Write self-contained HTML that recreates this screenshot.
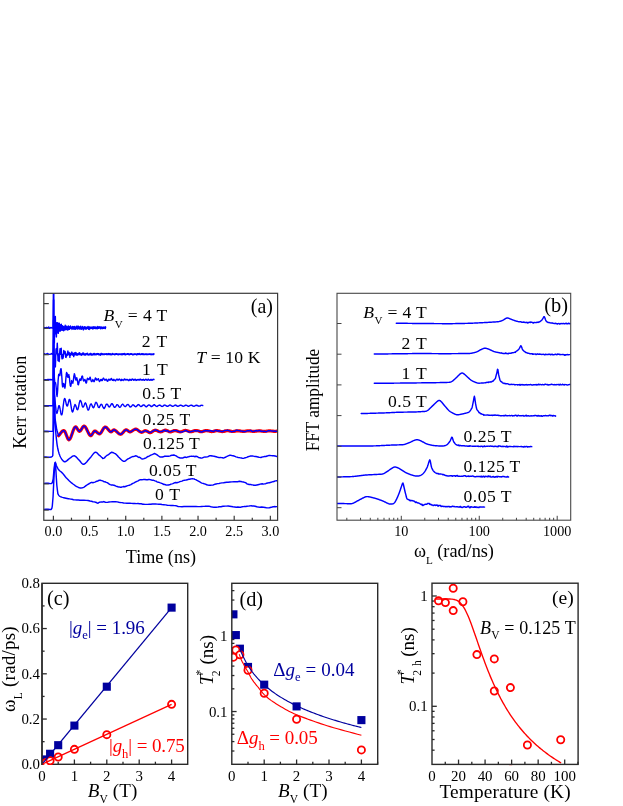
<!DOCTYPE html>
<html><head><meta charset="utf-8"><title>figure</title>
<style>
html,body{margin:0;padding:0;background:#fff;}
svg{display:block;font-family:"Liberation Serif", serif;will-change:transform;}
text{font-family:"Liberation Serif", serif;}
.i{font-style:italic;}
</style></head><body>
<svg width="623" height="806" viewBox="0 0 623 806">
<rect width="623" height="806" fill="#fff"/>
<defs>
<clipPath id="ca"><rect x="43.8" y="293.3" width="233.8" height="227"/></clipPath>
<clipPath id="cb"><rect x="337" y="293.3" width="233.7" height="227"/></clipPath>
<clipPath id="cc"><rect x="42" y="583.3" width="145.7" height="181.7"/></clipPath>
<clipPath id="cd"><rect x="231.8" y="583.3" width="145.9" height="181"/></clipPath>
<clipPath id="ce"><rect x="432" y="583.2" width="146.1" height="182.5"/></clipPath>
</defs>
<g clip-path="url(#ca)">
<path d="M43.80,328.61 L44.50,327.58 L45.20,327.82 L45.90,328.00 L46.60,327.42 L47.30,327.80 L48.00,327.80 L48.70,326.96 L49.40,328.29 L50.10,328.09 L50.80,327.50 L51.50,327.72 L52.20,328.04 L53.10,327.80 L53.50,280.00 L53.75,280.00 L53.91,328.91 L53.99,326.61 L54.07,328.75 L54.14,330.65 L54.22,336.53 L54.30,340.36 L54.38,342.66 L54.46,335.64 L54.54,331.24 L54.62,326.11 L54.70,320.49 L54.78,323.12 L54.86,327.40 L54.94,329.17 L55.02,331.95 L55.10,326.30 L55.18,323.70 L55.26,320.04 L55.34,316.45 L55.42,320.95 L55.50,322.97 L55.58,330.65 L55.66,332.62 L55.74,333.78 L55.82,329.08 L55.90,325.92 L55.97,326.33 L56.05,325.73 L56.13,329.59 L56.21,332.38 L56.29,336.10 L56.37,336.90 L56.45,334.24 L56.53,327.96 L56.61,322.62 L56.69,323.24 L56.77,325.05 L56.85,325.00 L56.93,328.86 L57.01,329.49 L57.09,327.76 L57.17,325.30 L57.25,322.93 L57.33,323.24 L57.41,322.73 L57.49,326.36 L57.57,328.27 L57.65,331.70 L57.72,333.07 L57.80,329.50 L57.88,325.57 L57.96,326.45 L58.04,327.50 L58.12,329.82 L58.20,332.05 L58.28,332.71 L58.36,333.17 L58.44,328.51 L58.52,327.52 L58.60,325.07 L58.68,323.26 L58.76,324.28 L58.84,327.81 L58.92,328.78 L59.00,328.60 L59.08,328.26 L59.16,327.80 L59.24,323.86 L59.32,323.30 L59.40,324.93 L59.47,328.34 L59.55,329.69 L59.63,331.05 L59.71,330.34 L59.79,327.40 L59.87,325.65 L59.95,325.75 L60.03,326.40 L60.11,327.75 L60.19,329.98 L60.27,330.83 L60.35,330.92 L60.43,328.82 L60.51,324.85 L60.59,324.90 L60.67,325.92 L60.75,326.99 L60.83,328.72 L60.91,328.56 L60.99,328.55 L61.07,329.27 L61.15,326.14 L61.23,326.09 L61.30,324.21 L61.38,326.32 L61.46,326.41 L61.54,329.68 L61.62,330.01 L61.70,329.00 L61.78,327.22 L61.86,326.62 L61.94,327.85 L62.02,327.07 L62.10,328.28 L62.18,329.72 L62.26,330.33 L62.34,327.74 L62.42,328.51 L62.50,327.68 L62.58,325.65 L62.66,326.18 L62.74,327.13 L62.82,327.34 L62.90,328.20 L62.98,328.21 L63.05,326.96 L63.13,326.61 L63.21,326.79 L63.29,326.66 L63.37,327.55 L63.45,327.97 L63.53,329.91 L63.61,330.78 L63.69,328.68 L63.77,329.10 L63.85,328.94 L63.93,326.77 L64.01,328.11 L64.09,327.84 L64.17,329.38 L64.25,330.06 L64.33,329.74 L64.41,328.29 L64.49,327.26 L64.57,327.30 L64.65,327.00 L64.73,328.64 L64.80,328.00 L64.88,329.87 L64.96,328.39 L65.04,327.10 L65.12,326.15 L65.20,325.29 L65.28,328.17 L65.36,326.84 L65.44,327.21 L65.52,327.92 L65.60,329.57 L65.68,328.10 L65.76,326.34 L65.84,328.66 L65.92,326.98 L66.00,326.79 L66.08,328.79 L66.16,328.15 L66.24,329.54 L66.32,328.96 L66.40,328.35 L66.48,326.98 L66.56,326.98 L66.63,326.30 L66.71,328.26 L66.79,328.06 L66.87,327.38 L66.95,327.56 L67.03,328.68 L67.11,326.69 L67.19,327.43 L67.27,326.93 L67.35,327.45 L67.43,327.24 L67.51,328.45 L67.59,330.01 L67.67,329.33 L67.75,327.28 L67.83,327.78 L67.91,326.68 L67.99,327.61 L68.07,328.76 L68.15,327.56 L68.23,328.99 L68.31,329.65 L68.38,326.00 L68.46,328.72 L68.54,326.62 L68.62,326.54 L68.70,327.47 L68.78,329.17 L68.86,327.21 L68.94,328.97 L69.02,328.63 L69.10,327.63 L69.18,326.69 L69.26,327.25 L69.34,327.22 L69.42,328.53 L69.50,328.53 L69.58,329.23 L69.66,328.38 L69.74,327.42 L69.82,327.92 L69.90,327.35 L69.98,328.32 L70.06,328.55 L70.13,328.19 L70.21,328.29 L70.29,327.44 L70.37,327.42 L70.45,326.02 L70.53,327.41 L70.61,327.55 L70.69,328.38 L70.77,327.80 L70.85,327.37 L70.93,328.33 L71.01,327.64 L71.09,326.94 L71.17,327.57 L71.25,328.03 L71.33,327.21 L71.41,328.10 L71.49,328.01 L71.57,327.40 L71.65,327.25 L71.73,328.14 L71.81,328.15 L71.88,327.58 L71.96,328.00 L72.04,329.40 L72.12,327.16 L72.20,327.97 L72.28,327.24 L72.36,328.37 L72.44,326.45 L72.52,327.77 L72.60,327.53 L72.68,328.62 L72.76,327.88 L72.84,327.97 L72.92,327.88 L73.00,327.33 L73.08,327.54 L73.16,326.93 L73.24,328.10 L73.32,328.68 L73.40,328.17 L73.48,327.79 L73.56,327.31 L73.64,327.47 L73.71,329.13 L73.79,327.56 L73.87,326.82 L73.95,327.86 L74.03,328.32 L74.11,327.75 L74.19,328.21 L74.27,327.25 L74.35,327.53 L74.43,326.46 L74.51,327.07 L74.59,328.00 L74.67,327.22 L74.75,327.10 L74.83,328.16 L74.91,328.03 L74.99,329.25 L75.07,327.06 L75.15,328.13 L75.23,329.30 L75.31,329.21 L75.39,328.28 L75.46,327.66 L75.54,328.18 L75.62,327.70 L75.70,328.65 L75.78,328.74 L75.86,327.25 L75.94,327.55 L76.02,327.92 L76.10,327.01 L76.18,328.40 L76.26,327.91 L76.34,326.84 L76.42,326.24 L76.50,327.46 L76.58,326.44 L76.66,328.04 L76.74,327.51 L76.82,327.87 L76.90,328.79 L76.98,327.57 L77.06,327.14 L77.14,327.91 L77.21,327.97 L77.29,327.13 L77.37,328.93 L77.45,329.10 L77.53,328.50 L77.61,328.76 L77.69,327.04 L77.77,327.65 L77.85,328.39 L77.93,328.24 L78.01,326.00 L78.09,328.18 L78.17,328.19 L78.25,327.41 L78.33,327.11 L78.41,327.34 L78.49,328.09 L78.57,328.32 L78.65,327.29 L78.73,327.76 L78.81,328.80 L78.89,327.04 L78.97,327.30 L79.04,327.97 L79.12,328.05 L79.20,327.82 L79.28,328.48 L79.36,328.94 L79.44,327.89 L79.52,328.94 L79.60,327.72 L79.68,328.79 L79.76,327.90 L79.84,327.90 L79.92,326.70 L80.00,328.43 L80.08,328.60 L80.16,328.05 L80.24,328.27 L80.32,327.89 L80.40,327.25 L80.48,327.07 L80.56,326.59 L80.64,328.13 L80.72,326.13 L80.79,326.57 L80.87,327.93 L80.95,329.23 L81.03,327.92 L81.11,327.89 L81.19,329.39 L81.27,328.01 L81.35,328.20 L81.43,328.53 L81.51,327.63 L81.59,327.33 L81.67,328.16 L81.75,327.68 L81.83,328.18 L81.91,328.23 L81.99,327.68 L82.07,327.36 L82.15,327.95 L82.23,328.88 L82.31,327.19 L82.39,328.49 L82.47,327.51 L82.54,326.59 L82.62,327.72 L82.70,328.47 L82.78,328.67 L82.86,327.16 L82.94,327.89 L83.02,327.60 L83.10,327.43 L83.18,328.05 L83.26,328.23 L83.34,328.61 L83.42,329.83 L83.50,328.86 L83.58,327.95 L83.66,327.95 L83.74,327.56 L83.82,327.83 L83.90,327.63 L83.98,327.23 L84.06,328.15 L84.14,327.76 L84.22,328.49 L84.30,326.99 L84.37,327.55 L84.45,327.33 L84.53,326.79 L84.61,327.12 L84.69,327.83 L84.77,327.39 L84.85,328.70 L84.93,327.67 L85.01,327.88 L85.09,328.91 L85.17,327.27 L85.25,328.44 L85.33,327.64 L85.41,328.23 L85.49,327.38 L85.57,327.14 L85.65,328.28 L85.73,328.62 L85.81,327.79 L85.89,327.21 L85.97,327.86 L86.05,327.96 L86.12,327.31 L86.20,329.11 L86.28,327.94 L86.36,328.37 L86.44,327.49 L86.52,328.12 L86.60,328.39 L86.68,328.03 L86.76,328.69 L86.84,327.92 L86.92,328.32 L87.00,328.19 L87.08,328.40 L87.16,327.52 L87.24,328.08 L87.32,327.71 L87.40,327.70 L87.48,328.34 L87.56,327.53 L87.64,327.59 L87.72,327.56 L87.80,327.91 L87.87,327.89 L87.95,327.20 L88.03,326.42 L88.11,328.03 L88.19,327.29 L88.27,327.80 L88.35,327.21 L88.43,327.45 L88.51,327.18 L88.59,329.31 L88.67,328.18 L88.75,328.44 L88.83,328.00 L88.91,328.36 L88.99,328.34 L89.07,327.65 L89.15,327.00 L89.23,329.50 L89.31,328.13 L89.39,327.76 L89.47,327.86 L89.55,327.99 L89.63,328.46 L89.70,328.20 L89.78,327.28 L89.86,327.06 L89.94,327.56 L90.02,328.03 L90.10,327.54 L90.18,327.73 L90.26,327.34 L90.34,327.61 L90.42,328.05 L90.50,327.69 L90.58,328.46 L90.66,327.47 L90.74,327.32 L90.82,328.58 L90.90,327.77 L90.98,328.52 L91.06,327.45 L91.14,327.53 L91.22,328.09 L91.30,327.42 L91.38,328.11 L91.45,328.16 L91.53,328.06 L91.61,327.79 L91.69,327.84 L91.77,327.56 L91.85,327.93 L91.93,327.21 L92.01,327.07 L92.09,327.86 L92.17,328.35 L92.25,327.29 L92.33,327.13 L92.41,327.85 L92.49,328.47 L92.57,327.74 L92.65,327.15 L92.73,328.91 L92.81,327.74 L92.89,328.16 L92.97,328.43 L93.05,327.75 L93.13,328.63 L93.20,327.79 L93.28,327.24 L93.36,327.76 L93.44,328.23 L93.52,328.62 L93.60,328.33 L93.68,328.57 L93.76,326.82 L93.84,327.73 L93.92,328.12 L94.00,328.25 L94.08,328.15 L94.16,327.82 L94.24,328.33 L94.32,326.92 L94.40,328.17 L94.48,328.24 L94.56,327.75 L94.64,327.23 L94.72,327.32 L94.80,328.23 L94.88,327.88 L94.96,327.92 L95.03,327.72 L95.11,327.83 L95.19,328.37 L95.27,328.48 L95.35,327.72 L95.43,328.33 L95.51,327.04 L95.59,327.64 L95.67,328.13 L95.75,327.76 L95.83,327.85 L95.91,327.67 L95.99,327.16 L96.07,328.34 L96.15,328.59 L96.23,327.57 L96.31,327.87 L96.39,327.76 L96.47,327.68 L96.55,328.02 L96.63,327.58 L96.71,328.42 L96.78,327.97 L96.86,328.39 L96.94,328.52 L97.02,327.66 L97.10,327.65 L97.18,328.80 L97.26,328.36 L97.34,327.63 L97.42,327.21 L97.50,327.99 L97.58,327.73 L97.66,328.28 L97.74,326.42 L97.82,327.38 L97.90,327.19 L97.98,327.33 L98.06,327.24 L98.14,327.43 L98.22,327.93 L98.30,327.47 L98.38,327.83 L98.46,327.31 L98.53,328.30 L98.61,328.23 L98.69,327.69 L98.77,327.40 L98.85,327.92 L98.93,328.29 L99.01,327.98 L99.09,328.12 L99.17,326.96 L99.25,327.37 L99.33,327.15 L99.41,327.55 L99.49,327.91 L99.57,327.08 L99.65,326.85 L99.73,327.34 L99.81,327.63 L99.89,327.14 L99.97,327.84 L100.05,327.36 L100.13,328.08 L100.21,328.25 L100.29,327.59 L100.36,327.75 L100.44,327.07 L100.52,328.10 L100.60,327.98 L100.68,328.51 L100.76,328.84 L100.84,328.78 L100.92,327.73 L101.00,328.43 L101.08,327.34 L101.16,327.16 L101.24,327.88 L101.32,326.96 L101.40,327.56 L101.48,327.13 L101.56,327.72 L101.64,327.18 L101.72,328.04 L101.80,327.35 L101.88,327.87 L101.96,327.75 L102.04,327.46 L102.11,327.71 L102.19,327.87 L102.27,327.56 L102.35,327.57 L102.43,328.58 L102.51,327.73 L102.59,327.69 L102.67,328.32 L102.75,327.80 L102.83,328.53 L102.91,327.27 L102.99,327.97 L103.07,327.85 L103.15,327.24 L103.23,327.79 L103.31,327.42 L103.39,328.11 L103.47,327.87 L103.55,328.23 L103.63,327.71 L103.71,327.17 L103.79,327.55 L103.86,327.30 L103.94,328.18 L104.02,328.16 L104.10,328.03 L104.18,327.62 L104.26,327.76 L104.34,327.95 L104.42,327.70 L104.50,328.05 L104.58,328.00 L104.66,327.41 L104.74,328.21 L104.82,327.84 L104.90,327.18 L104.98,327.79 L105.06,327.48 L105.14,328.00 L105.22,326.85 L105.30,328.63 L105.38,328.12 L105.46,328.07 L105.54,326.92 L105.62,327.47" fill="none" stroke="#0000ff" stroke-width="1.45" stroke-linejoin="round" stroke-linecap="round" />
<path d="M43.80,354.08 L44.50,353.62 L45.20,354.36 L45.90,354.25 L46.60,353.89 L47.30,353.53 L48.00,353.70 L48.70,354.30 L49.40,354.34 L50.10,354.23 L50.80,354.13 L51.50,353.40 L52.20,354.22 L53.10,354.20 L53.50,300.00 L53.75,300.00 L53.91,357.11 L54.00,358.37 L54.09,358.93 L54.19,359.67 L54.28,358.86 L54.38,355.59 L54.47,354.76 L54.56,354.82 L54.66,356.97 L54.75,355.58 L54.85,357.04 L54.94,359.22 L55.03,363.45 L55.13,365.70 L55.22,366.94 L55.32,366.10 L55.41,366.75 L55.50,363.68 L55.60,361.34 L55.69,356.96 L55.79,355.22 L55.88,350.95 L55.97,349.91 L56.07,348.96 L56.16,348.60 L56.26,349.08 L56.35,352.74 L56.44,351.79 L56.54,352.96 L56.63,353.75 L56.73,351.67 L56.82,351.23 L56.91,348.47 L57.01,348.02 L57.10,346.59 L57.20,343.95 L57.29,343.14 L57.38,345.30 L57.48,346.92 L57.57,350.47 L57.67,353.88 L57.76,355.63 L57.85,356.41 L57.95,360.42 L58.04,359.88 L58.14,360.70 L58.23,358.26 L58.32,356.49 L58.42,356.98 L58.51,355.55 L58.61,353.99 L58.70,355.48 L58.80,357.33 L58.89,358.73 L58.98,360.68 L59.08,359.76 L59.17,361.58 L59.27,360.19 L59.36,359.52 L59.45,359.16 L59.55,357.07 L59.64,353.90 L59.74,352.28 L59.83,350.52 L59.92,350.87 L60.02,348.63 L60.11,350.23 L60.21,352.03 L60.30,351.86 L60.39,352.12 L60.49,351.65 L60.58,353.76 L60.68,354.25 L60.77,351.10 L60.86,351.55 L60.96,350.82 L61.05,350.53 L61.15,350.01 L61.24,348.32 L61.33,350.24 L61.43,351.65 L61.52,353.22 L61.62,353.50 L61.71,356.66 L61.80,357.10 L61.90,358.16 L61.99,358.42 L62.09,358.90 L62.18,357.13 L62.27,355.56 L62.37,355.80 L62.46,355.71 L62.56,355.61 L62.65,354.66 L62.74,355.42 L62.84,355.99 L62.93,356.67 L63.03,358.32 L63.12,357.12 L63.21,357.41 L63.31,357.06 L63.40,355.88 L63.50,354.16 L63.59,353.37 L63.68,352.69 L63.78,350.35 L63.87,350.82 L63.97,350.87 L64.06,351.72 L64.15,351.31 L64.25,352.80 L64.34,353.24 L64.44,353.24 L64.53,353.86 L64.62,353.24 L64.72,353.41 L64.81,353.38 L64.91,352.77 L65.00,352.41 L65.09,351.42 L65.19,351.90 L65.28,352.62 L65.38,352.59 L65.47,354.05 L65.56,355.48 L65.66,357.12 L65.75,356.66 L65.85,357.22 L65.94,357.40 L66.03,357.42 L66.13,357.12 L66.22,356.05 L66.32,355.07 L66.41,354.74 L66.50,354.42 L66.60,354.55 L66.69,354.24 L66.79,354.66 L66.88,355.68 L66.97,355.12 L67.07,355.28 L67.16,355.21 L67.26,355.43 L67.35,354.88 L67.44,354.69 L67.54,352.71 L67.63,353.69 L67.73,352.06 L67.82,351.72 L67.91,351.00 L68.01,351.78 L68.10,352.83 L68.20,353.69 L68.29,353.87 L68.38,353.87 L68.48,354.20 L68.57,354.44 L68.67,354.61 L68.76,354.07 L68.85,353.05 L68.95,353.99 L69.04,353.19 L69.14,352.33 L69.23,353.20 L69.32,354.24 L69.42,354.19 L69.51,355.63 L69.61,355.78 L69.70,355.33 L69.79,355.36 L69.89,357.37 L69.98,355.77 L70.08,354.65 L70.17,355.54 L70.27,354.59 L70.36,353.47 L70.45,354.31 L70.55,353.69 L70.64,354.04 L70.74,355.26 L70.83,354.25 L70.92,354.76 L71.02,354.27 L71.11,353.61 L71.21,354.18 L71.30,354.40 L71.39,353.51 L71.49,353.16 L71.58,352.28 L71.68,353.29 L71.77,353.00 L71.86,353.51 L71.96,352.31 L72.05,353.01 L72.15,353.77 L72.24,354.24 L72.33,354.52 L72.43,354.95 L72.52,354.72 L72.62,354.77 L72.71,353.64 L72.80,354.01 L72.90,354.43 L72.99,354.21 L73.09,353.30 L73.18,353.83 L73.27,354.17 L73.37,354.29 L73.46,354.21 L73.56,355.98 L73.65,355.97 L73.74,356.57 L73.84,355.37 L73.93,355.62 L74.03,355.46 L74.12,355.14 L74.21,354.04 L74.31,354.16 L74.40,354.15 L74.50,353.16 L74.59,354.34 L74.68,354.56 L74.78,352.78 L74.87,354.40 L74.97,354.57 L75.06,354.66 L75.15,354.27 L75.25,353.62 L75.34,353.38 L75.44,353.21 L75.53,353.37 L75.62,353.80 L75.72,352.88 L75.81,352.34 L75.91,352.74 L76.00,353.60 L76.09,353.44 L76.19,354.31 L76.28,354.41 L76.38,355.15 L76.47,354.79 L76.56,354.56 L76.66,354.62 L76.75,354.05 L76.85,353.41 L76.94,353.60 L77.03,354.36 L77.13,354.63 L77.22,354.73 L77.32,355.07 L77.41,354.80 L77.50,354.80 L77.60,355.02 L77.69,355.05 L77.79,355.00 L77.88,354.98 L77.97,355.03 L78.07,353.64 L78.16,353.70 L78.26,354.38 L78.35,354.23 L78.44,354.02 L78.54,353.75 L78.63,353.26 L78.73,353.47 L78.82,353.54 L78.91,353.60 L79.01,353.61 L79.10,353.73 L79.20,353.76 L79.29,353.88 L79.38,354.46 L79.48,353.62 L79.57,352.68 L79.67,353.71 L79.76,353.81 L79.85,353.22 L79.95,353.83 L80.04,354.29 L80.14,353.61 L80.23,354.19 L80.32,354.26 L80.42,354.89 L80.51,354.43 L80.61,354.42 L80.70,354.17 L80.79,353.93 L80.89,353.88 L80.98,354.26 L81.08,354.06 L81.17,354.91 L81.26,354.24 L81.36,354.33 L81.45,354.87 L81.55,355.09 L81.64,354.78 L81.73,355.20 L81.83,354.43 L81.92,354.29 L82.02,354.63 L82.11,354.04 L82.21,353.47 L82.30,353.37 L82.39,353.34 L82.49,353.83 L82.58,353.95 L82.68,354.04 L82.77,353.71 L82.86,353.05 L82.96,353.47 L83.05,353.39 L83.15,353.44 L83.24,354.59 L83.33,353.94 L83.43,353.98 L83.52,353.27 L83.62,353.11 L83.71,354.12 L83.80,353.94 L83.90,353.86 L83.99,354.43 L84.09,354.63 L84.18,354.77 L84.27,354.23 L84.37,354.98 L84.46,354.17 L84.56,354.54 L84.65,354.22 L84.74,353.84 L84.84,354.66 L84.93,354.68 L85.03,354.19 L85.12,354.78 L85.21,354.70 L85.31,354.51 L85.40,354.44 L85.50,354.99 L85.59,354.64 L85.68,354.21 L85.78,353.83 L85.87,354.98 L85.97,353.61 L86.06,353.65 L86.15,354.31 L86.25,354.39 L86.34,353.64 L86.44,353.96 L86.53,353.79 L86.62,353.57 L86.72,354.10 L86.81,353.95 L86.91,353.87 L87.00,353.73 L87.09,353.40 L87.19,353.40 L87.28,353.92 L87.38,354.07 L87.47,353.11 L87.56,353.77 L87.66,353.90 L87.75,354.54 L87.85,353.95 L87.94,354.62 L88.03,354.60 L88.13,354.99 L88.22,354.75 L88.32,354.56 L88.41,355.11 L88.50,354.86 L88.60,354.51 L88.69,354.88 L88.79,354.83 L88.88,354.64 L88.97,354.82 L89.07,354.10 L89.16,354.68 L89.26,354.06 L89.35,354.01 L89.44,354.76 L89.54,354.29 L89.63,354.43 L89.73,354.59 L89.82,354.23 L89.91,354.12 L90.01,353.71 L90.10,353.54 L90.20,354.24 L90.29,353.99 L90.38,353.67 L90.48,353.48 L90.57,354.78 L90.67,353.55 L90.76,354.10 L90.85,353.55 L90.95,354.25 L91.04,354.41 L91.14,354.11 L91.23,353.72 L91.32,354.12 L91.42,354.94 L91.51,353.93 L91.61,354.75 L91.70,354.59 L91.79,354.72 L91.89,355.01 L91.98,354.87 L92.08,354.83 L92.17,354.73 L92.26,354.55 L92.36,354.62 L92.45,354.97 L92.55,354.49 L92.64,354.06 L92.73,354.02 L92.83,354.25 L92.92,354.06 L93.02,353.95 L93.11,353.78 L93.20,353.67 L93.30,354.32 L93.39,354.29 L93.49,353.69 L93.58,353.63 L93.68,353.59 L93.77,354.81 L93.86,354.06 L93.96,355.00 L94.05,353.68 L94.15,353.88 L94.24,353.88 L94.33,353.96 L94.43,353.54 L94.52,354.09 L94.62,353.72 L94.71,353.92 L94.80,354.02 L94.90,354.02 L94.99,354.16 L95.09,354.56 L95.18,353.99 L95.27,354.01 L95.37,354.29 L95.46,354.04 L95.56,354.02 L95.65,354.74 L95.74,354.42 L95.84,354.55 L95.93,354.73 L96.03,354.37 L96.12,354.74 L96.21,354.60 L96.31,354.37 L96.40,354.30 L96.50,354.27 L96.59,353.63 L96.68,354.43 L96.78,354.15 L96.87,354.57 L96.97,354.02 L97.06,353.80 L97.15,353.77 L97.25,354.32 L97.34,354.19 L97.44,353.71 L97.53,354.10 L97.62,353.75 L97.72,354.30 L97.81,353.57 L97.91,353.65 L98.00,353.81 L98.09,354.19 L98.19,354.01 L98.28,353.95 L98.38,353.95 L98.47,354.10 L98.56,354.18 L98.66,354.10 L98.75,353.79 L98.85,354.83 L98.94,354.67 L99.03,354.74 L99.13,354.50 L99.22,354.82 L99.32,354.16 L99.41,354.31 L99.50,354.43 L99.60,354.57 L99.69,354.35 L99.79,354.36 L99.88,354.33 L99.97,354.64 L100.07,354.23 L100.16,354.82 L100.26,354.01 L100.35,355.22 L100.44,354.46 L100.54,354.59 L100.63,353.98 L100.73,354.59 L100.82,353.61 L100.91,354.55 L101.01,353.51 L101.10,353.95 L101.20,354.05 L101.29,353.93 L101.38,353.42 L101.48,353.78 L101.57,354.65 L101.67,353.67 L101.76,353.94 L101.85,354.45 L101.95,353.79 L102.04,354.36 L102.14,353.99 L102.23,354.00 L102.32,354.29 L102.42,353.97 L102.51,354.47 L102.61,354.18 L102.70,354.42 L102.79,354.35 L102.89,353.79 L102.98,354.31 L103.08,354.65 L103.17,354.39 L103.26,354.58 L103.36,354.36 L103.45,354.33 L103.55,354.36 L103.64,354.36 L103.73,354.53 L103.83,354.26 L103.92,354.08 L104.02,354.52 L104.11,354.34 L104.20,354.27 L104.30,353.92 L104.39,353.92 L104.49,354.37 L104.58,354.12 L104.67,354.50 L104.77,354.34 L104.86,354.05 L104.96,353.87 L105.05,353.78 L105.14,354.11 L105.24,354.38 L105.33,353.92 L105.43,354.07 L105.52,353.92 L105.62,353.99 L105.71,353.85 L105.80,353.88 L105.90,353.85 L105.99,354.21 L106.09,353.86 L106.18,354.28 L106.27,354.16 L106.37,353.74 L106.46,354.17 L106.56,354.59 L106.65,353.93 L106.74,354.09 L106.84,354.07 L106.93,354.32 L107.03,354.29 L107.12,354.44 L107.21,354.56 L107.31,353.98 L107.40,354.46 L107.50,354.48 L107.59,354.46 L107.68,353.86 L107.78,354.09 L107.87,354.39 L107.97,354.28 L108.06,354.11 L108.15,353.99 L108.25,354.59 L108.34,353.92 L108.44,354.17 L108.53,354.26 L108.62,354.16 L108.72,353.84 L108.81,353.59 L108.91,353.98 L109.00,353.88 L109.09,354.22 L109.19,353.91 L109.28,353.83 L109.38,354.42 L109.47,354.19 L109.56,353.88 L109.66,354.53 L109.75,354.21 L109.85,353.99 L109.94,354.58 L110.03,354.29 L110.13,354.21 L110.22,354.04 L110.32,354.60 L110.41,354.04 L110.50,354.26 L110.60,354.07 L110.69,354.09 L110.79,354.30 L110.88,354.26 L110.97,354.80 L111.07,354.70 L111.16,354.60 L111.26,354.43 L111.35,354.11 L111.44,354.74 L111.54,354.37 L111.63,354.59 L111.73,354.62 L111.82,353.87 L111.91,354.18 L112.01,353.78 L112.10,353.86 L112.20,354.33 L112.29,354.53 L112.38,353.57 L112.48,354.14 L112.57,354.30 L112.67,353.86 L112.76,353.99 L112.85,354.18 L112.95,354.11 L113.04,354.00 L113.14,354.04 L113.23,353.90 L113.32,354.18 L113.42,354.19 L113.51,354.00 L113.61,354.09 L113.70,353.93 L113.79,354.27 L113.89,354.26 L113.98,354.53 L114.08,353.94 L114.17,354.63 L114.26,354.29 L114.36,354.56 L114.45,354.29 L114.55,354.20 L114.64,354.76 L114.73,354.42 L114.83,354.77 L114.92,354.04 L115.02,354.44 L115.11,354.68 L115.20,354.46 L115.30,353.98 L115.39,353.92 L115.49,353.94 L115.58,354.39 L115.67,354.22 L115.77,353.79 L115.86,354.30 L115.96,354.19 L116.05,354.30 L116.14,354.33 L116.24,353.78 L116.33,353.90 L116.43,353.93 L116.52,353.90 L116.61,353.80 L116.71,353.70 L116.80,354.05 L116.90,354.14 L116.99,354.31 L117.08,353.86 L117.18,354.24 L117.27,354.48 L117.37,354.23 L117.46,354.19 L117.56,354.04 L117.65,354.03 L117.74,354.43 L117.84,354.47 L117.93,354.39 L118.03,354.60 L118.12,354.37 L118.21,354.26 L118.31,354.36 L118.40,354.72 L118.50,354.63 L118.59,354.08 L118.68,354.57 L118.78,354.17 L118.87,354.18 L118.97,354.36 L119.06,354.49 L119.15,354.20 L119.25,354.41 L119.34,354.23 L119.44,354.15 L119.53,354.30 L119.62,354.17 L119.72,354.17 L119.81,354.35 L119.91,354.11 L120.00,354.19 L120.09,354.44 L120.19,354.11 L120.28,354.10 L120.38,354.17 L120.47,354.48 L120.56,353.89 L120.66,353.92 L120.75,353.95 L120.85,354.04 L120.94,354.40 L121.03,354.13 L121.13,354.38 L121.22,353.75 L121.32,354.34 L121.41,354.12 L121.50,354.61 L121.60,354.55 L121.69,354.43 L121.79,354.18 L121.88,354.23 L121.97,354.29 L122.07,354.75 L122.16,354.12 L122.26,354.55 L122.35,354.01 L122.44,353.95 L122.54,354.15 L122.63,354.10 L122.73,354.55 L122.82,353.73 L122.91,354.19 L123.01,354.00 L123.10,354.36 L123.20,354.17 L123.29,354.38 L123.38,354.17 L123.48,354.09 L123.57,354.03 L123.67,353.78 L123.76,353.96 L123.85,354.00 L123.95,354.04 L124.04,353.63 L124.14,354.17 L124.23,353.81 L124.32,354.47 L124.42,354.26 L124.51,354.01 L124.61,354.15 L124.70,353.53 L124.79,353.64 L124.89,354.50 L124.98,354.44 L125.08,354.27 L125.17,353.91 L125.26,354.06 L125.36,354.24 L125.45,354.61 L125.55,354.50 L125.64,354.89 L125.73,354.66 L125.83,354.27 L125.92,354.19 L126.02,354.61 L126.11,354.32 L126.20,354.00 L126.30,354.28 L126.39,354.36 L126.49,354.15 L126.58,354.15 L126.67,354.21 L126.77,354.31 L126.86,354.26 L126.96,354.14 L127.05,354.24 L127.14,353.85 L127.24,353.91 L127.33,353.86 L127.43,353.66 L127.52,353.74 L127.61,353.77 L127.71,353.98 L127.80,354.09 L127.90,353.60 L127.99,354.20 L128.08,354.20 L128.18,354.26 L128.27,354.07 L128.37,354.05 L128.46,353.95 L128.55,354.22 L128.65,354.54 L128.74,354.16 L128.84,354.06 L128.93,354.26 L129.03,354.32 L129.12,354.20 L129.21,354.04 L129.31,354.35 L129.40,354.62 L129.50,354.46 L129.59,354.38 L129.68,354.69 L129.78,354.19 L129.87,354.48 L129.97,354.22 L130.06,354.26 L130.15,354.34 L130.25,353.95 L130.34,354.35 L130.44,354.35 L130.53,354.14 L130.62,354.01 L130.72,354.15 L130.81,354.32 L130.91,353.98 L131.00,353.97 L131.09,353.68 L131.19,354.11 L131.28,354.02 L131.38,354.16 L131.47,354.34 L131.56,354.04 L131.66,353.90 L131.75,354.27 L131.85,354.22 L131.94,354.33 L132.03,353.87 L132.13,354.26 L132.22,354.05 L132.32,354.35 L132.41,354.19 L132.50,354.35 L132.60,354.70 L132.69,354.26 L132.79,354.19 L132.88,354.70 L132.97,354.36 L133.07,354.42 L133.16,354.54 L133.26,354.39 L133.35,354.71 L133.44,354.29 L133.54,354.11 L133.63,354.56 L133.73,354.32 L133.82,354.03 L133.91,354.25 L134.01,354.35 L134.10,354.40 L134.20,354.18 L134.29,354.21 L134.38,354.05 L134.48,354.43 L134.57,353.92 L134.67,354.18 L134.76,353.97 L134.85,354.21 L134.95,354.31 L135.04,354.17 L135.14,354.23 L135.23,354.13 L135.32,353.94 L135.42,353.87 L135.51,354.05 L135.61,354.20 L135.70,354.20 L135.79,354.02 L135.89,353.94 L135.98,354.23 L136.08,354.22 L136.17,354.35 L136.26,354.20 L136.36,354.08 L136.45,354.81 L136.55,354.25 L136.64,354.41 L136.73,354.75 L136.83,354.27 L136.92,354.35 L137.02,354.27 L137.11,354.59 L137.20,353.94 L137.30,354.30 L137.39,354.37 L137.49,354.02 L137.58,354.16 L137.67,354.11 L137.77,354.03 L137.86,354.60 L137.96,353.90 L138.05,354.24 L138.14,354.11 L138.24,353.97 L138.33,354.25 L138.43,354.05 L138.52,353.95 L138.61,354.08 L138.71,353.98 L138.80,354.35 L138.90,354.28 L138.99,354.27 L139.08,354.00 L139.18,353.41 L139.27,354.04 L139.37,354.13 L139.46,354.13 L139.55,353.97 L139.65,354.03 L139.74,354.39 L139.84,354.02 L139.93,354.23 L140.02,354.10 L140.12,354.62 L140.21,354.56 L140.31,354.19 L140.40,354.63 L140.49,354.25 L140.59,354.27 L140.68,354.31 L140.78,354.27 L140.87,354.28 L140.97,354.25 L141.06,354.39 L141.15,354.31 L141.25,353.77 L141.34,354.07 L141.44,354.15 L141.53,354.16 L141.62,354.34 L141.72,354.15 L141.81,354.21 L141.91,353.99 L142.00,354.29 L142.09,354.53 L142.19,354.20 L142.28,353.97 L142.38,353.65 L142.47,353.89 L142.56,354.24 L142.66,354.11 L142.75,354.24 L142.85,354.11 L142.94,354.24 L143.03,354.39 L143.13,354.04 L143.22,354.10 L143.32,354.18 L143.41,354.11 L143.50,353.84 L143.60,354.19 L143.69,354.30 L143.79,354.10 L143.88,354.55 L143.97,354.16 L144.07,354.43 L144.16,354.45 L144.26,354.30 L144.35,354.04 L144.44,354.46 L144.54,354.16 L144.63,354.26 L144.73,354.56 L144.82,354.15 L144.91,354.44 L145.01,354.53 L145.10,354.40 L145.20,354.37 L145.29,354.12 L145.38,354.33 L145.48,353.93 L145.57,354.13 L145.67,354.27 L145.76,354.27 L145.85,354.07 L145.95,354.44 L146.04,354.46 L146.14,354.23 L146.23,353.97 L146.32,354.04 L146.42,354.07 L146.51,354.11 L146.61,354.46 L146.70,354.15 L146.79,354.41 L146.89,353.98 L146.98,354.14 L147.08,354.17 L147.17,354.11 L147.26,354.14 L147.36,354.18 L147.45,354.18 L147.55,354.36 L147.64,354.50 L147.73,354.23 L147.83,354.06 L147.92,354.14 L148.02,354.36 L148.11,354.22 L148.20,354.40 L148.30,354.26 L148.39,354.42 L148.49,354.29 L148.58,353.96 L148.67,354.16 L148.77,354.02 L148.86,354.38 L148.96,354.35 L149.05,354.22 L149.14,354.10 L149.24,354.21 L149.33,353.99 L149.43,354.23 L149.52,353.90 L149.61,353.95 L149.71,354.28 L149.80,353.99 L149.90,354.12 L149.99,353.91 L150.08,354.17 L150.18,354.03 L150.27,353.99 L150.37,354.55 L150.46,354.42 L150.55,354.10 L150.65,354.15 L150.74,353.98 L150.84,354.13 L150.93,354.40 L151.02,354.15 L151.12,354.35 L151.21,354.28 L151.31,354.35 L151.40,354.22 L151.49,354.53 L151.59,354.49 L151.68,354.68 L151.78,353.96 L151.87,354.49 L151.96,354.46 L152.06,354.51 L152.15,354.42 L152.25,354.38 L152.34,354.19 L152.44,354.25 L152.53,354.21 L152.62,354.34 L152.72,354.24 L152.81,354.01 L152.91,354.19 L153.00,354.12 L153.09,354.49 L153.19,354.05 L153.28,354.08 L153.38,353.90 L153.47,354.55 L153.56,354.09 L153.66,354.10 L153.75,354.07 L153.85,354.19 L153.94,354.05 L154.03,353.98" fill="none" stroke="#0000ff" stroke-width="1.4" stroke-linejoin="round" stroke-linecap="round" />
<path d="M43.80,379.81 L44.50,379.73 L45.20,379.75 L45.90,379.70 L46.60,379.81 L47.30,379.62 L48.00,379.32 L48.70,380.12 L49.40,379.37 L50.10,379.77 L50.80,379.48 L51.50,379.73 L52.20,379.56 L53.10,379.80 L53.50,320.00 L53.75,320.00 L53.91,368.61 L54.05,372.15 L54.20,375.39 L54.34,377.21 L54.48,378.88 L54.63,381.09 L54.77,382.34 L54.92,383.58 L55.06,383.28 L55.21,382.98 L55.35,383.47 L55.50,382.66 L55.64,383.40 L55.79,383.80 L55.93,385.24 L56.08,386.60 L56.22,387.91 L56.37,389.67 L56.51,391.54 L56.65,393.89 L56.80,395.04 L56.94,395.45 L57.09,396.51 L57.23,394.50 L57.38,393.63 L57.52,391.93 L57.67,389.97 L57.81,386.57 L57.96,384.36 L58.10,380.61 L58.25,378.93 L58.39,377.83 L58.53,375.23 L58.68,374.84 L58.82,374.33 L58.97,374.12 L59.11,374.30 L59.26,374.49 L59.40,374.64 L59.55,375.03 L59.69,375.59 L59.84,375.58 L59.98,374.69 L60.13,373.23 L60.27,371.88 L60.42,370.26 L60.56,370.60 L60.70,369.05 L60.85,368.67 L60.99,368.69 L61.14,368.92 L61.28,370.12 L61.43,371.65 L61.57,373.76 L61.72,375.51 L61.86,377.55 L62.01,379.58 L62.15,382.63 L62.30,384.61 L62.44,385.58 L62.58,386.67 L62.73,386.22 L62.87,386.99 L63.02,386.23 L63.16,386.27 L63.31,385.20 L63.45,384.38 L63.60,383.40 L63.74,384.19 L63.89,383.85 L64.03,385.27 L64.18,385.50 L64.32,386.06 L64.46,386.66 L64.61,386.89 L64.75,387.19 L64.90,388.18 L65.04,386.94 L65.19,386.85 L65.33,384.44 L65.48,383.53 L65.62,381.82 L65.77,380.05 L65.91,378.10 L66.06,376.35 L66.20,375.17 L66.35,373.48 L66.49,372.99 L66.63,372.54 L66.78,372.99 L66.92,373.15 L67.07,374.40 L67.21,373.46 L67.36,375.93 L67.50,376.49 L67.65,376.40 L67.79,376.52 L67.94,377.29 L68.08,377.38 L68.23,376.87 L68.37,376.23 L68.51,375.69 L68.66,375.14 L68.80,374.58 L68.95,374.77 L69.09,375.95 L69.24,376.37 L69.38,377.39 L69.53,378.57 L69.67,380.66 L69.82,382.40 L69.96,383.24 L70.11,384.15 L70.25,385.81 L70.40,385.44 L70.54,385.71 L70.68,386.26 L70.83,386.27 L70.97,385.20 L71.12,384.28 L71.26,383.10 L71.41,383.11 L71.55,380.99 L71.70,380.59 L71.84,381.50 L71.99,381.93 L72.13,381.52 L72.28,381.62 L72.42,381.64 L72.56,382.16 L72.71,382.63 L72.85,383.20 L73.00,382.01 L73.14,381.32 L73.29,380.91 L73.43,379.68 L73.58,378.57 L73.72,377.55 L73.87,376.75 L74.01,375.27 L74.16,375.15 L74.30,373.74 L74.45,374.41 L74.59,374.12 L74.73,375.01 L74.88,375.31 L75.02,376.33 L75.17,376.94 L75.31,378.21 L75.46,379.20 L75.60,379.28 L75.75,379.63 L75.89,380.13 L76.04,379.79 L76.18,379.91 L76.33,379.04 L76.47,378.92 L76.61,378.58 L76.76,377.67 L76.90,378.59 L77.05,378.85 L77.19,379.31 L77.34,380.27 L77.48,381.26 L77.63,381.67 L77.77,382.49 L77.92,384.52 L78.06,384.22 L78.21,384.63 L78.35,384.79 L78.50,384.04 L78.64,384.19 L78.78,383.13 L78.93,382.82 L79.07,381.95 L79.22,380.80 L79.36,380.54 L79.51,379.79 L79.65,379.69 L79.80,379.43 L79.94,378.92 L80.09,379.11 L80.23,379.88 L80.38,380.17 L80.52,379.27 L80.66,380.41 L80.81,380.51 L80.95,379.95 L81.10,380.03 L81.24,379.44 L81.39,378.47 L81.53,377.78 L81.68,377.48 L81.82,376.42 L81.97,376.39 L82.11,376.13 L82.26,375.98 L82.40,376.21 L82.54,376.32 L82.69,376.92 L82.83,377.90 L82.98,378.36 L83.12,379.31 L83.27,380.00 L83.41,380.44 L83.56,380.51 L83.70,380.95 L83.85,380.72 L83.99,380.54 L84.14,380.79 L84.28,380.68 L84.43,380.45 L84.57,379.91 L84.71,379.61 L84.86,379.40 L85.00,380.35 L85.15,380.00 L85.29,380.35 L85.44,380.43 L85.58,381.57 L85.73,382.10 L85.87,382.90 L86.02,382.94 L86.16,383.11 L86.31,382.98 L86.45,382.67 L86.59,382.40 L86.74,381.43 L86.88,380.66 L87.03,379.90 L87.17,379.51 L87.32,378.67 L87.46,378.27 L87.61,378.74 L87.75,378.32 L87.90,378.65 L88.04,378.76 L88.19,378.71 L88.33,379.09 L88.48,378.94 L88.62,379.00 L88.76,379.55 L88.91,379.71 L89.05,379.56 L89.20,379.29 L89.34,378.81 L89.49,378.78 L89.63,378.07 L89.78,377.97 L89.92,377.40 L90.07,377.23 L90.21,377.19 L90.36,377.89 L90.50,378.56 L90.64,379.11 L90.79,379.29 L90.93,380.15 L91.08,380.75 L91.22,380.89 L91.37,381.43 L91.51,381.23 L91.66,381.01 L91.80,381.52 L91.95,381.21 L92.09,381.44 L92.24,380.70 L92.38,380.62 L92.53,380.46 L92.67,380.47 L92.81,379.51 L92.96,380.34 L93.10,380.37 L93.25,380.27 L93.39,380.47 L93.54,380.76 L93.68,381.07 L93.83,381.52 L93.97,381.22 L94.12,381.35 L94.26,381.61 L94.41,380.60 L94.55,380.71 L94.69,379.95 L94.84,380.06 L94.98,379.52 L95.13,378.95 L95.27,378.64 L95.42,378.00 L95.56,378.54 L95.71,378.13 L95.85,378.56 L96.00,378.42 L96.14,378.78 L96.29,379.27 L96.43,378.88 L96.58,379.66 L96.72,379.53 L96.86,380.17 L97.01,379.84 L97.15,379.66 L97.30,379.45 L97.44,379.34 L97.59,379.23 L97.73,379.57 L97.88,378.86 L98.02,378.91 L98.17,378.83 L98.31,378.75 L98.46,378.71 L98.60,379.46 L98.74,379.74 L98.89,380.23 L99.03,380.57 L99.18,380.91 L99.32,381.31 L99.47,381.43 L99.61,381.27 L99.76,380.81 L99.90,380.84 L100.05,380.38 L100.19,380.75 L100.34,380.11 L100.48,379.82 L100.62,379.61 L100.77,379.94 L100.91,380.02 L101.06,380.15 L101.20,379.90 L101.35,379.45 L101.49,380.13 L101.64,380.63 L101.78,380.41 L101.93,380.62 L102.07,380.49 L102.22,380.51 L102.36,380.50 L102.51,380.06 L102.65,379.46 L102.79,379.23 L102.94,378.71 L103.08,378.95 L103.23,378.29 L103.37,378.40 L103.52,378.37 L103.66,378.23 L103.81,378.71 L103.95,378.87 L104.10,379.06 L104.24,379.34 L104.39,379.56 L104.53,379.66 L104.67,379.97 L104.82,380.24 L104.96,379.59 L105.11,380.04 L105.25,379.81 L105.40,379.88 L105.54,380.03 L105.69,379.58 L105.83,379.31 L105.98,379.19 L106.12,379.36 L106.27,379.32 L106.41,379.48 L106.56,379.73 L106.70,380.21 L106.84,380.46 L106.99,380.75 L107.13,381.07 L107.28,380.68 L107.42,381.27 L107.57,380.95 L107.71,380.74 L107.86,381.02 L108.00,380.16 L108.15,380.13 L108.29,379.75 L108.44,379.66 L108.58,379.75 L108.72,379.30 L108.87,379.31 L109.01,379.18 L109.16,379.40 L109.30,379.99 L109.45,379.57 L109.59,379.78 L109.74,379.89 L109.88,380.01 L110.03,380.24 L110.17,379.91 L110.32,379.96 L110.46,379.10 L110.61,379.53 L110.75,379.48 L110.89,379.12 L111.04,378.60 L111.18,378.91 L111.33,379.26 L111.47,378.51 L111.62,378.86 L111.76,379.21 L111.91,379.19 L112.05,379.77 L112.20,380.06 L112.34,379.84 L112.49,380.30 L112.63,380.19 L112.77,380.34 L112.92,380.14 L113.06,380.20 L113.21,380.51 L113.35,379.82 L113.50,379.90 L113.64,379.51 L113.79,379.58 L113.93,379.29 L114.08,379.66 L114.22,380.10 L114.37,379.89 L114.51,379.89 L114.66,380.25 L114.80,380.45 L114.94,380.21 L115.09,380.63 L115.23,380.44 L115.38,380.59 L115.52,380.81 L115.67,380.56 L115.81,380.24 L115.96,379.90 L116.10,379.90 L116.25,379.81 L116.39,379.57 L116.54,379.36 L116.68,379.37 L116.82,379.32 L116.97,378.91 L117.11,379.33 L117.26,379.67 L117.40,379.66 L117.55,379.49 L117.69,379.77 L117.84,379.97 L117.98,380.22 L118.13,380.24 L118.27,379.89 L118.42,379.71 L118.56,379.86 L118.70,379.65 L118.85,379.26 L118.99,379.58 L119.14,379.44 L119.28,379.12 L119.43,379.07 L119.57,379.24 L119.72,379.28 L119.86,379.36 L120.01,379.69 L120.15,380.10 L120.30,379.81 L120.44,380.01 L120.59,380.22 L120.73,380.56 L120.87,380.28 L121.02,380.66 L121.16,380.21 L121.31,380.47 L121.45,379.95 L121.60,379.56 L121.74,379.67 L121.89,379.33 L122.03,379.64 L122.18,379.68 L122.32,379.85 L122.47,379.82 L122.61,380.05 L122.75,379.94 L122.90,379.97 L123.04,380.26 L123.19,380.54 L123.33,380.19 L123.48,379.95 L123.62,379.95 L123.77,379.85 L123.91,379.55 L124.06,379.30 L124.20,379.87 L124.35,378.99 L124.49,379.05 L124.64,379.09 L124.78,379.31 L124.92,379.24 L125.07,379.28 L125.21,379.80 L125.36,379.53 L125.50,379.78 L125.65,379.62 L125.79,379.82 L125.94,380.00 L126.08,379.93 L126.23,379.75 L126.37,379.75 L126.52,379.56 L126.66,379.68 L126.80,379.68 L126.95,379.49 L127.09,379.62 L127.24,379.52 L127.38,379.39 L127.53,379.85 L127.67,379.92 L127.82,379.72 L127.96,380.11 L128.11,380.16 L128.25,380.50 L128.40,380.54 L128.54,380.44 L128.69,380.07 L128.83,380.22 L128.97,380.50 L129.12,380.00 L129.26,379.78 L129.41,379.69 L129.55,379.93 L129.70,379.64 L129.84,379.21 L129.99,379.76 L130.13,379.58 L130.28,379.84 L130.42,380.03 L130.57,379.98 L130.71,379.81 L130.85,379.86 L131.00,380.27 L131.14,380.19 L131.29,380.22 L131.43,380.35 L131.58,379.77 L131.72,379.46 L131.87,379.33 L132.01,379.54 L132.16,379.12 L132.30,379.08 L132.45,379.29 L132.59,379.24 L132.74,379.35 L132.88,379.33 L133.02,379.17 L133.17,379.78 L133.31,379.96 L133.46,379.71 L133.60,379.94 L133.75,380.34 L133.89,380.20 L134.04,380.15 L134.18,380.06 L134.33,379.81 L134.47,379.61 L134.62,379.72 L134.76,379.59 L134.90,379.69 L135.05,379.36 L135.19,379.33 L135.34,379.66 L135.48,379.83 L135.63,379.46 L135.77,379.78 L135.92,380.22 L136.06,380.46 L136.21,380.30 L136.35,380.09 L136.50,380.39 L136.64,380.30 L136.78,380.27 L136.93,379.97 L137.07,379.72 L137.22,380.05 L137.36,379.77 L137.51,379.65 L137.65,379.66 L137.80,379.72 L137.94,379.38 L138.09,379.53 L138.23,379.50 L138.38,379.45 L138.52,379.86 L138.67,379.78 L138.81,380.00 L138.95,379.98 L139.10,379.91 L139.24,379.96 L139.39,380.13 L139.53,379.52 L139.68,379.65 L139.82,379.76 L139.97,379.84 L140.11,379.39 L140.26,379.22 L140.40,379.15 L140.55,379.16 L140.69,379.47 L140.83,379.39 L140.98,379.87 L141.12,379.71 L141.27,379.70 L141.41,380.06 L141.56,380.06 L141.70,380.06 L141.85,380.06 L141.99,379.81 L142.14,380.19 L142.28,379.71 L142.43,380.06 L142.57,379.88 L142.72,379.83 L142.86,379.67 L143.00,379.72 L143.15,379.57 L143.29,379.69 L143.44,379.40 L143.58,379.79 L143.73,379.99 L143.87,379.98 L144.02,380.02 L144.16,380.21 L144.31,380.38 L144.45,380.31 L144.60,380.10 L144.74,379.91 L144.88,379.87 L145.03,379.85 L145.17,379.63 L145.32,379.70 L145.46,379.49 L145.61,379.24 L145.75,379.27 L145.90,379.24 L146.04,379.57 L146.19,379.54 L146.33,379.82 L146.48,379.59 L146.62,379.88 L146.77,380.09 L146.91,379.99 L147.05,379.87 L147.20,380.25 L147.34,380.07 L147.49,379.60 L147.63,379.66 L147.78,379.60 L147.92,379.79 L148.07,379.20 L148.21,379.27 L148.36,379.32 L148.50,379.66 L148.65,379.45 L148.79,379.45 L148.93,379.79 L149.08,379.89 L149.22,380.03 L149.37,379.94 L149.51,380.14 L149.66,380.18 L149.80,380.37 L149.95,380.37 L150.09,379.88 L150.24,379.71 L150.38,379.74 L150.53,379.57 L150.67,379.82 L150.82,379.69 L150.96,379.60 L151.10,379.70 L151.25,379.43 L151.39,379.98 L151.54,379.93 L151.68,379.97 L151.83,380.10 L151.97,379.90 L152.12,380.40 L152.26,379.90 L152.41,379.91 L152.55,379.95 L152.70,379.70 L152.84,379.45 L152.98,379.70 L153.13,379.51 L153.27,379.48 L153.42,379.39 L153.56,379.52 L153.71,379.55 L153.85,379.36 L154.00,379.59" fill="none" stroke="#0000ff" stroke-width="1.4" stroke-linejoin="round" stroke-linecap="round" />
<path d="M43.80,405.76 L44.50,405.75 L45.20,405.68 L45.90,405.73 L46.60,405.71 L47.30,405.70 L48.00,405.77 L48.70,405.71 L49.40,405.72 L50.10,405.59 L50.80,405.74 L51.50,405.62 L52.20,405.68 L53.10,405.70 L53.50,340.00 L53.75,340.00 L53.91,391.90 L54.12,392.60 L54.34,394.19 L54.56,395.96 L54.77,397.62 L54.99,399.95 L55.21,402.13 L55.42,404.74 L55.64,406.52 L55.86,408.43 L56.08,410.63 L56.29,411.83 L56.51,412.70 L56.73,412.92 L56.94,413.40 L57.16,412.68 L57.38,412.07 L57.59,411.24 L57.81,409.92 L58.03,409.23 L58.25,408.05 L58.46,407.02 L58.68,406.06 L58.90,405.79 L59.11,405.75 L59.33,405.76 L59.55,406.45 L59.76,407.30 L59.98,408.30 L60.20,409.41 L60.42,410.32 L60.63,412.17 L60.85,413.09 L61.07,414.09 L61.28,414.76 L61.50,414.80 L61.72,414.86 L61.93,414.42 L62.15,413.77 L62.37,412.67 L62.58,411.04 L62.80,409.45 L63.02,407.70 L63.24,405.67 L63.45,404.18 L63.67,402.47 L63.89,400.84 L64.10,399.85 L64.32,398.96 L64.54,398.76 L64.75,398.46 L64.97,398.94 L65.19,399.20 L65.41,400.08 L65.62,401.10 L65.84,401.99 L66.06,403.22 L66.27,404.33 L66.49,404.85 L66.71,405.64 L66.92,405.88 L67.14,406.13 L67.36,405.81 L67.57,405.66 L67.79,405.06 L68.01,404.25 L68.23,403.03 L68.44,402.45 L68.66,401.52 L68.88,400.68 L69.09,399.85 L69.31,399.45 L69.53,399.54 L69.74,399.53 L69.96,400.11 L70.18,400.78 L70.40,401.86 L70.61,403.32 L70.83,404.56 L71.05,406.04 L71.26,407.36 L71.48,408.71 L71.70,409.89 L71.91,410.74 L72.13,411.50 L72.35,411.80 L72.56,411.99 L72.78,411.82 L73.00,411.23 L73.22,410.56 L73.43,409.68 L73.65,408.83 L73.87,407.97 L74.08,406.98 L74.30,406.15 L74.52,405.71 L74.73,405.14 L74.95,404.53 L75.17,404.69 L75.39,405.22 L75.60,405.27 L75.82,405.78 L76.04,406.63 L76.25,406.93 L76.47,407.82 L76.69,408.54 L76.90,409.23 L77.12,409.54 L77.34,409.70 L77.55,409.71 L77.77,409.58 L77.99,408.98 L78.21,408.27 L78.42,407.37 L78.64,406.52 L78.86,405.28 L79.07,404.21 L79.29,403.13 L79.51,402.20 L79.72,401.61 L79.94,400.75 L80.16,400.40 L80.38,400.53 L80.59,400.50 L80.81,400.94 L81.03,401.43 L81.24,401.95 L81.46,402.81 L81.68,403.49 L81.89,404.57 L82.11,405.50 L82.33,406.04 L82.54,406.87 L82.76,406.74 L82.98,407.09 L83.20,407.04 L83.41,406.86 L83.63,406.61 L83.85,406.03 L84.06,405.53 L84.28,404.89 L84.50,404.20 L84.71,403.85 L84.93,403.11 L85.15,403.14 L85.37,402.83 L85.58,403.08 L85.80,403.43 L86.02,403.70 L86.23,404.34 L86.45,405.12 L86.67,405.91 L86.88,406.82 L87.10,407.54 L87.32,408.40 L87.54,409.01 L87.75,409.40 L87.97,410.00 L88.19,410.06 L88.40,410.01 L88.62,409.78 L88.84,409.42 L89.05,408.75 L89.27,408.04 L89.49,407.34 L89.70,406.75 L89.92,405.80 L90.14,405.15 L90.36,404.69 L90.57,404.41 L90.79,404.16 L91.01,403.80 L91.22,403.91 L91.44,404.29 L91.66,404.80 L91.87,405.02 L92.09,405.64 L92.31,406.00 L92.53,406.73 L92.74,407.04 L92.96,407.43 L93.18,407.51 L93.39,407.70 L93.61,407.42 L93.83,407.29 L94.04,406.94 L94.26,406.27 L94.48,405.70 L94.69,405.29 L94.91,404.42 L95.13,403.78 L95.35,403.22 L95.56,402.58 L95.78,402.55 L96.00,402.32 L96.21,402.49 L96.43,402.62 L96.65,402.84 L96.86,403.23 L97.08,403.77 L97.30,404.29 L97.52,404.92 L97.73,405.51 L97.95,406.21 L98.17,406.64 L98.38,407.15 L98.60,407.31 L98.82,407.42 L99.03,407.50 L99.25,407.63 L99.47,407.11 L99.68,406.43 L99.90,406.27 L100.12,405.88 L100.34,405.36 L100.55,404.85 L100.77,404.59 L100.99,404.41 L101.20,404.39 L101.42,404.30 L101.64,404.51 L101.85,404.61 L102.07,404.85 L102.29,405.34 L102.51,406.00 L102.72,406.55 L102.94,407.10 L103.16,407.39 L103.37,407.77 L103.59,408.05 L103.81,408.27 L104.02,408.47 L104.24,408.45 L104.46,407.95 L104.67,407.81 L104.89,407.12 L105.11,407.02 L105.33,406.40 L105.54,405.85 L105.76,405.23 L105.98,404.74 L106.19,404.48 L106.41,404.10 L106.63,404.13 L106.84,404.01 L107.06,404.16 L107.28,404.29 L107.50,404.58 L107.71,404.83 L107.93,404.92 L108.15,405.78 L108.36,406.05 L108.58,406.30 L108.80,406.62 L109.01,406.67 L109.23,406.98 L109.45,406.78 L109.66,406.78 L109.88,406.40 L110.10,406.14 L110.32,405.76 L110.53,405.43 L110.75,405.13 L110.97,404.66 L111.18,404.14 L111.40,403.95 L111.62,403.67 L111.83,403.78 L112.05,403.62 L112.27,403.71 L112.49,404.24 L112.70,404.33 L112.92,404.57 L113.14,405.25 L113.35,405.53 L113.57,406.06 L113.79,406.39 L114.00,406.85 L114.22,407.15 L114.44,407.28 L114.66,407.35 L114.87,407.34 L115.09,407.23 L115.31,406.84 L115.52,406.71 L115.74,406.44 L115.96,406.06 L116.17,405.58 L116.39,405.51 L116.61,404.99 L116.82,404.76 L117.04,404.59 L117.26,404.71 L117.48,404.80 L117.69,404.86 L117.91,405.08 L118.13,405.26 L118.34,405.70 L118.56,406.09 L118.78,406.51 L118.99,406.72 L119.21,406.96 L119.43,407.05 L119.65,407.27 L119.86,407.18 L120.08,407.12 L120.30,407.15 L120.51,406.95 L120.73,406.60 L120.95,406.22 L121.16,405.90 L121.38,405.39 L121.60,405.04 L121.81,404.68 L122.03,404.51 L122.25,404.39 L122.47,404.23 L122.68,404.34 L122.90,404.32 L123.12,404.56 L123.33,404.62 L123.55,405.23 L123.77,405.23 L123.98,405.54 L124.20,405.92 L124.42,406.15 L124.64,406.38 L124.85,406.44 L125.07,406.48 L125.29,406.63 L125.50,406.41 L125.72,406.46 L125.94,406.15 L126.15,405.89 L126.37,405.76 L126.59,405.33 L126.80,405.13 L127.02,404.76 L127.24,404.71 L127.46,404.65 L127.67,404.55 L127.89,404.45 L128.11,404.51 L128.32,404.68 L128.54,405.00 L128.76,405.14 L128.97,405.56 L129.19,405.85 L129.41,406.05 L129.63,406.43 L129.84,406.82 L130.06,406.77 L130.28,406.94 L130.49,407.01 L130.71,406.83 L130.93,406.88 L131.14,406.59 L131.36,406.41 L131.58,405.94 L131.79,406.04 L132.01,405.59 L132.23,405.33 L132.45,405.04 L132.66,405.01 L132.88,404.92 L133.10,404.71 L133.31,404.89 L133.53,404.93 L133.75,405.11 L133.96,405.28 L134.18,405.66 L134.40,405.84 L134.62,406.05 L134.83,406.27 L135.05,406.38 L135.27,406.58 L135.48,406.66 L135.70,406.74 L135.92,406.58 L136.13,406.63 L136.35,406.42 L136.57,406.33 L136.78,406.04 L137.00,405.61 L137.22,405.42 L137.44,405.32 L137.65,404.95 L137.87,404.79 L138.09,404.75 L138.30,404.56 L138.52,404.62 L138.74,404.67 L138.95,404.73 L139.17,405.04 L139.39,405.12 L139.61,405.47 L139.82,405.72 L140.04,405.82 L140.26,406.11 L140.47,406.35 L140.69,406.45 L140.91,406.49 L141.12,406.64 L141.34,406.40 L141.56,406.35 L141.78,406.30 L141.99,406.08 L142.21,405.71 L142.43,405.67 L142.64,405.17 L142.86,405.25 L143.08,404.99 L143.29,405.11 L143.51,404.85 L143.73,404.89 L143.94,404.87 L144.16,405.01 L144.38,405.22 L144.60,405.21 L144.81,405.55 L145.03,405.91 L145.25,406.04 L145.46,406.52 L145.68,406.50 L145.90,406.47 L146.11,406.69 L146.33,406.65 L146.55,406.72 L146.77,406.46 L146.98,406.38 L147.20,406.21 L147.42,405.92 L147.63,405.64 L147.85,405.50 L148.07,405.51 L148.28,405.16 L148.50,405.04 L148.72,405.07 L148.93,405.08 L149.15,405.00 L149.37,405.06 L149.59,405.16 L149.80,405.37 L150.02,405.48 L150.24,405.67 L150.45,405.91 L150.67,406.04 L150.89,406.28 L151.10,406.48 L151.32,406.43 L151.54,406.38 L151.76,406.20 L151.97,406.52 L152.19,406.27 L152.41,406.14 L152.62,405.86 L152.84,405.76 L153.06,405.47 L153.27,405.21 L153.49,405.19 L153.71,405.00 L153.92,404.78 L154.14,404.80 L154.36,405.02 L154.58,404.77 L154.79,405.11 L155.01,405.18 L155.23,405.41 L155.44,405.60 L155.66,405.82 L155.88,405.90 L156.09,406.18 L156.31,406.36 L156.53,406.40 L156.75,406.40 L156.96,406.57 L157.18,406.30 L157.40,406.34 L157.61,406.09 L157.83,405.88 L158.05,405.80 L158.26,405.60 L158.48,405.51 L158.70,405.37 L158.91,405.35 L159.13,405.12 L159.35,405.10 L159.57,405.24 L159.78,405.07 L160.00,405.05 L160.22,405.27 L160.43,405.36 L160.65,405.65 L160.87,405.89 L161.08,405.97 L161.30,406.16 L161.52,406.36 L161.74,406.28 L161.95,406.41 L162.17,406.48 L162.39,406.38 L162.60,406.33 L162.82,406.15 L163.04,405.93 L163.25,405.94 L163.47,405.81 L163.69,405.43 L163.90,405.19 L164.12,405.30 L164.34,405.22 L164.56,405.17 L164.77,405.05 L164.99,405.06 L165.21,405.15 L165.42,405.16 L165.64,405.42 L165.86,405.55 L166.07,405.77 L166.29,405.71 L166.51,405.89 L166.73,406.00 L166.94,406.28 L167.16,406.16 L167.38,406.27 L167.59,406.22 L167.81,406.18 L168.03,406.16 L168.24,406.02 L168.46,405.99 L168.68,405.75 L168.90,405.56 L169.11,405.49 L169.33,405.26 L169.55,405.06 L169.76,405.13 L169.98,405.14 L170.20,405.14 L170.41,405.11 L170.63,405.07 L170.85,405.32 L171.06,405.47 L171.28,405.73 L171.50,405.76 L171.72,405.88 L171.93,406.10 L172.15,406.18 L172.37,406.31 L172.58,406.24 L172.80,406.19 L173.02,406.23 L173.23,406.15 L173.45,406.08 L173.67,406.01 L173.89,405.87 L174.10,405.70 L174.32,405.51 L174.54,405.39 L174.75,405.20 L174.97,405.14 L175.19,405.04 L175.40,405.10 L175.62,405.21 L175.84,405.25 L176.05,405.49 L176.27,405.35 L176.49,405.67 L176.71,405.80 L176.92,405.76 L177.14,406.12 L177.36,406.19 L177.57,406.22 L177.79,406.31 L178.01,406.26 L178.22,406.22 L178.44,406.13 L178.66,406.09 L178.88,405.91 L179.09,405.86 L179.31,405.64 L179.53,405.45 L179.74,405.56 L179.96,405.32 L180.18,405.20 L180.39,405.32 L180.61,405.39 L180.83,405.14 L181.04,405.27 L181.26,405.24 L181.48,405.41 L181.70,405.54 L181.91,405.70 L182.13,405.80 L182.35,406.01 L182.56,406.08 L182.78,406.06 L183.00,406.20 L183.21,406.17 L183.43,406.19 L183.65,406.17 L183.87,406.15 L184.08,405.90 L184.30,405.92 L184.52,405.69 L184.73,405.71 L184.95,405.44 L185.17,405.32 L185.38,405.32 L185.60,405.34 L185.82,405.20 L186.03,405.19 L186.25,405.28 L186.47,405.36 L186.69,405.33 L186.90,405.53 L187.12,405.68 L187.34,405.71 L187.55,405.91 L187.77,406.08 L187.99,406.04 L188.20,406.20 L188.42,406.13 L188.64,406.26 L188.86,406.15 L189.07,406.01 L189.29,405.98 L189.51,405.87 L189.72,405.75 L189.94,405.59 L190.16,405.53 L190.37,405.39 L190.59,405.36 L190.81,405.12 L191.02,405.31 L191.24,405.17 L191.46,405.34 L191.68,405.27 L191.89,405.29 L192.11,405.59 L192.33,405.48 L192.54,405.82 L192.76,405.92 L192.98,405.94 L193.19,406.14 L193.41,406.05 L193.63,406.12 L193.85,406.39 L194.06,406.26 L194.28,406.15 L194.50,405.98 L194.71,406.00 L194.93,405.86 L195.15,405.63 L195.36,405.64 L195.58,405.43 L195.80,405.47 L196.02,405.21 L196.23,405.13 L196.45,405.32 L196.67,405.44 L196.88,405.43 L197.10,405.29 L197.32,405.50 L197.53,405.48 L197.75,405.79 L197.97,405.87 L198.18,405.92 L198.40,405.92 L198.62,406.09 L198.84,406.20 L199.05,406.12 L199.27,406.13 L199.49,406.05 L199.70,406.04 L199.92,405.99 L200.14,405.84 L200.35,405.93 L200.57,405.59 L200.79,405.41 L201.01,405.37 L201.22,405.42 L201.44,405.41 L201.66,405.16 L201.87,405.32 L202.09,405.33 L202.31,405.35 L202.52,405.50 L202.74,405.55" fill="none" stroke="#0000ff" stroke-width="1.4" stroke-linejoin="round" stroke-linecap="round" />
<path d="M58.60,435.70 L59.48,434.70 L60.36,433.53 L61.25,432.37 L62.13,431.36 L62.98,430.69 L63.80,430.50 L64.73,431.29 L65.61,433.07 L66.46,435.32 L67.29,437.54 L68.13,439.24 L69.00,439.90 L70.05,438.93 L71.11,436.55 L72.18,433.44 L73.26,430.32 L74.33,427.87 L75.40,426.80 L76.08,427.07 L76.76,427.88 L77.44,428.98 L78.12,430.09 L78.80,430.96 L79.50,431.30 L80.26,430.90 L81.04,429.90 L81.82,428.60 L82.60,427.32 L83.40,426.35 L84.20,426.00 L85.25,426.76 L86.33,428.55 L87.42,430.85 L88.51,433.15 L89.57,434.94 L90.60,435.70 L91.31,435.41 L92.00,434.58 L92.67,433.48 L93.35,432.35 L94.05,431.44 L94.80,431.00 L95.56,431.16 L96.35,431.71 L97.17,432.47 L97.99,433.22 L98.81,433.76 L99.60,433.90 L100.55,433.28 L101.48,432.00 L102.39,430.39 L103.31,428.79 L104.24,427.55 L105.20,427.00 L106.14,427.30 L107.12,428.18 L108.11,429.35 L109.09,430.55 L110.03,431.49 L110.90,431.90 L111.45,431.77 L111.95,431.38 L112.43,430.87 L112.91,430.36 L113.43,429.96 L114.00,429.80 L114.95,430.14 L116.02,430.99 L117.15,432.08 L118.30,433.17 L119.43,434.00 L120.50,434.30 L121.46,433.95 L122.40,433.14 L123.32,432.09 L124.23,431.03 L125.12,430.19 L126.00,429.80 L126.68,429.91 L127.33,430.28 L127.98,430.79 L128.62,431.32 L129.29,431.73 L130.00,431.90 L130.89,431.70 L131.83,431.17 L132.79,430.49 L133.77,429.81 L134.74,429.29 L135.70,429.10 L136.66,429.35 L137.64,429.93 L138.61,430.68 L139.57,431.43 L140.50,432.03 L141.40,432.30 L142.10,432.21 L142.76,431.92 L143.41,431.53 L144.06,431.13 L144.72,430.82 L145.40,430.70 L146.18,430.86 L146.97,431.24 L147.78,431.73 L148.59,432.21 L149.40,432.58 L150.20,432.70 L151.00,432.50 L151.79,432.06 L152.57,431.48 L153.36,430.90 L154.17,430.44 L155.00,430.20 L155.90,430.27 L156.84,430.58 L157.79,431.00 L158.75,431.44 L159.69,431.78 L160.60,431.90 L161.42,431.76 L162.23,431.44 L163.02,431.04 L163.81,430.63 L164.60,430.33 L165.40,430.20 L166.21,430.32 L167.03,430.63 L167.85,431.03 L168.67,431.44 L169.49,431.76 L170.30,431.90 L171.08,431.81 L171.86,431.56 L172.64,431.22 L173.42,430.88 L174.20,430.62 L175.00,430.50 L175.85,430.59 L176.71,430.84 L177.58,431.18 L178.46,431.51 L179.33,431.76 L180.20,431.86 L181.07,431.75 L181.95,431.48 L182.82,431.13 L183.70,430.78 L184.57,430.51 L185.45,430.39 L186.32,430.49 L187.20,430.74 L188.07,431.06 L188.95,431.39 L189.82,431.65 L190.70,431.76 L191.57,431.67 L192.45,431.44 L193.32,431.13 L194.20,430.83 L195.07,430.59 L195.95,430.49 L196.82,430.57 L197.70,430.78 L198.57,431.07 L199.45,431.36 L200.32,431.58 L201.20,431.67 L202.07,431.60 L202.95,431.39 L203.82,431.13 L204.70,430.86 L205.57,430.65 L206.45,430.57 L207.32,430.64 L208.20,430.83 L209.07,431.07 L209.95,431.32 L210.82,431.52 L211.70,431.60 L212.57,431.53 L213.45,431.36 L214.32,431.12 L215.20,430.89 L216.07,430.71 L216.95,430.63 L217.82,430.70 L218.70,430.86 L219.57,431.08 L220.45,431.30 L221.32,431.47 L222.20,431.54 L223.07,431.48 L223.95,431.32 L224.82,431.12 L225.70,430.91 L226.57,430.75 L227.45,430.69 L228.32,430.74 L229.20,430.89 L230.07,431.08 L230.95,431.28 L231.82,431.43 L232.70,431.49 L233.57,431.43 L234.45,431.30 L235.32,431.12 L236.20,430.93 L237.07,430.79 L237.95,430.73 L238.82,430.78 L239.70,430.91 L240.57,431.08 L241.45,431.26 L242.32,431.39 L243.20,431.44 L244.07,431.40 L244.95,431.27 L245.82,431.11 L246.70,430.95 L247.57,430.83 L248.45,430.77 L249.32,430.82 L250.20,430.93 L251.07,431.09 L251.95,431.24 L252.82,431.36 L253.70,431.41 L254.57,431.37 L255.45,431.26 L256.32,431.11 L257.20,430.97 L258.07,430.85 L258.95,430.81 L259.82,430.85 L260.70,430.95 L261.57,431.09 L262.45,431.23 L263.32,431.33 L264.20,431.38 L265.07,431.34 L265.95,431.24 L266.82,431.11 L267.70,430.98 L268.57,430.88 L269.45,430.83 L270.34,430.87 L271.26,430.97 L272.17,431.09 L273.06,431.21 L273.91,431.31 L274.70,431.35 L275.23,431.34 L275.73,431.31 L276.20,431.26 L276.66,431.20 L277.13,431.15 L277.60,431.10" fill="none" stroke="#ff0000" stroke-width="3.2" stroke-linejoin="round" stroke-linecap="round" />
<path d="M43.80,431.30 L47.00,431.20 L50.00,431.40 L53.00,431.20 L53.50,350.00 L53.80,360.00 L55.00,418.00 L56.80,430.00 L58.60,435.70 L59.48,434.70 L60.36,433.53 L61.25,432.37 L62.13,431.36 L62.98,430.69 L63.80,430.50 L64.73,431.29 L65.61,433.07 L66.46,435.32 L67.29,437.54 L68.13,439.24 L69.00,439.90 L70.05,438.93 L71.11,436.55 L72.18,433.44 L73.26,430.32 L74.33,427.87 L75.40,426.80 L76.08,427.07 L76.76,427.88 L77.44,428.98 L78.12,430.09 L78.80,430.96 L79.50,431.30 L80.26,430.90 L81.04,429.90 L81.82,428.60 L82.60,427.32 L83.40,426.35 L84.20,426.00 L85.25,426.76 L86.33,428.55 L87.42,430.85 L88.51,433.15 L89.57,434.94 L90.60,435.70 L91.31,435.41 L92.00,434.58 L92.67,433.48 L93.35,432.35 L94.05,431.44 L94.80,431.00 L95.56,431.16 L96.35,431.71 L97.17,432.47 L97.99,433.22 L98.81,433.76 L99.60,433.90 L100.55,433.28 L101.48,432.00 L102.39,430.39 L103.31,428.79 L104.24,427.55 L105.20,427.00 L106.14,427.30 L107.12,428.18 L108.11,429.35 L109.09,430.55 L110.03,431.49 L110.90,431.90 L111.45,431.77 L111.95,431.38 L112.43,430.87 L112.91,430.36 L113.43,429.96 L114.00,429.80 L114.95,430.14 L116.02,430.99 L117.15,432.08 L118.30,433.17 L119.43,434.00 L120.50,434.30 L121.46,433.95 L122.40,433.14 L123.32,432.09 L124.23,431.03 L125.12,430.19 L126.00,429.80 L126.68,429.91 L127.33,430.28 L127.98,430.79 L128.62,431.32 L129.29,431.73 L130.00,431.90 L130.89,431.70 L131.83,431.17 L132.79,430.49 L133.77,429.81 L134.74,429.29 L135.70,429.10 L136.66,429.35 L137.64,429.93 L138.61,430.68 L139.57,431.43 L140.50,432.03 L141.40,432.30 L142.10,432.21 L142.76,431.92 L143.41,431.53 L144.06,431.13 L144.72,430.82 L145.40,430.70 L146.18,430.86 L146.97,431.24 L147.78,431.73 L148.59,432.21 L149.40,432.58 L150.20,432.56 L151.00,432.37 L151.79,431.75 L152.57,431.18 L153.36,431.01 L154.17,430.54 L155.00,429.90 L155.90,429.97 L156.84,430.42 L157.79,430.84 L158.75,431.45 L159.69,431.78 L160.60,431.64 L161.42,431.50 L162.23,431.42 L163.02,431.02 L163.81,430.40 L164.60,430.09 L165.40,430.94 L166.21,431.07 L167.03,430.46 L167.85,430.87 L168.67,431.60 L169.49,431.92 L170.30,431.60 L171.08,431.51 L171.86,431.18 L172.64,430.84 L173.42,430.80 L174.20,430.53 L175.00,430.35 L175.85,430.44 L176.71,430.69 L177.58,431.03 L178.46,431.45 L179.33,431.70 L180.20,432.07 L181.07,431.96 L181.95,431.99 L182.82,431.64 L183.70,431.32 L184.57,431.05 L185.45,430.36 L186.32,430.45 L187.20,431.23 L188.07,431.55 L188.95,431.85 L189.82,432.10 L190.70,431.52 L191.57,431.43 L192.45,431.24 L193.32,430.93 L194.20,430.74 L195.07,430.50 L195.95,431.01 L196.82,431.09 L197.70,430.68 L198.57,430.97 L199.45,431.22 L200.32,431.45 L201.20,432.02 L202.07,431.95 L202.95,431.28 L203.82,431.01 L204.70,430.75 L205.57,430.54 L206.45,430.68 L207.32,430.75 L208.20,430.81 L209.07,431.06 L209.95,430.54 L210.82,430.74 L211.70,431.16 L212.57,431.10 L213.45,431.50 L214.32,431.27 L215.20,430.40 L216.07,430.22 L216.95,430.93 L217.82,430.99 L218.70,430.77 L219.57,430.99 L220.45,431.30 L221.32,431.48 L222.20,431.55 L223.07,431.50 L223.95,430.72 L224.82,430.52 L225.70,430.63 L226.57,430.48 L227.45,430.31 L228.32,430.36 L229.20,430.89 L230.07,431.08 L230.95,431.66 L231.82,431.81 L232.70,431.35 L233.57,431.30 L234.45,431.25 L235.32,431.07 L236.20,430.29 L237.07,430.15 L237.95,430.56 L238.82,430.61 L239.70,430.77 L240.57,430.95 L241.45,431.13 L242.32,431.27 L243.20,431.56 L244.07,431.51 L244.95,431.62 L245.82,431.46 L246.70,430.88 L247.57,430.75 L248.45,430.82 L249.32,430.87 L250.20,430.41 L251.07,430.56 L251.95,431.35 L252.82,431.47 L253.70,431.35 L254.57,431.31 L255.45,430.67 L256.32,430.53 L257.20,431.00 L258.07,430.89 L258.95,430.55 L259.82,430.59 L260.70,431.19 L261.57,431.32 L262.45,431.30 L263.32,431.41 L264.20,431.34 L265.07,431.30 L265.95,431.69 L266.82,431.55 L267.70,430.87 L268.57,430.76 L269.45,430.68 L270.34,430.72 L271.26,430.91 L272.17,431.04 L273.06,431.19 L273.91,431.28 L274.70,431.04 L275.23,431.03 L275.73,431.42 L276.20,431.37 L276.66,431.27 L277.13,431.21 L277.60,430.88" fill="none" stroke="#0000ff" stroke-width="1.45" stroke-linejoin="round" stroke-linecap="round" />
<path d="M43.80,457.00 L45.92,457.06 L48.00,457.10 L49.90,457.20 L51.50,457.00 L52.24,456.51 L52.80,455.50 L53.93,415.44 L53.50,380.00 L53.65,385.41 L53.85,395.00 L54.33,406.65 L54.90,419.00 L55.11,422.04 L55.30,425.14 L55.50,428.23 L55.70,431.27 L55.93,434.21 L56.20,437.00 L56.43,439.17 L56.67,441.28 L56.92,443.32 L57.20,445.29 L57.52,447.18 L57.90,449.00 L58.24,450.47 L58.60,451.90 L58.99,453.28 L59.42,454.60 L59.92,455.84 L60.50,457.00 L61.07,458.01 L61.70,459.06 L62.38,460.05 L63.10,460.89 L63.84,461.51 L64.60,461.80 L65.36,461.70 L66.17,461.26 L66.99,460.61 L67.83,459.85 L68.67,459.11 L69.50,458.50 L70.29,457.95 L71.08,457.33 L71.87,456.73 L72.65,456.22 L73.43,455.88 L74.20,455.80 L75.02,456.07 L75.83,456.64 L76.63,457.43 L77.43,458.31 L78.22,459.21 L79.00,460.00 L79.75,460.81 L80.49,461.74 L81.21,462.68 L81.95,463.50 L82.71,464.08 L83.50,464.30 L84.52,463.97 L85.60,463.12 L86.71,461.92 L87.83,460.55 L88.94,459.19 L90.00,458.00 L90.97,456.90 L91.93,455.65 L92.88,454.40 L93.81,453.31 L94.72,452.52 L95.60,452.20 L96.28,452.35 L96.95,452.79 L97.60,453.43 L98.24,454.16 L98.87,454.88 L99.50,455.50 L100.05,455.62 L100.58,456.22 L101.11,456.78 L101.64,457.30 L102.20,457.68 L102.80,458.54 L103.59,458.40 L104.44,457.96 L105.34,456.75 L106.24,456.01 L107.14,455.28 L108.00,454.93 L108.76,454.38 L109.51,453.75 L110.24,453.16 L110.98,452.62 L111.73,452.26 L112.50,452.47 L113.47,452.76 L114.47,453.42 L115.49,453.75 L116.51,454.78 L117.52,455.80 L118.50,457.00 L119.38,457.78 L120.25,458.66 L121.10,459.57 L121.95,460.33 L122.82,460.89 L123.70,461.39 L124.57,461.30 L125.46,460.92 L126.36,460.00 L127.26,459.36 L128.14,458.74 L129.00,458.35 L129.75,457.98 L130.50,457.62 L131.24,457.15 L131.96,456.83 L132.65,456.55 L133.30,456.63 L133.73,456.48 L134.13,456.35 L134.51,456.20 L134.89,456.12 L135.28,456.08 L135.70,455.80 L136.29,455.93 L136.92,456.18 L137.56,456.70 L138.22,457.05 L138.87,457.40 L139.50,457.26 L140.08,457.56 L140.64,457.89 L141.20,458.57 L141.77,458.85 L142.37,459.04 L143.00,458.89 L143.92,458.71 L144.90,458.28 L145.93,457.78 L146.97,457.12 L148.00,456.46 L149.00,456.21 L149.88,455.71 L150.74,455.15 L151.59,454.85 L152.45,454.38 L153.31,454.06 L154.20,453.53 L155.25,453.80 L156.34,454.43 L157.44,455.17 L158.54,456.01 L159.60,456.69 L160.60,457.02 L161.29,457.05 L161.94,456.95 L162.58,457.01 L163.21,456.80 L163.85,456.60 L164.50,456.25 L165.19,456.16 L165.88,456.10 L166.57,456.30 L167.27,456.25 L167.98,456.19 L168.70,456.23 L169.47,456.09 L170.24,455.89 L171.02,455.48 L171.81,455.31 L172.64,455.21 L173.50,455.01 L174.75,455.31 L176.11,455.88 L177.52,456.83 L178.92,457.53 L180.27,458.08 L181.50,458.04 L182.31,458.04 L183.07,457.92 L183.80,457.49 L184.52,457.26 L185.25,457.02 L186.00,457.44 L186.85,457.21 L187.71,456.93 L188.59,456.82 L189.47,456.57 L190.34,456.39 L191.20,456.18 L192.01,456.23 L192.81,456.38 L193.61,456.23 L194.40,456.47 L195.20,456.71 L196.00,456.25 L196.81,456.45 L197.63,456.67 L198.44,457.47 L199.26,457.66 L200.08,457.79 L200.90,458.13 L201.74,458.05 L202.58,457.88 L203.41,457.42 L204.26,457.16 L205.12,456.91 L206.00,457.10 L206.98,456.90 L207.99,456.68 L209.02,456.00 L210.06,455.83 L211.08,455.73 L212.10,456.00 L213.09,456.09 L214.09,456.29 L215.08,456.48 L216.06,456.76 L217.03,457.02 L218.00,457.25 L218.89,457.44 L219.77,457.65 L220.64,457.49 L221.52,457.64 L222.40,457.72 L223.30,457.97 L224.36,457.70 L225.43,457.22 L226.52,456.71 L227.62,456.13 L228.71,455.67 L229.80,455.30 L230.83,455.34 L231.86,455.55 L232.89,455.67 L233.92,456.04 L234.95,456.41 L236.00,456.88 L237.08,457.15 L238.16,457.46 L239.25,457.65 L240.35,457.90 L241.47,458.05 L242.60,458.36 L243.91,458.16 L245.27,457.73 L246.65,457.33 L248.02,456.78 L249.34,456.34 L250.60,455.96 L251.55,455.94 L252.46,456.01 L253.34,456.16 L254.22,456.34 L255.10,456.51 L256.00,456.55 L256.96,456.72 L257.92,456.93 L258.88,457.22 L259.86,457.40 L260.87,457.52 L261.90,457.06 L263.17,456.86 L264.49,456.48 L265.83,456.45 L267.20,455.97 L268.56,455.59 L269.90,455.58 L271.19,455.61 L272.47,455.77 L273.75,455.71 L275.04,456.01 L276.32,456.31 L277.60,456.84" fill="none" stroke="#0000ff" stroke-width="1.45" stroke-linejoin="round" stroke-linecap="round" />
<path d="M43.80,483.40 L45.94,483.32 L48.00,483.30 L49.62,483.55 L51.00,483.60 L51.78,483.23 L52.40,482.50 L53.18,478.80 L53.60,474.00 L54.08,468.88 L54.60,464.50 L54.93,462.96 L55.30,462.20 L55.79,463.44 L56.30,465.50 L56.65,466.17 L56.98,466.86 L57.32,467.54 L57.67,468.22 L58.06,468.87 L58.50,469.50 L59.04,470.12 L59.65,470.68 L60.30,471.23 L60.97,471.78 L61.64,472.36 L62.30,473.00 L63.06,473.85 L63.82,474.77 L64.58,475.73 L65.35,476.71 L66.16,477.67 L67.00,478.60 L67.93,479.55 L68.89,480.49 L69.89,481.42 L70.90,482.33 L71.94,483.19 L73.00,484.00 L74.06,484.77 L75.18,485.55 L76.31,486.29 L77.43,486.95 L78.50,487.46 L79.50,487.80 L80.13,487.92 L80.73,487.97 L81.30,487.96 L81.87,487.89 L82.43,487.77 L83.00,487.60 L83.68,487.31 L84.36,486.90 L85.04,486.43 L85.71,485.92 L86.37,485.43 L87.00,485.00 L87.51,484.67 L87.98,484.36 L88.45,484.05 L88.92,483.76 L89.43,483.48 L90.00,483.20 L90.87,482.66 L91.85,482.31 L92.88,482.70 L93.94,482.39 L94.99,482.10 L96.00,481.50 L96.89,481.26 L97.79,481.00 L98.68,480.49 L99.55,480.30 L100.39,480.21 L101.20,480.45 L101.87,480.59 L102.51,480.83 L103.13,481.18 L103.75,481.52 L104.36,481.87 L105.00,481.74 L105.69,482.07 L106.37,482.41 L107.07,482.67 L107.78,483.01 L108.52,483.34 L109.30,484.28 L110.33,484.65 L111.42,485.01 L112.56,484.87 L113.72,485.20 L114.88,485.51 L116.00,486.16 L117.04,486.43 L118.08,486.72 L119.11,486.94 L120.13,487.16 L121.13,487.30 L122.10,486.85 L122.95,486.76 L123.78,486.57 L124.60,486.79 L125.40,486.50 L126.20,486.20 L127.00,485.90 L127.79,485.63 L128.58,485.35 L129.36,485.21 L130.14,484.90 L130.92,484.58 L131.70,483.98 L132.50,483.59 L133.30,483.18 L134.09,482.84 L134.89,482.40 L135.69,481.97 L136.50,481.56 L137.31,481.18 L138.12,480.79 L138.94,480.29 L139.76,479.94 L140.58,479.65 L141.40,479.81 L142.16,479.70 L142.92,479.64 L143.69,479.50 L144.45,479.52 L145.22,479.56 L146.00,479.69 L146.83,479.71 L147.68,479.72 L148.53,479.51 L149.37,479.56 L150.20,479.63 L151.00,479.92 L151.70,480.08 L152.38,480.28 L153.04,480.08 L153.69,480.32 L154.34,480.56 L155.00,480.86 L155.67,481.09 L156.34,481.31 L157.00,481.87 L157.67,482.10 L158.34,482.34 L159.00,482.34 L159.67,482.60 L160.35,482.87 L161.03,483.12 L161.70,483.39 L162.36,483.66 L163.00,484.02 L163.54,484.24 L164.06,484.47 L164.58,484.34 L165.09,484.54 L165.63,484.69 L166.20,485.12 L166.94,485.12 L167.71,485.02 L168.51,484.93 L169.34,484.72 L170.17,484.50 L171.00,484.12 L171.92,483.87 L172.86,483.57 L173.80,483.10 L174.76,482.77 L175.73,482.45 L176.70,482.74 L177.74,482.45 L178.80,482.16 L179.87,481.62 L180.94,481.36 L181.99,481.11 L183.00,480.58 L183.87,480.39 L184.71,480.20 L185.54,480.12 L186.36,479.96 L187.18,479.81 L188.00,479.46 L188.81,479.32 L189.62,479.17 L190.43,479.00 L191.23,478.89 L192.02,478.83 L192.80,478.80 L193.51,478.88 L194.20,479.00 L194.89,479.39 L195.57,479.60 L196.27,479.84 L197.00,480.37 L197.94,480.79 L198.90,481.32 L199.88,481.96 L200.89,482.54 L201.93,483.08 L203.00,483.36 L204.18,483.78 L205.40,484.16 L206.65,484.73 L207.92,485.01 L209.21,485.20 L210.50,485.20 L211.88,485.15 L213.28,484.95 L214.69,484.31 L216.12,483.98 L217.56,483.64 L219.00,483.42 L220.50,483.15 L222.00,482.87 L223.52,482.83 L225.05,482.57 L226.61,482.33 L228.20,482.22 L230.03,482.03 L231.93,481.85 L233.87,481.79 L235.79,481.70 L237.65,481.70 L239.40,481.31 L240.76,481.51 L242.07,481.79 L243.33,482.03 L244.56,482.40 L245.78,482.77 L247.00,483.89 L248.16,484.20 L249.30,484.53 L250.44,484.39 L251.57,484.68 L252.69,484.90 L253.80,485.29 L254.84,485.30 L255.88,485.23 L256.90,484.91 L257.93,484.74 L258.96,484.56 L260.00,484.11 L261.11,483.94 L262.25,483.76 L263.39,484.12 L264.52,483.91 L265.63,483.70 L266.70,483.28 L267.62,483.06 L268.51,482.83 L269.38,482.78 L270.24,482.54 L271.11,482.30 L272.00,481.91 L272.92,481.71 L273.85,481.52 L274.79,481.02 L275.73,480.84 L276.66,480.67 L277.60,480.68" fill="none" stroke="#0000ff" stroke-width="1.45" stroke-linejoin="round" stroke-linecap="round" />
<path d="M43.80,509.40 L45.94,509.33 L48.00,509.30 L49.76,509.59 L51.20,509.50 L51.92,508.18 L52.30,506.00 L53.08,496.55 L53.60,485.00 L54.13,474.47 L54.70,466.00 L55.00,463.70 L55.30,462.60 L55.62,465.22 L55.90,470.00 L56.31,477.42 L56.80,485.00 L57.33,489.55 L57.90,493.80 L58.15,494.21 L58.39,494.64 L58.64,495.07 L58.91,495.46 L59.20,495.80 L59.48,496.05 L59.76,496.26 L60.06,496.44 L60.40,496.62 L60.80,496.80 L61.63,497.11 L62.63,497.40 L63.74,497.68 L64.88,497.95 L66.00,498.20 L67.15,498.45 L68.32,498.68 L69.51,498.90 L70.73,499.13 L72.00,499.33 L73.51,499.69 L75.07,499.88 L76.68,500.06 L78.32,500.01 L80.00,500.17 L81.96,500.31 L84.03,500.27 L86.11,500.36 L88.13,500.51 L90.00,501.00 L91.47,501.31 L92.93,501.71 L94.30,501.89 L95.52,502.28 L96.50,502.57 L96.87,502.90 L97.18,503.02 L97.45,503.12 L97.72,503.17 L98.00,503.16 L98.31,503.05 L98.61,502.73 L98.91,502.48 L99.23,502.23 L99.60,502.26 L100.19,502.11 L100.87,502.02 L101.59,502.03 L102.31,502.02 L103.00,502.03 L103.59,501.59 L104.14,501.71 L104.70,501.84 L105.31,502.33 L106.00,502.40 L107.35,502.37 L108.92,502.07 L110.62,501.88 L112.34,501.71 L114.00,501.63 L115.60,501.72 L117.20,501.89 L118.80,502.19 L120.40,502.42 L122.00,502.61 L123.60,502.99 L125.20,503.13 L126.80,503.27 L128.40,503.14 L130.00,503.26 L131.60,503.38 L133.20,503.44 L134.80,503.53 L136.40,503.63 L138.00,503.54 L139.60,503.67 L141.20,503.82 L142.80,504.18 L144.40,504.30 L146.00,504.36 L147.60,504.38 L149.20,504.31 L150.80,504.21 L152.40,503.93 L154.00,503.90 L155.59,503.93 L157.18,504.13 L158.77,504.22 L160.37,504.32 L162.00,504.59 L163.77,504.73 L165.56,504.88 L167.38,505.23 L169.19,505.40 L171.00,505.57 L172.79,505.43 L174.58,505.63 L176.36,505.83 L178.17,506.47 L180.00,506.60 L181.96,506.67 L183.96,506.50 L185.97,506.49 L187.99,506.49 L190.00,506.47 L192.02,506.51 L194.05,506.57 L196.08,506.57 L198.07,506.60 L200.00,506.62 L201.66,506.48 L203.28,506.40 L204.87,506.33 L206.44,506.14 L208.00,506.17 L209.51,506.33 L211.02,506.70 L212.51,506.98 L213.95,507.20 L215.30,507.31 L216.30,507.26 L217.25,507.14 L218.16,506.99 L219.07,506.81 L220.00,506.63 L220.97,506.72 L221.93,506.50 L222.91,506.28 L223.92,506.20 L225.00,506.10 L226.48,506.14 L228.06,506.02 L229.71,506.26 L231.37,506.51 L233.00,506.81 L234.62,506.99 L236.26,507.19 L237.88,507.04 L239.48,507.16 L241.00,507.17 L242.26,506.80 L243.48,506.60 L244.67,506.35 L245.84,506.49 L247.00,506.29 L248.05,506.12 L249.06,506.03 L250.06,505.88 L251.10,505.79 L252.20,505.99 L253.66,506.08 L255.19,506.30 L256.79,506.78 L258.40,507.06 L260.00,507.29 L261.68,507.08 L263.41,507.31 L265.14,507.52 L266.79,507.86 L268.30,507.87 L269.33,507.76 L270.28,507.54 L271.19,507.31 L272.08,507.09 L273.00,506.75 L273.92,506.66 L274.84,506.59 L275.76,506.67 L276.68,506.63 L277.60,506.57" fill="none" stroke="#0000ff" stroke-width="1.45" stroke-linejoin="round" stroke-linecap="round" />
</g>
<rect x="43.80" y="293.30" width="233.80" height="227.00" fill="none" stroke="#3a3a3a" stroke-width="1.2"/>
<line x1="53.40" y1="520.30" x2="53.40" y2="515.70" stroke="#3a3a3a" stroke-width="1.2"/>
<text x="53.40" y="536.20" font-size="14.2" text-anchor="middle" fill="#000" >0.0</text>
<line x1="89.56" y1="520.30" x2="89.56" y2="515.70" stroke="#3a3a3a" stroke-width="1.2"/>
<text x="89.56" y="536.20" font-size="14.2" text-anchor="middle" fill="#000" >0.5</text>
<line x1="125.72" y1="520.30" x2="125.72" y2="515.70" stroke="#3a3a3a" stroke-width="1.2"/>
<text x="125.72" y="536.20" font-size="14.2" text-anchor="middle" fill="#000" >1.0</text>
<line x1="161.88" y1="520.30" x2="161.88" y2="515.70" stroke="#3a3a3a" stroke-width="1.2"/>
<text x="161.88" y="536.20" font-size="14.2" text-anchor="middle" fill="#000" >1.5</text>
<line x1="198.04" y1="520.30" x2="198.04" y2="515.70" stroke="#3a3a3a" stroke-width="1.2"/>
<text x="198.04" y="536.20" font-size="14.2" text-anchor="middle" fill="#000" >2.0</text>
<line x1="234.20" y1="520.30" x2="234.20" y2="515.70" stroke="#3a3a3a" stroke-width="1.2"/>
<text x="234.20" y="536.20" font-size="14.2" text-anchor="middle" fill="#000" >2.5</text>
<line x1="270.36" y1="520.30" x2="270.36" y2="515.70" stroke="#3a3a3a" stroke-width="1.2"/>
<text x="270.36" y="536.20" font-size="14.2" text-anchor="middle" fill="#000" >3.0</text>
<line x1="71.48" y1="520.30" x2="71.48" y2="517.70" stroke="#3a3a3a" stroke-width="1.2"/>
<line x1="107.64" y1="520.30" x2="107.64" y2="517.70" stroke="#3a3a3a" stroke-width="1.2"/>
<line x1="143.80" y1="520.30" x2="143.80" y2="517.70" stroke="#3a3a3a" stroke-width="1.2"/>
<line x1="179.96" y1="520.30" x2="179.96" y2="517.70" stroke="#3a3a3a" stroke-width="1.2"/>
<line x1="216.12" y1="520.30" x2="216.12" y2="517.70" stroke="#3a3a3a" stroke-width="1.2"/>
<line x1="252.28" y1="520.30" x2="252.28" y2="517.70" stroke="#3a3a3a" stroke-width="1.2"/>
<line x1="43.80" y1="303.60" x2="48.80" y2="303.60" stroke="#3a3a3a" stroke-width="1.2"/>
<line x1="43.80" y1="328.30" x2="48.80" y2="328.30" stroke="#3a3a3a" stroke-width="1.2"/>
<line x1="43.80" y1="354.70" x2="48.80" y2="354.70" stroke="#3a3a3a" stroke-width="1.2"/>
<line x1="43.80" y1="380.30" x2="48.80" y2="380.30" stroke="#3a3a3a" stroke-width="1.2"/>
<line x1="43.80" y1="406.20" x2="48.80" y2="406.20" stroke="#3a3a3a" stroke-width="1.2"/>
<line x1="43.80" y1="431.80" x2="48.80" y2="431.80" stroke="#3a3a3a" stroke-width="1.2"/>
<line x1="43.80" y1="457.50" x2="48.80" y2="457.50" stroke="#3a3a3a" stroke-width="1.2"/>
<line x1="43.80" y1="483.90" x2="48.80" y2="483.90" stroke="#3a3a3a" stroke-width="1.2"/>
<line x1="43.80" y1="510.10" x2="48.80" y2="510.10" stroke="#3a3a3a" stroke-width="1.2"/>
<text x="160.90" y="562.60" font-size="19.4" text-anchor="middle" fill="#000" textLength="70.2" lengthAdjust="spacingAndGlyphs" >Time (ns)</text>
<text transform="translate(25.60,402.30) rotate(-90)" font-size="18.6" text-anchor="middle" fill="#000" textLength="92.8" lengthAdjust="spacingAndGlyphs">Kerr rotation</text>
<text x="272.90" y="312.70" font-size="19.9" text-anchor="end" fill="#000" >(a)</text>
<text x="196.20" y="362.60" font-size="17.6" text-anchor="start" fill="#000" textLength="64.2" lengthAdjust="spacing" ><tspan class="i">T</tspan> = 10 K</text>
<text x="103.50" y="321.20" font-size="17.6" text-anchor="start" fill="#000" textLength="63.8" lengthAdjust="spacing" ><tspan class="i">B</tspan><tspan font-size="11" dy="6.6">V</tspan><tspan dy="-6.6"> = 4 T</tspan></text>
<text x="141.70" y="346.90" font-size="17.6" text-anchor="start" fill="#000" textLength="25.6" lengthAdjust="spacing" >2 T</text>
<text x="142.00" y="374.50" font-size="17.6" text-anchor="start" fill="#000" textLength="25.7" lengthAdjust="spacing" >1 T</text>
<text x="142.20" y="399.30" font-size="17.6" text-anchor="start" fill="#000" textLength="39.0" lengthAdjust="spacing" >0.5 T</text>
<text x="142.40" y="424.50" font-size="17.6" text-anchor="start" fill="#000" textLength="47.8" lengthAdjust="spacing" >0.25 T</text>
<text x="143.10" y="449.30" font-size="17.6" text-anchor="start" fill="#000" textLength="56.7" lengthAdjust="spacing" >0.125 T</text>
<text x="148.90" y="475.50" font-size="17.6" text-anchor="start" fill="#000" textLength="47.7" lengthAdjust="spacing" >0.05 T</text>
<text x="155.00" y="500.30" font-size="17.6" text-anchor="start" fill="#000" textLength="24.9" lengthAdjust="spacing" >0 T</text>
<g clip-path="url(#cb)">
<path d="M396.30,323.21 L396.70,323.21 L397.10,323.21 L397.50,323.22 L397.90,323.22 L398.30,323.23 L398.70,323.23 L399.10,323.24 L399.50,323.24 L399.90,323.25 L400.30,323.25 L400.70,323.26 L401.10,323.26 L401.50,323.27 L401.90,323.27 L402.30,323.28 L402.70,323.28 L403.10,323.29 L403.50,323.29 L403.90,323.30 L404.30,323.30 L404.70,323.31 L405.10,323.31 L405.50,323.32 L405.90,323.32 L406.30,323.33 L406.70,323.33 L407.10,323.34 L407.50,323.34 L407.90,323.35 L408.30,323.35 L408.70,323.36 L409.10,323.36 L409.50,323.37 L409.90,323.37 L410.30,323.38 L410.70,323.38 L411.10,323.39 L411.50,323.39 L411.90,323.40 L412.30,323.40 L412.70,323.41 L413.10,323.41 L413.50,323.42 L413.90,323.42 L414.30,323.43 L414.70,323.43 L415.10,323.44 L415.50,323.44 L415.90,323.45 L416.30,323.45 L416.70,323.46 L417.10,323.46 L417.50,323.47 L417.90,323.47 L418.30,323.48 L418.70,323.48 L419.10,323.49 L419.50,323.49 L419.90,323.50 L420.30,323.50 L420.70,323.50 L421.10,323.51 L421.50,323.51 L421.90,323.51 L422.30,323.52 L422.70,323.52 L423.10,323.52 L423.50,323.52 L423.90,323.53 L424.30,323.53 L424.70,323.53 L425.10,323.53 L425.50,323.54 L425.90,323.54 L426.30,323.54 L426.70,323.54 L427.10,323.55 L427.50,323.55 L427.90,323.55 L428.30,323.56 L428.70,323.56 L429.10,323.56 L429.50,323.56 L429.90,323.57 L430.30,323.57 L430.70,323.57 L431.10,323.57 L431.50,323.58 L431.90,323.58 L432.30,323.58 L432.70,323.58 L433.10,323.59 L433.50,323.59 L433.90,323.59 L434.30,323.60 L434.70,323.60 L435.10,323.60 L435.50,323.60 L435.90,323.61 L436.30,323.61 L436.70,323.61 L437.10,323.61 L437.50,323.62 L437.90,323.62 L438.30,323.62 L438.70,323.62 L439.10,323.63 L439.50,323.63 L439.90,323.63 L440.30,323.64 L440.70,323.64 L441.10,323.64 L441.50,323.64 L441.90,323.65 L442.30,323.65 L442.70,323.65 L443.10,323.65 L443.50,323.66 L443.90,323.66 L444.30,323.66 L444.70,323.66 L445.10,323.67 L445.50,323.67 L445.90,323.67 L446.30,323.68 L446.70,323.68 L447.10,323.68 L447.50,323.68 L447.90,323.69 L448.30,323.69 L448.70,323.69 L449.10,323.69 L449.50,323.69 L449.90,323.69 L450.30,323.68 L450.70,323.68 L451.10,323.67 L451.50,323.67 L451.90,323.66 L452.30,323.65 L452.70,323.65 L453.10,323.64 L453.50,323.63 L453.90,323.62 L454.30,323.61 L454.70,323.61 L455.10,323.60 L455.50,323.59 L455.90,323.58 L456.30,323.57 L456.70,323.57 L457.10,323.56 L457.50,323.55 L457.90,323.54 L458.30,323.53 L458.70,323.53 L459.10,323.52 L459.50,323.51 L459.90,323.50 L460.30,323.49 L460.70,323.49 L461.10,323.48 L461.50,323.47 L461.90,323.46 L462.30,323.45 L462.70,323.45 L463.10,323.44 L463.50,323.43 L463.90,323.42 L464.30,323.41 L464.70,323.41 L465.10,323.40 L465.50,323.39 L465.90,323.38 L466.30,323.37 L466.70,323.37 L467.10,323.36 L467.50,323.35 L467.90,323.34 L468.30,323.33 L468.70,323.32 L469.10,323.31 L469.50,323.30 L469.90,323.29 L470.30,323.27 L470.70,323.26 L471.10,323.24 L471.50,323.22 L471.90,323.20 L472.30,323.18 L472.70,323.16 L473.10,323.14 L473.50,323.12 L473.90,323.10 L474.30,323.09 L474.70,323.07 L475.10,323.05 L475.50,323.03 L475.90,323.01 L476.30,322.99 L476.70,322.97 L477.10,322.95 L477.50,322.93 L477.90,322.91 L478.30,322.89 L478.70,322.87 L479.10,322.85 L479.50,322.83 L479.90,322.81 L480.30,322.79 L480.70,322.77 L481.10,322.75 L481.50,322.73 L481.90,322.71 L482.30,322.68 L482.70,322.66 L483.10,322.64 L483.50,322.62 L483.90,322.60 L484.30,322.58 L484.70,322.56 L485.10,322.54 L485.50,322.52 L485.90,322.50 L486.30,322.48 L486.70,322.45 L487.10,322.43 L487.50,322.41 L487.90,322.38 L488.30,322.36 L488.70,322.33 L489.10,322.31 L489.50,322.28 L489.90,322.26 L490.30,322.23 L490.70,322.21 L491.10,322.18 L491.50,322.16 L491.90,322.13 L492.30,322.11 L492.70,322.08 L493.10,322.06 L493.50,322.03 L493.90,322.01 L494.30,321.99 L494.70,321.96 L495.10,321.94 L495.50,321.91 L495.90,321.89 L496.30,321.86 L496.70,321.83 L497.10,321.80 L497.50,321.76 L497.90,321.72 L498.30,321.66 L498.70,321.60 L499.10,321.52 L499.50,321.42 L499.90,321.32 L500.30,321.21 L500.70,321.08 L501.10,320.95 L501.50,320.82 L501.90,320.67 L502.30,320.51 L502.70,320.34 L503.10,320.15 L503.50,319.93 L503.90,319.70 L504.30,319.44 L504.70,319.17 L505.10,318.89 L505.50,318.63 L505.90,318.39 L506.30,318.20 L506.70,318.06 L507.10,317.98 L507.50,317.96 L507.90,318.01 L508.30,318.10 L508.70,318.23 L509.10,318.38 L509.50,318.56 L509.90,318.73 L510.30,318.92 L510.70,319.09 L511.10,319.27 L511.50,319.44 L511.90,319.60 L512.30,319.75 L512.70,319.90 L513.10,320.04 L513.50,320.17 L513.90,320.31 L514.30,320.44 L514.70,320.57 L515.10,320.70 L515.50,320.83 L515.90,320.95 L516.30,321.08 L516.70,321.20 L517.10,321.31 L517.50,321.42 L517.90,321.52 L518.30,321.60 L518.70,321.68 L519.10,321.75 L519.50,321.81 L519.90,321.86 L520.30,321.66 L520.70,321.70 L521.10,321.99 L521.50,322.03 L521.90,322.24 L522.30,322.28 L522.70,322.22 L523.10,322.26 L523.50,322.02 L523.90,322.06 L524.30,322.27 L524.70,322.31 L525.10,322.51 L525.50,322.54 L525.90,322.53 L526.30,322.55 L526.70,322.28 L527.10,322.29 L527.50,322.95 L527.90,322.96 L528.30,322.54 L528.70,322.55 L529.10,322.21 L529.50,322.21 L529.90,322.44 L530.30,322.44 L530.70,321.96 L531.10,321.96 L531.50,322.37 L531.90,322.37 L532.30,322.50 L532.70,322.50 L533.10,322.98 L533.50,322.98 L533.90,322.54 L534.30,322.54 L534.70,322.57 L535.10,322.57 L535.50,322.64 L535.90,322.62 L536.30,322.49 L536.70,322.45 L537.10,322.23 L537.50,322.16 L537.90,322.45 L538.30,322.33 L538.70,322.03 L539.10,321.88 L539.50,321.91 L539.90,321.71 L540.30,321.40 L540.70,321.20 L541.10,320.63 L541.50,320.38 L541.90,320.03 L542.30,319.42 L542.70,318.81 L543.10,318.18 L543.50,317.46 L543.90,316.71 L544.30,316.67 L544.70,317.48 L545.10,318.55 L545.50,319.81 L545.90,320.66 L546.30,321.10 L546.70,321.75 L547.10,321.99 L547.50,322.23 L547.90,322.47 L548.30,322.41 L548.70,322.59 L549.10,322.53 L549.50,322.64 L549.90,322.82 L550.30,322.89 L550.70,322.92 L551.10,322.96 L551.50,322.97 L551.90,323.01 L552.30,323.03 L552.70,323.07 L553.10,323.34 L553.50,323.38 L553.90,323.42 L554.30,323.46 L554.70,323.52 L555.10,323.55 L555.50,323.31 L555.90,323.34 L556.30,323.60 L556.70,323.62 L557.10,323.97 L557.50,323.98 L557.90,323.64 L558.30,323.65 L558.70,323.53 L559.10,323.53 L559.50,324.14 L559.90,324.14 L560.30,323.67 L560.70,323.67 L561.10,323.49 L561.50,323.49 L561.90,323.78 L562.30,323.78 L562.70,323.47 L563.10,323.47 L563.50,323.54 L563.90,323.54 L564.30,323.81 L564.70,323.81 L565.10,323.49 L565.50,323.49 L565.90,323.32 L566.30,323.32 L566.70,323.75 L567.10,323.75 L567.50,323.77 L567.90,323.77 L568.30,323.34 L568.70,323.34 L569.10,323.54 L569.50,323.54 L569.90,323.82 L570.30,323.82 L570.70,323.66" fill="none" stroke="#0000ff" stroke-width="1.45" stroke-linejoin="round" stroke-linecap="round" />
<path d="M374.30,354.09 L374.70,354.09 L375.10,354.09 L375.50,354.08 L375.90,354.08 L376.30,354.07 L376.70,354.06 L377.10,354.06 L377.50,354.05 L377.90,354.05 L378.30,354.04 L378.70,354.04 L379.10,354.03 L379.50,354.02 L379.90,354.02 L380.30,354.01 L380.70,354.01 L381.10,354.00 L381.50,354.00 L381.90,353.99 L382.30,353.98 L382.70,353.98 L383.10,353.97 L383.50,353.97 L383.90,353.96 L384.30,353.96 L384.70,353.95 L385.10,353.94 L385.50,353.94 L385.90,353.93 L386.30,353.93 L386.70,353.92 L387.10,353.91 L387.50,353.91 L387.90,353.90 L388.30,353.90 L388.70,353.89 L389.10,353.89 L389.50,353.88 L389.90,353.87 L390.30,353.87 L390.70,353.86 L391.10,353.86 L391.50,353.85 L391.90,353.84 L392.30,353.84 L392.70,353.83 L393.10,353.83 L393.50,353.82 L393.90,353.82 L394.30,353.81 L394.70,353.81 L395.10,353.80 L395.50,353.79 L395.90,353.79 L396.30,353.78 L396.70,353.78 L397.10,353.77 L397.50,353.77 L397.90,353.77 L398.30,353.76 L398.70,353.76 L399.10,353.75 L399.50,353.75 L399.90,353.74 L400.30,353.74 L400.70,353.73 L401.10,353.73 L401.50,353.72 L401.90,353.72 L402.30,353.71 L402.70,353.71 L403.10,353.70 L403.50,353.70 L403.90,353.69 L404.30,353.69 L404.70,353.68 L405.10,353.68 L405.50,353.67 L405.90,353.67 L406.30,353.66 L406.70,353.66 L407.10,353.65 L407.50,353.65 L407.90,353.65 L408.30,353.64 L408.70,353.64 L409.10,353.63 L409.50,353.63 L409.90,353.62 L410.30,353.62 L410.70,353.61 L411.10,353.61 L411.50,353.60 L411.90,353.60 L412.30,353.59 L412.70,353.59 L413.10,353.58 L413.50,353.58 L413.90,353.57 L414.30,353.57 L414.70,353.56 L415.10,353.56 L415.50,353.55 L415.90,353.55 L416.30,353.54 L416.70,353.54 L417.10,353.53 L417.50,353.53 L417.90,353.53 L418.30,353.52 L418.70,353.52 L419.10,353.51 L419.50,353.51 L419.90,353.51 L420.30,353.51 L420.70,353.51 L421.10,353.51 L421.50,353.51 L421.90,353.52 L422.30,353.52 L422.70,353.52 L423.10,353.52 L423.50,353.53 L423.90,353.53 L424.30,353.53 L424.70,353.54 L425.10,353.54 L425.50,353.54 L425.90,353.55 L426.30,353.55 L426.70,353.55 L427.10,353.56 L427.50,353.56 L427.90,353.56 L428.30,353.57 L428.70,353.57 L429.10,353.57 L429.50,353.58 L429.90,353.58 L430.30,353.58 L430.70,353.59 L431.10,353.59 L431.50,353.59 L431.90,353.60 L432.30,353.60 L432.70,353.60 L433.10,353.60 L433.50,353.61 L433.90,353.61 L434.30,353.61 L434.70,353.62 L435.10,353.62 L435.50,353.62 L435.90,353.63 L436.30,353.63 L436.70,353.63 L437.10,353.64 L437.50,353.64 L437.90,353.64 L438.30,353.65 L438.70,353.65 L439.10,353.65 L439.50,353.66 L439.90,353.66 L440.30,353.66 L440.70,353.67 L441.10,353.67 L441.50,353.67 L441.90,353.68 L442.30,353.68 L442.70,353.68 L443.10,353.68 L443.50,353.69 L443.90,353.69 L444.30,353.69 L444.70,353.69 L445.10,353.69 L445.50,353.69 L445.90,353.69 L446.30,353.69 L446.70,353.69 L447.10,353.68 L447.50,353.68 L447.90,353.68 L448.30,353.67 L448.70,353.67 L449.10,353.67 L449.50,353.66 L449.90,353.66 L450.30,353.66 L450.70,353.65 L451.10,353.65 L451.50,353.65 L451.90,353.64 L452.30,353.64 L452.70,353.64 L453.10,353.64 L453.50,353.63 L453.90,353.63 L454.30,353.63 L454.70,353.62 L455.10,353.62 L455.50,353.62 L455.90,353.61 L456.30,353.61 L456.70,353.61 L457.10,353.60 L457.50,353.60 L457.90,353.60 L458.30,353.59 L458.70,353.59 L459.10,353.59 L459.50,353.58 L459.90,353.58 L460.30,353.58 L460.70,353.57 L461.10,353.57 L461.50,353.57 L461.90,353.56 L462.30,353.56 L462.70,353.56 L463.10,353.56 L463.50,353.55 L463.90,353.55 L464.30,353.55 L464.70,353.54 L465.10,353.54 L465.50,353.54 L465.90,353.53 L466.30,353.53 L466.70,353.53 L467.10,353.52 L467.50,353.52 L467.90,353.51 L468.30,353.50 L468.70,353.49 L469.10,353.47 L469.50,353.44 L469.90,353.41 L470.30,353.36 L470.70,353.31 L471.10,353.25 L471.50,353.18 L471.90,353.11 L472.30,353.03 L472.70,352.95 L473.10,352.87 L473.50,352.79 L473.90,352.70 L474.30,352.62 L474.70,352.52 L475.10,352.42 L475.50,352.31 L475.90,352.18 L476.30,352.04 L476.70,351.88 L477.10,351.70 L477.50,351.50 L477.90,351.29 L478.30,351.08 L478.70,350.85 L479.10,350.63 L479.50,350.40 L479.90,350.18 L480.30,349.96 L480.70,349.75 L481.10,349.55 L481.50,349.35 L481.90,349.17 L482.30,348.99 L482.70,348.82 L483.10,348.67 L483.50,348.53 L483.90,348.41 L484.30,348.31 L484.70,348.25 L485.10,348.22 L485.50,348.22 L485.90,348.27 L486.30,348.35 L486.70,348.45 L487.10,348.58 L487.50,348.72 L487.90,348.87 L488.30,349.03 L488.70,349.19 L489.10,349.36 L489.50,349.53 L489.90,349.71 L490.30,349.89 L490.70,350.08 L491.10,350.27 L491.50,350.45 L491.90,350.64 L492.30,350.82 L492.70,351.00 L493.10,351.17 L493.50,351.33 L493.90,351.48 L494.30,351.62 L494.70,351.74 L495.10,351.85 L495.50,351.95 L495.90,352.05 L496.30,352.13 L496.70,352.22 L497.10,352.30 L497.50,352.38 L497.90,352.46 L498.30,352.54 L498.70,352.62 L499.10,352.70 L499.50,352.78 L499.90,352.86 L500.30,353.06 L500.70,353.09 L501.10,353.16 L501.50,352.85 L501.90,352.90 L502.30,353.32 L502.70,353.36 L503.10,353.55 L503.50,353.57 L503.90,353.51 L504.30,353.53 L504.70,353.40 L505.10,353.42 L505.50,353.03 L505.90,353.04 L506.30,353.52 L506.70,353.53 L507.10,353.55 L507.50,353.56 L507.90,353.72 L508.30,353.73 L508.70,353.25 L509.10,353.25 L509.50,353.37 L509.90,353.34 L510.30,353.24 L510.70,353.19 L511.10,353.17 L511.50,353.10 L511.90,352.73 L512.30,352.65 L512.70,352.80 L513.10,352.70 L513.50,352.61 L513.90,352.50 L514.30,352.38 L514.70,352.23 L515.10,352.44 L515.50,352.24 L515.90,351.56 L516.30,351.28 L516.70,351.00 L517.10,350.67 L517.50,350.60 L517.90,350.23 L518.30,349.53 L518.70,349.16 L519.10,348.98 L519.50,348.26 L519.90,347.33 L520.30,346.55 L520.70,345.75 L521.10,345.89 L521.50,346.75 L521.90,347.81 L522.30,349.00 L522.70,349.83 L523.10,350.26 L523.50,350.60 L523.90,351.03 L524.30,351.40 L524.70,351.60 L525.10,351.88 L525.50,352.38 L525.90,352.62 L526.30,352.57 L526.70,352.73 L527.10,352.92 L527.50,353.05 L527.90,353.22 L528.30,353.33 L528.70,353.23 L529.10,353.33 L529.50,353.61 L529.90,353.70 L530.30,353.81 L530.70,353.88 L531.10,353.70 L531.50,353.74 L531.90,353.71 L532.30,353.74 L532.70,354.35 L533.10,354.36 L533.50,354.08 L533.90,354.09 L534.30,354.12 L534.70,354.13 L535.10,354.04 L535.50,354.04 L535.90,354.48 L536.30,354.49 L536.70,354.15 L537.10,354.15 L537.50,353.85 L537.90,353.86 L538.30,354.31 L538.70,354.31 L539.10,354.03 L539.50,354.04 L539.90,354.32 L540.30,354.33 L540.70,354.22 L541.10,354.23 L541.50,354.51 L541.90,354.52 L542.30,354.37 L542.70,354.37 L543.10,354.21 L543.50,354.22 L543.90,354.58 L544.30,354.59 L544.70,354.85 L545.10,354.85 L545.50,354.22 L545.90,354.23 L546.30,354.55 L546.70,354.56 L547.10,354.43 L547.50,354.43 L547.90,354.45 L548.30,354.46 L548.70,354.13 L549.10,354.14 L549.50,354.20 L549.90,354.20 L550.30,354.68 L550.70,354.68 L551.10,354.44 L551.50,354.44 L551.90,354.31 L552.30,354.32 L552.70,354.78 L553.10,354.78 L553.50,354.67 L553.90,354.68 L554.30,354.59 L554.70,354.59 L555.10,354.26 L555.50,354.26 L555.90,354.46 L556.30,354.46 L556.70,354.75 L557.10,354.76 L557.50,354.07 L557.90,354.08 L558.30,354.17 L558.70,354.17 L559.10,354.33 L559.50,354.33 L559.90,354.69 L560.30,354.69 L560.70,354.55 L561.10,354.55 L561.50,354.60 L561.90,354.61 L562.30,354.56 L562.70,354.56 L563.10,354.55 L563.50,354.55 L563.90,354.77 L564.30,354.78 L564.70,355.25 L565.10,355.26 L565.50,354.64 L565.90,354.65 L566.30,354.82 L566.70,354.82 L567.10,354.48 L567.50,354.48 L567.90,354.89 L568.30,354.89 L568.70,354.60 L569.10,354.60 L569.50,354.62 L569.90,354.63 L570.30,354.50 L570.70,354.51" fill="none" stroke="#0000ff" stroke-width="1.45" stroke-linejoin="round" stroke-linecap="round" />
<path d="M374.30,383.30 L374.70,383.29 L375.10,383.29 L375.50,383.29 L375.90,383.29 L376.30,383.28 L376.70,383.28 L377.10,383.28 L377.50,383.28 L377.90,383.27 L378.30,383.27 L378.70,383.27 L379.10,383.26 L379.50,383.26 L379.90,383.26 L380.30,383.25 L380.70,383.25 L381.10,383.25 L381.50,383.24 L381.90,383.24 L382.30,383.24 L382.70,383.23 L383.10,383.23 L383.50,383.23 L383.90,383.23 L384.30,383.22 L384.70,383.22 L385.10,383.22 L385.50,383.21 L385.90,383.21 L386.30,383.21 L386.70,383.20 L387.10,383.20 L387.50,383.20 L387.90,383.19 L388.30,383.19 L388.70,383.19 L389.10,383.18 L389.50,383.18 L389.90,383.18 L390.30,383.18 L390.70,383.17 L391.10,383.17 L391.50,383.17 L391.90,383.16 L392.30,383.16 L392.70,383.16 L393.10,383.15 L393.50,383.15 L393.90,383.15 L394.30,383.14 L394.70,383.14 L395.10,383.14 L395.50,383.14 L395.90,383.13 L396.30,383.13 L396.70,383.13 L397.10,383.12 L397.50,383.12 L397.90,383.12 L398.30,383.11 L398.70,383.11 L399.10,383.11 L399.50,383.10 L399.90,383.10 L400.30,383.09 L400.70,383.09 L401.10,383.09 L401.50,383.08 L401.90,383.08 L402.30,383.07 L402.70,383.07 L403.10,383.06 L403.50,383.06 L403.90,383.05 L404.30,383.05 L404.70,383.04 L405.10,383.04 L405.50,383.03 L405.90,383.03 L406.30,383.02 L406.70,383.02 L407.10,383.01 L407.50,383.01 L407.90,383.01 L408.30,383.00 L408.70,383.00 L409.10,382.99 L409.50,382.99 L409.90,382.98 L410.30,382.98 L410.70,382.97 L411.10,382.97 L411.50,382.96 L411.90,382.96 L412.30,382.95 L412.70,382.95 L413.10,382.94 L413.50,382.94 L413.90,382.93 L414.30,382.93 L414.70,382.92 L415.10,382.92 L415.50,382.91 L415.90,382.91 L416.30,382.90 L416.70,382.90 L417.10,382.89 L417.50,382.89 L417.90,382.89 L418.30,382.88 L418.70,382.88 L419.10,382.87 L419.50,382.87 L419.90,382.86 L420.30,382.86 L420.70,382.85 L421.10,382.85 L421.50,382.84 L421.90,382.84 L422.30,382.83 L422.70,382.83 L423.10,382.82 L423.50,382.82 L423.90,382.81 L424.30,382.81 L424.70,382.80 L425.10,382.80 L425.50,382.79 L425.90,382.79 L426.30,382.78 L426.70,382.78 L427.10,382.77 L427.50,382.77 L427.90,382.76 L428.30,382.76 L428.70,382.75 L429.10,382.75 L429.50,382.74 L429.90,382.73 L430.30,382.73 L430.70,382.72 L431.10,382.72 L431.50,382.71 L431.90,382.71 L432.30,382.70 L432.70,382.70 L433.10,382.69 L433.50,382.69 L433.90,382.68 L434.30,382.68 L434.70,382.67 L435.10,382.67 L435.50,382.66 L435.90,382.65 L436.30,382.65 L436.70,382.64 L437.10,382.64 L437.50,382.63 L437.90,382.63 L438.30,382.62 L438.70,382.62 L439.10,382.61 L439.50,382.60 L439.90,382.59 L440.30,382.59 L440.70,382.58 L441.10,382.57 L441.50,382.56 L441.90,382.55 L442.30,382.54 L442.70,382.53 L443.10,382.52 L443.50,382.51 L443.90,382.49 L444.30,382.48 L444.70,382.47 L445.10,382.46 L445.50,382.45 L445.90,382.44 L446.30,382.43 L446.70,382.42 L447.10,382.41 L447.50,382.40 L447.90,382.39 L448.30,382.37 L448.70,382.35 L449.10,382.33 L449.50,382.29 L449.90,382.23 L450.30,382.15 L450.70,382.03 L451.10,381.87 L451.50,381.68 L451.90,381.44 L452.30,381.18 L452.70,380.88 L453.10,380.57 L453.50,380.24 L453.90,379.90 L454.30,379.55 L454.70,379.19 L455.10,378.82 L455.50,378.45 L455.90,378.07 L456.30,377.68 L456.70,377.29 L457.10,376.90 L457.50,376.50 L457.90,376.10 L458.30,375.70 L458.70,375.30 L459.10,374.91 L459.50,374.52 L459.90,374.15 L460.30,373.81 L460.70,373.51 L461.10,373.27 L461.50,373.09 L461.90,373.01 L462.30,373.01 L462.70,373.11 L463.10,373.28 L463.50,373.52 L463.90,373.81 L464.30,374.13 L464.70,374.47 L465.10,374.83 L465.50,375.19 L465.90,375.55 L466.30,375.92 L466.70,376.29 L467.10,376.66 L467.50,377.04 L467.90,377.41 L468.30,377.78 L468.70,378.15 L469.10,378.52 L469.50,378.88 L469.90,379.23 L470.30,379.56 L470.70,379.88 L471.10,380.17 L471.50,380.44 L471.90,380.68 L472.30,380.91 L472.70,381.12 L473.10,381.31 L473.50,381.50 L473.90,381.68 L474.30,381.85 L474.70,382.03 L475.10,382.20 L475.50,382.37 L475.90,382.53 L476.30,382.68 L476.70,382.81 L477.10,382.93 L477.50,383.02 L477.90,383.09 L478.30,383.13 L478.70,383.16 L479.10,383.17 L479.50,383.16 L479.90,383.15 L480.30,383.13 L480.70,383.10 L481.10,383.08 L481.50,383.06 L481.90,383.03 L482.30,383.01 L482.70,382.98 L483.10,382.95 L483.50,382.93 L483.90,382.90 L484.30,382.87 L484.70,382.84 L485.10,382.80 L485.50,382.75 L485.90,382.71 L486.30,382.47 L486.70,382.41 L487.10,382.30 L487.50,382.24 L487.90,382.55 L488.30,382.48 L488.70,382.05 L489.10,381.98 L489.50,382.16 L489.90,382.09 L490.30,381.92 L490.70,381.83 L491.10,382.05 L491.50,381.92 L491.90,381.50 L492.30,381.31 L492.70,381.33 L493.10,381.05 L493.50,380.56 L493.90,380.21 L494.30,379.52 L494.70,379.20 L495.10,378.82 L495.50,378.11 L495.90,376.43 L496.30,374.81 L496.70,373.54 L497.10,371.58 L497.50,369.30 L497.90,369.57 L498.30,372.28 L498.70,374.92 L499.10,376.57 L499.50,378.15 L499.90,379.90 L500.30,380.61 L500.70,381.27 L501.10,381.67 L501.50,381.77 L501.90,382.13 L502.30,382.54 L502.70,382.81 L503.10,383.04 L503.50,383.19 L503.90,383.46 L504.30,383.56 L504.70,383.29 L505.10,383.36 L505.50,383.74 L505.90,383.80 L506.30,383.81 L506.70,383.87 L507.10,383.73 L507.50,383.79 L507.90,383.85 L508.30,383.90 L508.70,384.39 L509.10,384.44 L509.50,384.39 L509.90,384.44 L510.30,384.43 L510.70,384.48 L511.10,384.27 L511.50,384.32 L511.90,384.46 L512.30,384.50 L512.70,384.36 L513.10,384.40 L513.50,384.35 L513.90,384.39 L514.30,384.68 L514.70,384.71 L515.10,384.71 L515.50,384.72 L515.90,384.60 L516.30,384.61 L516.70,384.61 L517.10,384.61 L517.50,384.93 L517.90,384.92 L518.30,384.75 L518.70,384.75 L519.10,384.52 L519.50,384.52 L519.90,385.24 L520.30,385.23 L520.70,384.47 L521.10,384.46 L521.50,384.85 L521.90,384.85 L522.30,384.60 L522.70,384.59 L523.10,384.92 L523.50,384.92 L523.90,384.79 L524.30,384.79 L524.70,384.97 L525.10,384.97 L525.50,384.75 L525.90,384.74 L526.30,384.60 L526.70,384.59 L527.10,385.03 L527.50,385.02 L527.90,384.72 L528.30,384.71 L528.70,384.68 L529.10,384.67 L529.50,384.68 L529.90,384.68 L530.30,384.56 L530.70,384.55 L531.10,384.76 L531.50,384.76 L531.90,385.02 L532.30,385.01 L532.70,384.97 L533.10,384.97 L533.50,384.72 L533.90,384.72 L534.30,384.78 L534.70,384.78 L535.10,384.79 L535.50,384.79 L535.90,384.51 L536.30,384.50 L536.70,384.92 L537.10,384.92 L537.50,384.67 L537.90,384.66 L538.30,384.24 L538.70,384.24 L539.10,384.72 L539.50,384.72 L539.90,384.41 L540.30,384.41 L540.70,384.65 L541.10,384.66 L541.50,384.73 L541.90,384.73 L542.30,384.54 L542.70,384.54 L543.10,384.66 L543.50,384.66 L543.90,384.88 L544.30,384.88 L544.70,384.34 L545.10,384.34 L545.50,384.24 L545.90,384.25 L546.30,384.60 L546.70,384.60 L547.10,384.58 L547.50,384.59 L547.90,385.05 L548.30,385.05 L548.70,384.84 L549.10,384.84 L549.50,384.75 L549.90,384.75 L550.30,384.63 L550.70,384.63 L551.10,384.27 L551.50,384.27 L551.90,384.40 L552.30,384.40 L552.70,384.60 L553.10,384.60 L553.50,384.71 L553.90,384.71 L554.30,384.59 L554.70,384.59 L555.10,384.70 L555.50,384.71 L555.90,384.83 L556.30,384.83 L556.70,384.55 L557.10,384.55 L557.50,384.61 L557.90,384.61 L558.30,384.51 L558.70,384.51 L559.10,384.95 L559.50,384.95 L559.90,384.31 L560.30,384.31 L560.70,384.84 L561.10,384.84 L561.50,384.87 L561.90,384.88 L562.30,384.32 L562.70,384.32 L563.10,384.63 L563.50,384.64 L563.90,384.95 L564.30,384.96 L564.70,384.56 L565.10,384.56 L565.50,384.63 L565.90,384.63 L566.30,384.74 L566.70,384.75 L567.10,385.02 L567.50,385.02 L567.90,384.89 L568.30,384.89 L568.70,384.63 L569.10,384.63 L569.50,384.50 L569.90,384.50 L570.30,384.47 L570.70,384.47" fill="none" stroke="#0000ff" stroke-width="1.45" stroke-linejoin="round" stroke-linecap="round" />
<path d="M361.20,413.58 L361.60,413.58 L362.00,413.57 L362.40,413.56 L362.80,413.55 L363.20,413.54 L363.60,413.53 L364.00,413.52 L364.40,413.51 L364.80,413.49 L365.20,413.48 L365.60,413.47 L366.00,413.46 L366.40,413.45 L366.80,413.44 L367.20,413.42 L367.60,413.41 L368.00,413.40 L368.40,413.39 L368.80,413.38 L369.20,413.36 L369.60,413.35 L370.00,413.34 L370.40,413.33 L370.80,413.32 L371.20,413.31 L371.60,413.29 L372.00,413.28 L372.40,413.27 L372.80,413.26 L373.20,413.25 L373.60,413.24 L374.00,413.22 L374.40,413.21 L374.80,413.20 L375.20,413.19 L375.60,413.18 L376.00,413.16 L376.40,413.15 L376.80,413.14 L377.20,413.13 L377.60,413.12 L378.00,413.11 L378.40,413.09 L378.80,413.08 L379.20,413.07 L379.60,413.06 L380.00,413.05 L380.40,413.04 L380.80,413.02 L381.20,413.01 L381.60,413.00 L382.00,412.99 L382.40,412.98 L382.80,412.96 L383.20,412.95 L383.60,412.94 L384.00,412.93 L384.40,412.91 L384.80,412.90 L385.20,412.88 L385.60,412.87 L386.00,412.85 L386.40,412.83 L386.80,412.81 L387.20,412.79 L387.60,412.77 L388.00,412.75 L388.40,412.73 L388.80,412.71 L389.20,412.69 L389.60,412.67 L390.00,412.66 L390.40,412.64 L390.80,412.62 L391.20,412.60 L391.60,412.58 L392.00,412.56 L392.40,412.54 L392.80,412.52 L393.20,412.50 L393.60,412.48 L394.00,412.46 L394.40,412.44 L394.80,412.42 L395.20,412.40 L395.60,412.38 L396.00,412.36 L396.40,412.34 L396.80,412.32 L397.20,412.30 L397.60,412.29 L398.00,412.27 L398.40,412.25 L398.80,412.24 L399.20,412.22 L399.60,412.21 L400.00,412.20 L400.40,412.19 L400.80,412.18 L401.20,412.18 L401.60,412.17 L402.00,412.17 L402.40,412.16 L402.80,412.16 L403.20,412.15 L403.60,412.15 L404.00,412.14 L404.40,412.14 L404.80,412.13 L405.20,412.12 L405.60,412.12 L406.00,412.11 L406.40,412.11 L406.80,412.10 L407.20,412.10 L407.60,412.09 L408.00,412.09 L408.40,412.08 L408.80,412.08 L409.20,412.07 L409.60,412.07 L410.00,412.06 L410.40,412.06 L410.80,412.05 L411.20,412.05 L411.60,412.04 L412.00,412.04 L412.40,412.03 L412.80,412.03 L413.20,412.02 L413.60,412.01 L414.00,412.01 L414.40,411.99 L414.80,411.98 L415.20,411.97 L415.60,411.95 L416.00,411.93 L416.40,411.91 L416.80,411.89 L417.20,411.87 L417.60,411.85 L418.00,411.82 L418.40,411.80 L418.80,411.78 L419.20,411.76 L419.60,411.73 L420.00,411.71 L420.40,411.69 L420.80,411.66 L421.20,411.64 L421.60,411.62 L422.00,411.59 L422.40,411.57 L422.80,411.55 L423.20,411.52 L423.60,411.50 L424.00,411.47 L424.40,411.44 L424.80,411.41 L425.20,411.36 L425.60,411.29 L426.00,411.20 L426.40,411.08 L426.80,410.91 L427.20,410.71 L427.60,410.45 L428.00,410.16 L428.40,409.84 L428.80,409.49 L429.20,409.12 L429.60,408.74 L430.00,408.35 L430.40,407.96 L430.80,407.57 L431.20,407.18 L431.60,406.78 L432.00,406.39 L432.40,406.01 L432.80,405.62 L433.20,405.23 L433.60,404.85 L434.00,404.46 L434.40,404.08 L434.80,403.69 L435.20,403.31 L435.60,402.93 L436.00,402.55 L436.40,402.17 L436.80,401.81 L437.20,401.45 L437.60,401.13 L438.00,400.85 L438.40,400.63 L438.80,400.49 L439.20,400.44 L439.60,400.50 L440.00,400.66 L440.40,400.92 L440.80,401.25 L441.20,401.65 L441.60,402.09 L442.00,402.55 L442.40,403.03 L442.80,403.52 L443.20,404.01 L443.60,404.49 L444.00,404.98 L444.40,405.45 L444.80,405.93 L445.20,406.40 L445.60,406.87 L446.00,407.33 L446.40,407.80 L446.80,408.26 L447.20,408.72 L447.60,409.17 L448.00,409.61 L448.40,410.03 L448.80,410.43 L449.20,410.80 L449.60,411.14 L450.00,411.46 L450.40,411.74 L450.80,412.00 L451.20,412.24 L451.60,412.46 L452.00,412.68 L452.40,412.89 L452.80,413.10 L453.20,413.30 L453.60,413.51 L454.00,413.71 L454.40,413.90 L454.80,414.09 L455.20,414.27 L455.60,414.43 L456.00,414.56 L456.40,414.67 L456.80,414.74 L457.20,414.78 L457.60,414.78 L458.00,414.76 L458.40,414.72 L458.80,414.66 L459.20,414.59 L459.60,414.52 L460.00,414.44 L460.40,414.36 L460.80,414.28 L461.20,414.20 L461.60,414.12 L462.00,414.03 L462.40,413.95 L462.80,413.86 L463.20,413.77 L463.60,413.68 L464.00,413.59 L464.40,413.49 L464.80,413.40 L465.20,413.30 L465.60,413.20 L466.00,413.10 L466.40,413.00 L466.80,412.89 L467.20,412.78 L467.60,412.65 L468.00,412.51 L468.40,412.32 L468.80,412.09 L469.20,411.80 L469.60,411.42 L470.00,410.93 L470.40,410.39 L470.80,409.78 L471.20,409.13 L471.60,408.51 L472.00,407.79 L472.40,406.18 L472.80,404.15 L473.20,402.13 L473.60,400.02 L474.00,397.65 L474.40,396.28 L474.80,398.15 L475.20,401.04 L475.60,403.66 L476.00,405.80 L476.40,407.80 L476.80,409.34 L477.20,409.93 L477.60,410.42 L478.00,410.98 L478.40,411.29 L478.80,412.33 L479.20,412.77 L479.60,412.69 L480.00,412.98 L480.40,413.60 L480.80,413.81 L481.20,413.71 L481.60,413.88 L482.00,414.22 L482.40,414.37 L482.80,414.36 L483.20,414.49 L483.60,415.09 L484.00,415.18 L484.40,414.87 L484.80,414.93 L485.20,415.11 L485.60,415.14 L486.00,415.11 L486.40,415.14 L486.80,415.05 L487.20,415.07 L487.60,415.00 L488.00,415.02 L488.40,415.17 L488.80,415.19 L489.20,415.32 L489.60,415.34 L490.00,415.34 L490.40,415.36 L490.80,415.30 L491.20,415.32 L491.60,415.20 L492.00,415.22 L492.40,415.41 L492.80,415.43 L493.20,415.10 L493.60,415.12 L494.00,415.33 L494.40,415.35 L494.80,414.96 L495.20,414.97 L495.60,415.25 L496.00,415.26 L496.40,415.38 L496.80,415.39 L497.20,415.14 L497.60,415.15 L498.00,415.21 L498.40,415.22 L498.80,415.64 L499.20,415.65 L499.60,415.57 L500.00,415.57 L500.40,415.70 L500.80,415.70 L501.20,415.72 L501.60,415.73 L502.00,415.63 L502.40,415.64 L502.80,415.68 L503.20,415.68 L503.60,415.59 L504.00,415.59 L504.40,415.80 L504.80,415.80 L505.20,415.25 L505.60,415.25 L506.00,415.53 L506.40,415.54 L506.80,415.79 L507.20,415.79 L507.60,415.76 L508.00,415.77 L508.40,415.62 L508.80,415.62 L509.20,415.55 L509.60,415.56 L510.00,415.80 L510.40,415.80 L510.80,415.61 L511.20,415.61 L511.60,415.43 L512.00,415.43 L512.40,415.90 L512.80,415.90 L513.20,415.60 L513.60,415.61 L514.00,415.72 L514.40,415.73 L514.80,415.37 L515.20,415.37 L515.60,415.19 L516.00,415.19 L516.40,415.80 L516.80,415.80 L517.20,416.04 L517.60,416.04 L518.00,415.26 L518.40,415.26 L518.80,415.61 L519.20,415.61 L519.60,415.83 L520.00,415.83 L520.40,415.76 L520.80,415.76 L521.20,415.73 L521.60,415.73 L522.00,415.71 L522.40,415.72 L522.80,415.53 L523.20,415.53 L523.60,415.94 L524.00,415.95 L524.40,415.92 L524.80,415.92 L525.20,415.80 L525.60,415.80 L526.00,415.27 L526.40,415.27 L526.80,416.07 L527.20,416.07 L527.60,415.72 L528.00,415.72 L528.40,415.84 L528.80,415.84 L529.20,416.12 L529.60,416.12 L530.00,416.00 L530.40,416.00 L530.80,415.72 L531.20,415.73 L531.60,415.96 L532.00,415.96 L532.40,415.87 L532.80,415.87 L533.20,415.63 L533.60,415.63 L534.00,415.78 L534.40,415.78 L534.80,415.40 L535.20,415.40 L535.60,415.44 L536.00,415.44 L536.40,415.80 L536.80,415.80 L537.20,416.04 L537.60,416.04 L538.00,415.56 L538.40,415.57 L538.80,416.00 L539.20,416.00 L539.60,415.80 L540.00,415.80 L540.40,416.13 L540.80,416.13 L541.20,415.70 L541.60,415.70 L542.00,416.36 L542.40,416.37 L542.80,415.86 L543.20,415.87 L543.60,415.73 L544.00,415.73 L544.40,415.83 L544.80,415.83 L545.20,415.41 L545.60,415.41 L546.00,415.85 L546.40,415.85 L546.80,415.72 L547.20,415.72 L547.60,415.89 L548.00,415.89 L548.40,415.72 L548.80,415.72 L549.20,415.24 L549.60,415.25 L550.00,415.27 L550.40,415.27 L550.80,415.66 L551.20,415.66 L551.60,415.54 L552.00,415.54 L552.40,415.97 L552.80,415.97 L553.20,415.58 L553.60,415.58 L554.00,415.89 L554.40,415.89 L554.80,415.77 L555.20,415.77 L555.60,416.11" fill="none" stroke="#0000ff" stroke-width="1.45" stroke-linejoin="round" stroke-linecap="round" />
<path d="M337.00,446.00 L337.40,446.00 L337.80,446.00 L338.20,445.99 L338.60,445.99 L339.00,445.99 L339.40,445.99 L339.80,445.99 L340.20,445.99 L340.60,445.98 L341.00,445.98 L341.40,445.98 L341.80,445.98 L342.20,445.98 L342.60,445.98 L343.00,445.97 L343.40,445.97 L343.80,445.97 L344.20,445.97 L344.60,445.97 L345.00,445.97 L345.40,445.96 L345.80,445.96 L346.20,445.96 L346.60,445.96 L347.00,445.96 L347.40,445.95 L347.80,445.95 L348.20,445.95 L348.60,445.95 L349.00,445.95 L349.40,445.95 L349.80,445.94 L350.20,445.94 L350.60,445.94 L351.00,445.94 L351.40,445.94 L351.80,445.94 L352.20,445.93 L352.60,445.93 L353.00,445.93 L353.40,445.93 L353.80,445.93 L354.20,445.93 L354.60,445.92 L355.00,445.92 L355.40,445.92 L355.80,445.92 L356.20,445.92 L356.60,445.91 L357.00,445.91 L357.40,445.91 L357.80,445.91 L358.20,445.91 L358.60,445.91 L359.00,445.91 L359.40,445.90 L359.80,445.90 L360.20,445.90 L360.60,445.90 L361.00,445.90 L361.40,445.90 L361.80,445.90 L362.20,445.90 L362.60,445.90 L363.00,445.90 L363.40,445.90 L363.80,445.90 L364.20,445.90 L364.60,445.90 L365.00,445.90 L365.40,445.90 L365.80,445.90 L366.20,445.90 L366.60,445.90 L367.00,445.90 L367.40,445.90 L367.80,445.90 L368.20,445.90 L368.60,445.90 L369.00,445.90 L369.40,445.90 L369.80,445.90 L370.20,445.90 L370.60,445.90 L371.00,445.90 L371.40,445.90 L371.80,445.90 L372.20,445.90 L372.60,445.90 L373.00,445.90 L373.40,445.90 L373.80,445.89 L374.20,445.89 L374.60,445.88 L375.00,445.87 L375.40,445.86 L375.80,445.85 L376.20,445.83 L376.60,445.82 L377.00,445.80 L377.40,445.78 L377.80,445.76 L378.20,445.74 L378.60,445.72 L379.00,445.70 L379.40,445.68 L379.80,445.66 L380.20,445.64 L380.60,445.62 L381.00,445.60 L381.40,445.58 L381.80,445.56 L382.20,445.54 L382.60,445.52 L383.00,445.50 L383.40,445.48 L383.80,445.46 L384.20,445.44 L384.60,445.42 L385.00,445.40 L385.40,445.38 L385.80,445.36 L386.20,445.34 L386.60,445.32 L387.00,445.30 L387.40,445.28 L387.80,445.26 L388.20,445.24 L388.60,445.22 L389.00,445.20 L389.40,445.18 L389.80,445.16 L390.20,445.14 L390.60,445.13 L391.00,445.11 L391.40,445.09 L391.80,445.08 L392.20,445.07 L392.60,445.05 L393.00,445.04 L393.40,445.03 L393.80,445.01 L394.20,445.00 L394.60,444.99 L395.00,444.98 L395.40,444.96 L395.80,444.95 L396.20,444.94 L396.60,444.93 L397.00,444.91 L397.40,444.90 L397.80,444.89 L398.20,444.88 L398.60,444.86 L399.00,444.85 L399.40,444.84 L399.80,444.83 L400.20,444.81 L400.60,444.80 L401.00,444.79 L401.40,444.77 L401.80,444.76 L402.20,444.73 L402.60,444.70 L403.00,444.66 L403.40,444.61 L403.80,444.54 L404.20,444.45 L404.60,444.35 L405.00,444.24 L405.40,444.11 L405.80,443.97 L406.20,443.83 L406.60,443.68 L407.00,443.54 L407.40,443.39 L407.80,443.24 L408.20,443.08 L408.60,442.93 L409.00,442.77 L409.40,442.61 L409.80,442.44 L410.20,442.27 L410.60,442.08 L411.00,441.90 L411.40,441.70 L411.80,441.50 L412.20,441.30 L412.60,441.10 L413.00,440.91 L413.40,440.72 L413.80,440.54 L414.20,440.37 L414.60,440.21 L415.00,440.08 L415.40,439.96 L415.80,439.86 L416.20,439.79 L416.60,439.75 L417.00,439.74 L417.40,439.76 L417.80,439.81 L418.20,439.89 L418.60,440.00 L419.00,440.12 L419.40,440.27 L419.80,440.42 L420.20,440.58 L420.60,440.76 L421.00,440.95 L421.40,441.14 L421.80,441.35 L422.20,441.56 L422.60,441.77 L423.00,441.99 L423.40,442.22 L423.80,442.44 L424.20,442.66 L424.60,442.87 L425.00,443.08 L425.40,443.29 L425.80,443.48 L426.20,443.65 L426.60,443.82 L427.00,443.96 L427.40,444.10 L427.80,444.22 L428.20,444.33 L428.60,444.44 L429.00,444.55 L429.40,444.65 L429.80,444.75 L430.20,444.85 L430.60,444.95 L431.00,445.04 L431.40,445.13 L431.80,445.22 L432.20,445.30 L432.60,445.37 L433.00,445.44 L433.40,445.49 L433.80,445.54 L434.20,445.59 L434.60,445.62 L435.00,445.66 L435.40,445.69 L435.80,445.72 L436.20,445.75 L436.60,445.78 L437.00,445.81 L437.40,445.84 L437.80,445.86 L438.20,445.89 L438.60,445.92 L439.00,445.95 L439.40,445.98 L439.80,446.01 L440.20,446.03 L440.60,446.05 L441.00,446.07 L441.40,446.08 L441.80,446.07 L442.20,446.06 L442.60,446.02 L443.00,445.98 L443.40,445.92 L443.80,445.85 L444.20,445.77 L444.60,445.68 L445.00,445.57 L445.40,445.45 L445.80,445.31 L446.20,445.13 L446.60,444.92 L447.00,444.65 L447.40,444.32 L447.80,443.93 L448.20,443.53 L448.60,443.06 L449.00,442.54 L449.40,442.02 L449.80,441.49 L450.20,440.80 L450.60,439.89 L451.00,438.92 L451.40,437.95 L451.80,437.21 L452.20,437.36 L452.60,438.41 L453.00,439.68 L453.40,440.91 L453.80,441.92 L454.20,442.57 L454.60,443.02 L455.00,443.49 L455.40,443.93 L455.80,444.29 L456.20,444.53 L456.60,444.79 L457.00,445.00 L457.40,445.22 L457.80,445.42 L458.20,445.52 L458.60,444.98 L459.00,445.05 L459.40,445.74 L459.80,445.80 L460.20,445.44 L460.60,445.49 L461.00,445.71 L461.40,445.75 L461.80,445.75 L462.20,445.78 L462.60,445.69 L463.00,445.70 L463.40,445.75 L463.80,445.76 L464.20,445.80 L464.60,445.81 L465.00,446.00 L465.40,446.01 L465.80,446.13 L466.20,446.14 L466.60,445.94 L467.00,445.95 L467.40,446.18 L467.80,446.19 L468.20,446.07 L468.60,446.08 L469.00,446.29 L469.40,446.29 L469.80,445.81 L470.20,445.82 L470.60,446.12 L471.00,446.13 L471.40,446.10 L471.80,446.11 L472.20,446.16 L472.60,446.16 L473.00,446.22 L473.40,446.22 L473.80,446.32 L474.20,446.33 L474.60,446.21 L475.00,446.21 L475.40,446.29 L475.80,446.30 L476.20,446.14 L476.60,446.15 L477.00,446.18 L477.40,446.18 L477.80,446.09 L478.20,446.09 L478.60,446.43 L479.00,446.44 L479.40,446.38 L479.80,446.39 L480.20,446.49 L480.60,446.49 L481.00,446.15 L481.40,446.15 L481.80,446.21 L482.20,446.21 L482.60,446.74 L483.00,446.75 L483.40,446.47 L483.80,446.48 L484.20,445.98 L484.60,445.98 L485.00,446.42 L485.40,446.42 L485.80,446.35 L486.20,446.35 L486.60,446.22 L487.00,446.22 L487.40,446.23 L487.80,446.24 L488.20,446.13 L488.60,446.13 L489.00,446.20 L489.40,446.20 L489.80,446.16 L490.20,446.16 L490.60,446.08 L491.00,446.09 L491.40,446.25 L491.80,446.25 L492.20,446.15 L492.60,446.16 L493.00,446.48 L493.40,446.48 L493.80,446.55 L494.20,446.55 L494.60,446.32 L495.00,446.32 L495.40,446.29 L495.80,446.29 L496.20,446.49 L496.60,446.49 L497.00,446.34 L497.40,446.35 L497.80,446.77 L498.20,446.78 L498.60,445.85 L499.00,445.86 L499.40,445.92 L499.80,445.92 L500.20,446.17 L500.60,446.18 L501.00,446.50 L501.40,446.50 L501.80,446.56 L502.20,446.57 L502.60,446.32 L503.00,446.32 L503.40,446.43 L503.80,446.43 L504.20,446.37 L504.60,446.38 L505.00,446.54 L505.40,446.54 L505.80,446.85 L506.20,446.85 L506.60,446.00 L507.00,446.00 L507.40,446.91 L507.80,446.91 L508.20,446.68 L508.60,446.68 L509.00,446.41 L509.40,446.42 L509.80,446.58 L510.20,446.59 L510.60,446.49 L511.00,446.49 L511.40,446.60 L511.80,446.60 L512.20,446.60 L512.60,446.61 L513.00,446.67 L513.40,446.67 L513.80,446.32 L514.20,446.33 L514.60,446.65 L515.00,446.66 L515.40,446.41 L515.80,446.41 L516.20,446.49 L516.60,446.49 L517.00,446.71 L517.40,446.72 L517.80,446.47 L518.20,446.48 L518.60,446.63 L519.00,446.63 L519.40,446.64 L519.80,446.64 L520.20,446.60 L520.60,446.61 L521.00,446.35 L521.40,446.35 L521.80,446.70 L522.20,446.70 L522.60,446.64 L523.00,446.65 L523.40,447.06 L523.80,447.06 L524.20,446.41 L524.60,446.42 L525.00,446.84 L525.40,446.85 L525.80,446.55 L526.20,446.56 L526.60,446.59 L527.00,446.59 L527.40,447.00 L527.80,447.00 L528.20,446.63 L528.60,446.64 L529.00,446.83 L529.40,446.83 L529.80,446.70 L530.20,446.71 L530.60,446.50 L531.00,446.51 L531.40,446.64 L531.80,446.65" fill="none" stroke="#0000ff" stroke-width="1.45" stroke-linejoin="round" stroke-linecap="round" />
<path d="M337.00,476.99 L337.40,476.98 L337.80,476.97 L338.20,476.97 L338.60,476.96 L339.00,476.95 L339.40,476.94 L339.80,476.93 L340.20,476.92 L340.60,476.91 L341.00,476.90 L341.40,476.89 L341.80,476.88 L342.20,476.87 L342.60,476.86 L343.00,476.85 L343.40,476.84 L343.80,476.83 L344.20,476.82 L344.60,476.81 L345.00,476.80 L345.40,476.79 L345.80,476.78 L346.20,476.77 L346.60,476.76 L347.00,476.75 L347.40,476.74 L347.80,476.72 L348.20,476.71 L348.60,476.70 L349.00,476.69 L349.40,476.68 L349.80,476.67 L350.20,476.66 L350.60,476.65 L351.00,476.64 L351.40,476.62 L351.80,476.60 L352.20,476.58 L352.60,476.56 L353.00,476.52 L353.40,476.49 L353.80,476.45 L354.20,476.40 L354.60,476.36 L355.00,476.31 L355.40,476.26 L355.80,476.21 L356.20,476.16 L356.60,476.11 L357.00,476.06 L357.40,476.01 L357.80,475.96 L358.20,475.91 L358.60,475.86 L359.00,475.81 L359.40,475.76 L359.80,475.71 L360.20,475.66 L360.60,475.61 L361.00,475.56 L361.40,475.51 L361.80,475.46 L362.20,475.41 L362.60,475.36 L363.00,475.31 L363.40,475.26 L363.80,475.22 L364.20,475.17 L364.60,475.13 L365.00,475.09 L365.40,475.05 L365.80,475.01 L366.20,474.98 L366.60,474.95 L367.00,474.93 L367.40,474.91 L367.80,474.88 L368.20,474.86 L368.60,474.84 L369.00,474.82 L369.40,474.80 L369.80,474.78 L370.20,474.76 L370.60,474.74 L371.00,474.72 L371.40,474.70 L371.80,474.68 L372.20,474.66 L372.60,474.64 L373.00,474.62 L373.40,474.60 L373.80,474.58 L374.20,474.56 L374.60,474.54 L375.00,474.52 L375.40,474.50 L375.80,474.48 L376.20,474.46 L376.60,474.44 L377.00,474.42 L377.40,474.39 L377.80,474.37 L378.20,474.35 L378.60,474.33 L379.00,474.31 L379.40,474.29 L379.80,474.27 L380.20,474.25 L380.60,474.23 L381.00,474.20 L381.40,474.16 L381.80,474.11 L382.20,474.05 L382.60,473.96 L383.00,473.85 L383.40,473.70 L383.80,473.53 L384.20,473.34 L384.60,473.12 L385.00,472.88 L385.40,472.63 L385.80,472.38 L386.20,472.12 L386.60,471.85 L387.00,471.59 L387.40,471.32 L387.80,471.06 L388.20,470.79 L388.60,470.53 L389.00,470.26 L389.40,469.99 L389.80,469.73 L390.20,469.46 L390.60,469.19 L391.00,468.92 L391.40,468.65 L391.80,468.39 L392.20,468.13 L392.60,467.88 L393.00,467.65 L393.40,467.44 L393.80,467.27 L394.20,467.14 L394.60,467.06 L395.00,467.04 L395.40,467.06 L395.80,467.13 L396.20,467.23 L396.60,467.36 L397.00,467.51 L397.40,467.68 L397.80,467.85 L398.20,468.03 L398.60,468.22 L399.00,468.43 L399.40,468.64 L399.80,468.87 L400.20,469.11 L400.60,469.36 L401.00,469.61 L401.40,469.87 L401.80,470.14 L402.20,470.40 L402.60,470.67 L403.00,470.93 L403.40,471.19 L403.80,471.45 L404.20,471.70 L404.60,471.95 L405.00,472.19 L405.40,472.41 L405.80,472.62 L406.20,472.82 L406.60,473.01 L407.00,473.19 L407.40,473.36 L407.80,473.53 L408.20,473.70 L408.60,473.86 L409.00,474.02 L409.40,474.17 L409.80,474.33 L410.20,474.47 L410.60,474.62 L411.00,474.76 L411.40,474.89 L411.80,475.02 L412.20,475.15 L412.60,475.27 L413.00,475.39 L413.40,475.50 L413.80,475.61 L414.20,475.72 L414.60,475.81 L415.00,475.88 L415.40,475.94 L415.80,475.99 L416.20,476.02 L416.60,476.03 L417.00,476.04 L417.40,476.04 L417.80,476.02 L418.20,476.00 L418.60,475.96 L419.00,475.89 L419.40,475.81 L419.80,475.69 L420.20,475.54 L420.60,475.36 L421.00,475.15 L421.40,474.91 L421.80,474.65 L422.20,474.36 L422.60,474.05 L423.00,473.70 L423.40,473.30 L423.80,472.86 L424.20,472.37 L424.60,471.81 L425.00,471.20 L425.40,470.53 L425.80,469.82 L426.20,469.09 L426.60,468.36 L427.00,467.63 L427.40,466.75 L427.80,465.61 L428.20,464.35 L428.60,463.09 L429.00,461.83 L429.40,460.57 L429.80,459.82 L430.20,460.76 L430.60,462.72 L431.00,464.84 L431.40,466.78 L431.80,468.06 L432.20,468.93 L432.60,469.64 L433.00,470.34 L433.40,470.94 L433.80,471.37 L434.20,471.75 L434.60,472.15 L435.00,472.48 L435.40,472.75 L435.80,472.99 L436.20,473.27 L436.60,473.46 L437.00,473.52 L437.40,473.65 L437.80,473.50 L438.20,473.58 L438.60,474.07 L439.00,474.11 L439.40,473.91 L439.80,473.93 L440.20,473.98 L440.60,474.00 L441.00,474.08 L441.40,474.13 L441.80,474.15 L442.20,474.25 L442.60,474.65 L443.00,474.80 L443.40,474.52 L443.80,474.69 L444.20,474.89 L444.60,475.04 L445.00,475.38 L445.40,475.48 L445.80,475.48 L446.20,475.54 L446.60,475.77 L447.00,475.80 L447.40,475.92 L447.80,475.94 L448.20,476.07 L448.60,476.09 L449.00,476.00 L449.40,476.01 L449.80,475.72 L450.20,475.73 L450.60,475.78 L451.00,475.79 L451.40,475.76 L451.80,475.77 L452.20,476.17 L452.60,476.18 L453.00,475.85 L453.40,475.87 L453.80,475.73 L454.20,475.74 L454.60,475.71 L455.00,475.72 L455.40,476.18 L455.80,476.19 L456.20,475.79 L456.60,475.80 L457.00,475.37 L457.40,475.38 L457.80,476.23 L458.20,476.24 L458.60,476.15 L459.00,476.16 L459.40,476.27 L459.80,476.28 L460.20,476.35 L460.60,476.35 L461.00,476.24 L461.40,476.25 L461.80,476.23 L462.20,476.24 L462.60,476.16 L463.00,476.17 L463.40,475.97 L463.80,475.98 L464.20,475.65 L464.60,475.66 L465.00,475.71 L465.40,475.71 L465.80,476.31 L466.20,476.32 L466.60,476.43 L467.00,476.44 L467.40,476.25 L467.80,476.26 L468.20,476.07 L468.60,476.08 L469.00,476.44 L469.40,476.45 L469.80,476.29 L470.20,476.30 L470.60,476.31 L471.00,476.32 L471.40,476.24 L471.80,476.25 L472.20,476.05 L472.60,476.06 L473.00,476.11 L473.40,476.12 L473.80,476.47 L474.20,476.48 L474.60,476.80 L475.00,476.80 L475.40,476.84 L475.80,476.85 L476.20,476.37 L476.60,476.37 L477.00,476.54 L477.40,476.54 L477.80,476.41 L478.20,476.42 L478.60,476.48 L479.00,476.49 L479.40,476.56 L479.80,476.56 L480.20,476.69 L480.60,476.70 L481.00,476.19 L481.40,476.19 L481.80,476.93 L482.20,476.93 L482.60,476.46 L483.00,476.47 L483.40,476.26 L483.80,476.26 L484.20,477.09 L484.60,477.10 L485.00,476.30 L485.40,476.30 L485.80,476.52 L486.20,476.53 L486.60,476.36 L487.00,476.36 L487.40,476.85 L487.80,476.85 L488.20,475.89 L488.60,475.90 L489.00,476.65 L489.40,476.66 L489.80,476.18 L490.20,476.19 L490.60,476.98 L491.00,476.98 L491.40,477.12 L491.80,477.13 L492.20,476.82 L492.60,476.83 L493.00,476.42 L493.40,476.43 L493.80,476.92 L494.20,476.92 L494.60,477.19 L495.00,477.19 L495.40,476.71 L495.80,476.71 L496.20,476.56 L496.60,476.57 L497.00,477.03 L497.40,477.04 L497.80,476.34 L498.20,476.35 L498.60,476.61 L499.00,476.62 L499.40,476.68 L499.80,476.68 L500.20,476.73 L500.60,476.74 L501.00,476.99 L501.40,476.99 L501.80,476.68 L502.20,476.69 L502.60,476.45 L503.00,476.46 L503.40,476.39 L503.80,476.39 L504.20,476.71 L504.60,476.72 L505.00,476.88 L505.40,476.88 L505.80,477.01 L506.20,477.01 L506.60,476.93 L507.00,476.94 L507.40,476.44 L507.80,476.44 L508.20,476.94 L508.60,476.94" fill="none" stroke="#0000ff" stroke-width="1.45" stroke-linejoin="round" stroke-linecap="round" />
<path d="M337.00,503.51 L337.40,503.51 L337.80,503.51 L338.20,503.52 L338.60,503.52 L339.00,503.53 L339.40,503.53 L339.80,503.54 L340.20,503.54 L340.60,503.55 L341.00,503.55 L341.40,503.56 L341.80,503.56 L342.20,503.57 L342.60,503.57 L343.00,503.58 L343.40,503.58 L343.80,503.59 L344.20,503.59 L344.60,503.60 L345.00,503.61 L345.40,503.62 L345.80,503.63 L346.20,503.63 L346.60,503.64 L347.00,503.66 L347.40,503.67 L347.80,503.68 L348.20,503.69 L348.60,503.70 L349.00,503.71 L349.40,503.72 L349.80,503.72 L350.20,503.73 L350.60,503.72 L351.00,503.70 L351.40,503.66 L351.80,503.61 L352.20,503.52 L352.60,503.41 L353.00,503.27 L353.40,503.10 L353.80,502.92 L354.20,502.72 L354.60,502.51 L355.00,502.30 L355.40,502.08 L355.80,501.86 L356.20,501.63 L356.60,501.41 L357.00,501.19 L357.40,500.97 L357.80,500.75 L358.20,500.53 L358.60,500.31 L359.00,500.09 L359.40,499.87 L359.80,499.66 L360.20,499.45 L360.60,499.24 L361.00,499.03 L361.40,498.82 L361.80,498.62 L362.20,498.41 L362.60,498.20 L363.00,498.00 L363.40,497.80 L363.80,497.60 L364.20,497.40 L364.60,497.22 L365.00,497.05 L365.40,496.90 L365.80,496.78 L366.20,496.69 L366.60,496.63 L367.00,496.61 L367.40,496.61 L367.80,496.64 L368.20,496.69 L368.60,496.76 L369.00,496.82 L369.40,496.90 L369.80,496.98 L370.20,497.06 L370.60,497.15 L371.00,497.24 L371.40,497.33 L371.80,497.43 L372.20,497.52 L372.60,497.63 L373.00,497.73 L373.40,497.83 L373.80,497.94 L374.20,498.04 L374.60,498.15 L375.00,498.26 L375.40,498.37 L375.80,498.48 L376.20,498.60 L376.60,498.72 L377.00,498.85 L377.40,498.98 L377.80,499.12 L378.20,499.26 L378.60,499.41 L379.00,499.55 L379.40,499.70 L379.80,499.84 L380.20,499.99 L380.60,500.14 L381.00,500.29 L381.40,500.44 L381.80,500.60 L382.20,500.75 L382.60,500.91 L383.00,501.08 L383.40,501.26 L383.80,501.44 L384.20,501.62 L384.60,501.81 L385.00,502.01 L385.40,502.20 L385.80,502.40 L386.20,502.60 L386.60,502.80 L387.00,502.99 L387.40,503.19 L387.80,503.37 L388.20,503.54 L388.60,503.70 L389.00,503.83 L389.40,503.94 L389.80,504.02 L390.20,504.07 L390.60,504.09 L391.00,504.09 L391.40,504.08 L391.80,504.04 L392.20,503.98 L392.60,503.89 L393.00,503.76 L393.40,503.57 L393.80,503.31 L394.20,502.97 L394.60,502.54 L395.00,502.01 L395.40,501.39 L395.80,500.70 L396.20,499.95 L396.60,499.14 L397.00,498.30 L397.40,497.42 L397.80,496.50 L398.20,495.54 L398.60,494.53 L399.00,493.52 L399.40,492.45 L399.80,491.33 L400.20,490.18 L400.60,489.00 L401.00,487.82 L401.40,486.63 L401.80,485.45 L402.20,484.27 L402.60,483.24 L403.00,483.09 L403.40,484.44 L403.80,486.23 L404.20,488.02 L404.60,489.78 L405.00,491.47 L405.40,493.07 L405.80,494.65 L406.20,496.23 L406.60,497.74 L407.00,498.82 L407.40,499.19 L407.80,499.33 L408.20,499.48 L408.60,499.63 L409.00,499.78 L409.40,500.53 L409.80,500.12 L410.20,500.23 L410.60,500.77 L411.00,500.85 L411.40,500.38 L411.80,500.49 L412.20,500.58 L412.60,500.72 L413.00,500.80 L413.40,500.97 L413.80,500.99 L414.20,501.19 L414.60,501.56 L415.00,501.76 L415.40,502.42 L415.80,502.58 L416.20,501.98 L416.60,502.09 L417.00,502.63 L417.40,502.70 L417.80,503.06 L418.20,503.14 L418.60,503.01 L419.00,503.16 L419.40,503.42 L419.80,503.65 L420.20,503.86 L420.60,504.14 L421.00,504.47 L421.40,504.73 L421.80,504.28 L422.20,504.43 L422.60,505.48 L423.00,505.49 L423.40,505.13 L423.80,505.03 L424.20,504.64 L424.60,504.50 L425.00,504.42 L425.40,504.29 L425.80,504.21 L426.20,504.11 L426.60,504.24 L427.00,504.17 L427.40,503.59 L427.80,503.54 L428.20,503.49 L428.60,503.49 L429.00,503.50 L429.40,503.58 L429.80,504.31 L430.20,504.47 L430.60,504.17 L431.00,504.40 L431.40,504.92 L431.80,505.13 L432.20,504.96 L432.60,505.09 L433.00,505.46 L433.40,505.46 L433.80,505.29 L434.20,505.20 L434.60,505.03 L435.00,504.95 L435.40,505.41 L435.80,505.39 L436.20,505.14 L436.60,505.19 L437.00,504.98 L437.40,505.08 L437.80,506.11 L438.20,506.20 L438.60,505.36 L439.00,505.44 L439.40,505.45 L439.80,505.51 L440.20,505.43 L440.60,505.48 L441.00,506.45 L441.40,506.50 L441.80,506.16 L442.20,506.21 L442.60,506.29 L443.00,506.33 L443.40,506.57 L443.80,506.60 L444.20,506.36 L444.60,506.38 L445.00,506.57 L445.40,506.58 L445.80,506.87 L446.20,506.88 L446.60,506.50 L447.00,506.52 L447.40,506.68 L447.80,506.70 L448.20,506.55 L448.60,506.56 L449.00,506.56 L449.40,506.57 L449.80,506.94 L450.20,506.96 L450.60,506.74 L451.00,506.75 L451.40,506.68 L451.80,506.70 L452.20,506.11 L452.60,506.12 L453.00,506.41 L453.40,506.43 L453.80,506.50 L454.20,506.51 L454.60,506.72 L455.00,506.73 L455.40,506.85 L455.80,506.87 L456.20,506.82 L456.60,506.84 L457.00,506.76 L457.40,506.78 L457.80,506.93 L458.20,506.94 L458.60,506.96 L459.00,506.97 L459.40,507.14 L459.80,507.15 L460.20,506.42 L460.60,506.42 L461.00,507.21 L461.40,507.22 L461.80,507.49 L462.20,507.49 L462.60,507.27 L463.00,507.28 L463.40,506.85 L463.80,506.86 L464.20,506.73 L464.60,506.74 L465.00,506.98 L465.40,506.98 L465.80,507.38 L466.20,507.39 L466.60,507.10 L467.00,507.10 L467.40,506.47 L467.80,506.48 L468.20,506.13 L468.60,506.13 L469.00,507.11 L469.40,507.12 L469.80,507.73 L470.20,507.74 L470.60,506.64 L471.00,506.64 L471.40,506.92 L471.80,506.92 L472.20,507.11 L472.60,507.12 L473.00,507.20 L473.40,507.21 L473.80,507.37 L474.20,507.38 L474.60,506.70 L475.00,506.70 L475.40,507.18 L475.80,507.19 L476.20,506.98 L476.60,506.99 L477.00,507.41 L477.40,507.41 L477.80,507.30 L478.20,507.30 L478.60,507.51 L479.00,507.52 L479.40,506.87 L479.80,506.88 L480.20,506.92 L480.60,506.92 L481.00,507.04 L481.40,507.05 L481.80,507.12 L482.20,507.12 L482.60,507.06 L483.00,507.07 L483.40,506.92 L483.80,506.93 L484.20,507.12 L484.60,507.12" fill="none" stroke="#0000ff" stroke-width="1.45" stroke-linejoin="round" stroke-linecap="round" />
</g>
<rect x="337.00" y="293.30" width="233.70" height="226.90" fill="none" stroke="#484848" stroke-width="1.1"/>
<line x1="346.82" y1="520.20" x2="346.82" y2="517.80" stroke="#444" stroke-width="1.0"/>
<line x1="360.54" y1="520.20" x2="360.54" y2="517.80" stroke="#444" stroke-width="1.0"/>
<line x1="370.28" y1="520.20" x2="370.28" y2="517.80" stroke="#444" stroke-width="1.0"/>
<line x1="377.83" y1="520.20" x2="377.83" y2="517.80" stroke="#444" stroke-width="1.0"/>
<line x1="384.01" y1="520.20" x2="384.01" y2="517.80" stroke="#444" stroke-width="1.0"/>
<line x1="389.23" y1="520.20" x2="389.23" y2="517.80" stroke="#444" stroke-width="1.0"/>
<line x1="393.75" y1="520.20" x2="393.75" y2="517.80" stroke="#444" stroke-width="1.0"/>
<line x1="397.73" y1="520.20" x2="397.73" y2="517.80" stroke="#444" stroke-width="1.0"/>
<line x1="401.30" y1="520.20" x2="401.30" y2="515.80" stroke="#444" stroke-width="1.0"/>
<text x="401.30" y="535.80" font-size="14.2" text-anchor="middle" fill="#000" >10</text>
<line x1="424.77" y1="520.20" x2="424.77" y2="517.80" stroke="#444" stroke-width="1.0"/>
<line x1="438.49" y1="520.20" x2="438.49" y2="517.80" stroke="#444" stroke-width="1.0"/>
<line x1="448.23" y1="520.20" x2="448.23" y2="517.80" stroke="#444" stroke-width="1.0"/>
<line x1="455.78" y1="520.20" x2="455.78" y2="517.80" stroke="#444" stroke-width="1.0"/>
<line x1="461.96" y1="520.20" x2="461.96" y2="517.80" stroke="#444" stroke-width="1.0"/>
<line x1="467.18" y1="520.20" x2="467.18" y2="517.80" stroke="#444" stroke-width="1.0"/>
<line x1="471.70" y1="520.20" x2="471.70" y2="517.80" stroke="#444" stroke-width="1.0"/>
<line x1="475.68" y1="520.20" x2="475.68" y2="517.80" stroke="#444" stroke-width="1.0"/>
<line x1="479.25" y1="520.20" x2="479.25" y2="515.80" stroke="#444" stroke-width="1.0"/>
<text x="479.25" y="535.80" font-size="14.2" text-anchor="middle" fill="#000" >100</text>
<line x1="502.72" y1="520.20" x2="502.72" y2="517.80" stroke="#444" stroke-width="1.0"/>
<line x1="516.44" y1="520.20" x2="516.44" y2="517.80" stroke="#444" stroke-width="1.0"/>
<line x1="526.18" y1="520.20" x2="526.18" y2="517.80" stroke="#444" stroke-width="1.0"/>
<line x1="533.73" y1="520.20" x2="533.73" y2="517.80" stroke="#444" stroke-width="1.0"/>
<line x1="539.91" y1="520.20" x2="539.91" y2="517.80" stroke="#444" stroke-width="1.0"/>
<line x1="545.13" y1="520.20" x2="545.13" y2="517.80" stroke="#444" stroke-width="1.0"/>
<line x1="549.65" y1="520.20" x2="549.65" y2="517.80" stroke="#444" stroke-width="1.0"/>
<line x1="553.63" y1="520.20" x2="553.63" y2="517.80" stroke="#444" stroke-width="1.0"/>
<line x1="557.20" y1="520.20" x2="557.20" y2="515.80" stroke="#444" stroke-width="1.0"/>
<text x="557.20" y="535.80" font-size="14.2" text-anchor="middle" fill="#000" >1000</text>
<line x1="337.00" y1="323.50" x2="341.50" y2="323.50" stroke="#444" stroke-width="1.0"/>
<line x1="337.00" y1="354.20" x2="341.50" y2="354.20" stroke="#444" stroke-width="1.0"/>
<line x1="337.00" y1="384.90" x2="341.50" y2="384.90" stroke="#444" stroke-width="1.0"/>
<line x1="337.00" y1="415.60" x2="341.50" y2="415.60" stroke="#444" stroke-width="1.0"/>
<line x1="337.00" y1="446.30" x2="341.50" y2="446.30" stroke="#444" stroke-width="1.0"/>
<line x1="337.00" y1="477.00" x2="341.50" y2="477.00" stroke="#444" stroke-width="1.0"/>
<line x1="337.00" y1="507.70" x2="341.50" y2="507.70" stroke="#444" stroke-width="1.0"/>
<text transform="translate(319.00,400.10) rotate(-90)" font-size="18.4" text-anchor="middle" fill="#000" textLength="102.4" lengthAdjust="spacingAndGlyphs">FFT amplitude</text>
<text x="568.10" y="312.40" font-size="20.4" text-anchor="end" fill="#000" >(b)</text>
<text x="363.30" y="317.90" font-size="17.6" text-anchor="start" fill="#000" textLength="63.5" lengthAdjust="spacing" ><tspan class="i">B</tspan><tspan font-size="11" dy="6.4">V</tspan><tspan dy="-6.4"> = 4 T</tspan></text>
<text x="401.50" y="349.40" font-size="17.6" text-anchor="start" fill="#000" textLength="25.3" lengthAdjust="spacing" >2 T</text>
<text x="401.40" y="378.50" font-size="17.6" text-anchor="start" fill="#000" textLength="25.4" lengthAdjust="spacing" >1 T</text>
<text x="388.00" y="406.80" font-size="17.6" text-anchor="start" fill="#000" textLength="38.8" lengthAdjust="spacing" >0.5 T</text>
<text x="463.60" y="441.80" font-size="17.6" text-anchor="start" fill="#000" textLength="47.8" lengthAdjust="spacing" >0.25 T</text>
<text x="463.60" y="472.00" font-size="17.6" text-anchor="start" fill="#000" textLength="56.7" lengthAdjust="spacing" >0.125 T</text>
<text x="463.60" y="501.90" font-size="17.6" text-anchor="start" fill="#000" textLength="47.8" lengthAdjust="spacing" >0.05 T</text>
<text x="414.00" y="556.80" font-size="18.3" text-anchor="start" fill="#000" textLength="79.9" lengthAdjust="spacing" >ω<tspan font-size="11.2" dy="7.0">L</tspan><tspan dy="-7.0"> (rad/ns)</tspan></text>
<text x="42.00" y="780.90" font-size="14.9" text-anchor="middle" fill="#000" >0</text>
<line x1="74.40" y1="764.30" x2="74.40" y2="759.50" stroke="#2a2a2a" stroke-width="1.3"/>
<text x="74.40" y="780.90" font-size="14.9" text-anchor="middle" fill="#000" >1</text>
<line x1="106.80" y1="764.30" x2="106.80" y2="759.50" stroke="#2a2a2a" stroke-width="1.3"/>
<text x="106.80" y="780.90" font-size="14.9" text-anchor="middle" fill="#000" >2</text>
<line x1="139.20" y1="764.30" x2="139.20" y2="759.50" stroke="#2a2a2a" stroke-width="1.3"/>
<text x="139.20" y="780.90" font-size="14.9" text-anchor="middle" fill="#000" >3</text>
<line x1="171.60" y1="764.30" x2="171.60" y2="759.50" stroke="#2a2a2a" stroke-width="1.3"/>
<text x="171.60" y="780.90" font-size="14.9" text-anchor="middle" fill="#000" >4</text>
<line x1="58.20" y1="764.30" x2="58.20" y2="761.70" stroke="#2a2a2a" stroke-width="1.3"/>
<line x1="90.60" y1="764.30" x2="90.60" y2="761.70" stroke="#2a2a2a" stroke-width="1.3"/>
<line x1="123.00" y1="764.30" x2="123.00" y2="761.70" stroke="#2a2a2a" stroke-width="1.3"/>
<line x1="155.40" y1="764.30" x2="155.40" y2="761.70" stroke="#2a2a2a" stroke-width="1.3"/>
<text x="40.00" y="769.10" font-size="14.9" text-anchor="end" fill="#000" >0.0</text>
<line x1="42.00" y1="719.05" x2="46.80" y2="719.05" stroke="#2a2a2a" stroke-width="1.3"/>
<text x="40.00" y="723.85" font-size="14.9" text-anchor="end" fill="#000" >0.2</text>
<line x1="42.00" y1="673.80" x2="46.80" y2="673.80" stroke="#2a2a2a" stroke-width="1.3"/>
<text x="40.00" y="678.60" font-size="14.9" text-anchor="end" fill="#000" >0.4</text>
<line x1="42.00" y1="628.55" x2="46.80" y2="628.55" stroke="#2a2a2a" stroke-width="1.3"/>
<text x="40.00" y="633.35" font-size="14.9" text-anchor="end" fill="#000" >0.6</text>
<text x="40.00" y="588.10" font-size="14.9" text-anchor="end" fill="#000" >0.8</text>
<line x1="42.00" y1="741.67" x2="44.60" y2="741.67" stroke="#2a2a2a" stroke-width="1.3"/>
<line x1="42.00" y1="696.42" x2="44.60" y2="696.42" stroke="#2a2a2a" stroke-width="1.3"/>
<line x1="42.00" y1="651.17" x2="44.60" y2="651.17" stroke="#2a2a2a" stroke-width="1.3"/>
<line x1="42.00" y1="605.92" x2="44.60" y2="605.92" stroke="#2a2a2a" stroke-width="1.3"/>
<rect x="42.00" y="583.30" width="145.70" height="181.00" fill="none" stroke="#2a2a2a" stroke-width="1.4"/>
<g clip-path="url(#cc)">
<rect x="39.57" y="758.30" width="8.1" height="8.1" fill="#00009e"/>
<rect x="42.00" y="755.39" width="8.1" height="8.1" fill="#00009e"/>
<rect x="46.05" y="749.73" width="8.1" height="8.1" fill="#00009e"/>
<rect x="54.15" y="741.13" width="8.1" height="8.1" fill="#00009e"/>
<rect x="70.35" y="721.56" width="8.1" height="8.1" fill="#00009e"/>
<rect x="102.75" y="682.65" width="8.1" height="8.1" fill="#00009e"/>
<rect x="167.55" y="603.57" width="8.1" height="8.1" fill="#00009e"/>
<circle cx="43.62" cy="763.51" r="3.6" fill="#fff" stroke="#ff0000" stroke-width="1.8"/>
<circle cx="46.05" cy="762.42" r="3.6" fill="#fff" stroke="#ff0000" stroke-width="1.8"/>
<circle cx="50.10" cy="760.79" r="3.6" fill="#fff" stroke="#ff0000" stroke-width="1.8"/>
<circle cx="58.20" cy="756.95" r="3.6" fill="#fff" stroke="#ff0000" stroke-width="1.8"/>
<circle cx="74.40" cy="749.37" r="3.6" fill="#fff" stroke="#ff0000" stroke-width="1.8"/>
<circle cx="106.80" cy="734.66" r="3.6" fill="#fff" stroke="#ff0000" stroke-width="1.8"/>
<circle cx="171.60" cy="704.34" r="3.6" fill="#fff" stroke="#ff0000" stroke-width="1.8"/>
<line x1="42.00" y1="764.30" x2="171.60" y2="607.62" stroke="#00009e" stroke-width="1.25"/>
<line x1="42.00" y1="764.30" x2="171.60" y2="704.34" stroke="#ff0000" stroke-width="1.25"/>
</g>
<line x1="42.00" y1="583.30" x2="42.00" y2="765.00" stroke="#2a2a2a" stroke-width="1.4"/>
<text x="47.00" y="604.50" font-size="20.3" text-anchor="start" fill="#000" >(c)</text>
<text x="87.80" y="797.00" font-size="19.0" text-anchor="start" fill="#000" textLength="49.6" lengthAdjust="spacing" ><tspan class="i">B</tspan><tspan font-size="11.5" dy="5.9">V</tspan><tspan dy="-5.9"> (T)</tspan></text>
<text transform="translate(15.40,669.10) rotate(-90)" font-size="19.0" text-anchor="middle" fill="#000" textLength="85.6" lengthAdjust="spacing">ω<tspan font-size="11.5" dy="6.3">L</tspan><tspan dy="-6.3"> (rad/ps)</tspan></text>
<text x="69.00" y="633.50" font-size="19.0" text-anchor="start" fill="#00009e" textLength="75.8" lengthAdjust="spacing" >|<tspan class="i">g</tspan><tspan font-size="12.6" dy="5.8">e</tspan><tspan dy="-5.8">| = 1.96</tspan></text>
<text x="109.00" y="752.40" font-size="19.0" text-anchor="start" fill="#ff0000" textLength="75.8" lengthAdjust="spacing" >|<tspan class="i">g</tspan><tspan font-size="12.6" dy="5.8">h</tspan><tspan dy="-5.8">| = 0.75</tspan></text>
<text x="231.80" y="780.90" font-size="14.9" text-anchor="middle" fill="#000" >0</text>
<line x1="264.20" y1="764.30" x2="264.20" y2="759.50" stroke="#2a2a2a" stroke-width="1.3"/>
<text x="264.20" y="780.90" font-size="14.9" text-anchor="middle" fill="#000" >1</text>
<line x1="296.60" y1="764.30" x2="296.60" y2="759.50" stroke="#2a2a2a" stroke-width="1.3"/>
<text x="296.60" y="780.90" font-size="14.9" text-anchor="middle" fill="#000" >2</text>
<line x1="329.00" y1="764.30" x2="329.00" y2="759.50" stroke="#2a2a2a" stroke-width="1.3"/>
<text x="329.00" y="780.90" font-size="14.9" text-anchor="middle" fill="#000" >3</text>
<line x1="361.40" y1="764.30" x2="361.40" y2="759.50" stroke="#2a2a2a" stroke-width="1.3"/>
<text x="361.40" y="780.90" font-size="14.9" text-anchor="middle" fill="#000" >4</text>
<line x1="248.00" y1="764.30" x2="248.00" y2="761.70" stroke="#2a2a2a" stroke-width="1.3"/>
<line x1="280.40" y1="764.30" x2="280.40" y2="761.70" stroke="#2a2a2a" stroke-width="1.3"/>
<line x1="312.80" y1="764.30" x2="312.80" y2="761.70" stroke="#2a2a2a" stroke-width="1.3"/>
<line x1="345.20" y1="764.30" x2="345.20" y2="761.70" stroke="#2a2a2a" stroke-width="1.3"/>
<line x1="377.60" y1="764.30" x2="377.60" y2="761.70" stroke="#2a2a2a" stroke-width="1.3"/>
<line x1="231.80" y1="636.06" x2="236.60" y2="636.06" stroke="#2a2a2a" stroke-width="1.3"/>
<text x="227.50" y="641.46" font-size="14.9" text-anchor="end" fill="#000" >1</text>
<line x1="231.80" y1="613.34" x2="234.40" y2="613.34" stroke="#2a2a2a" stroke-width="1.3"/>
<line x1="231.80" y1="600.05" x2="234.40" y2="600.05" stroke="#2a2a2a" stroke-width="1.3"/>
<line x1="231.80" y1="590.62" x2="234.40" y2="590.62" stroke="#2a2a2a" stroke-width="1.3"/>
<line x1="231.80" y1="711.54" x2="236.60" y2="711.54" stroke="#2a2a2a" stroke-width="1.3"/>
<text x="227.50" y="716.94" font-size="14.9" text-anchor="end" fill="#000" >0.1</text>
<line x1="231.80" y1="688.82" x2="234.40" y2="688.82" stroke="#2a2a2a" stroke-width="1.3"/>
<line x1="231.80" y1="675.53" x2="234.40" y2="675.53" stroke="#2a2a2a" stroke-width="1.3"/>
<line x1="231.80" y1="666.10" x2="234.40" y2="666.10" stroke="#2a2a2a" stroke-width="1.3"/>
<line x1="231.80" y1="658.78" x2="234.40" y2="658.78" stroke="#2a2a2a" stroke-width="1.3"/>
<line x1="231.80" y1="652.81" x2="234.40" y2="652.81" stroke="#2a2a2a" stroke-width="1.3"/>
<line x1="231.80" y1="647.75" x2="234.40" y2="647.75" stroke="#2a2a2a" stroke-width="1.3"/>
<line x1="231.80" y1="643.37" x2="234.40" y2="643.37" stroke="#2a2a2a" stroke-width="1.3"/>
<line x1="231.80" y1="639.51" x2="234.40" y2="639.51" stroke="#2a2a2a" stroke-width="1.3"/>
<line x1="231.80" y1="751.01" x2="234.40" y2="751.01" stroke="#2a2a2a" stroke-width="1.3"/>
<line x1="231.80" y1="741.58" x2="234.40" y2="741.58" stroke="#2a2a2a" stroke-width="1.3"/>
<line x1="231.80" y1="734.26" x2="234.40" y2="734.26" stroke="#2a2a2a" stroke-width="1.3"/>
<line x1="231.80" y1="728.29" x2="234.40" y2="728.29" stroke="#2a2a2a" stroke-width="1.3"/>
<line x1="231.80" y1="723.23" x2="234.40" y2="723.23" stroke="#2a2a2a" stroke-width="1.3"/>
<line x1="231.80" y1="718.85" x2="234.40" y2="718.85" stroke="#2a2a2a" stroke-width="1.3"/>
<line x1="231.80" y1="714.99" x2="234.40" y2="714.99" stroke="#2a2a2a" stroke-width="1.3"/>
<g clip-path="url(#cd)">
<rect x="229.37" y="610.29" width="8.1" height="8.1" fill="#00009e"/>
<rect x="231.80" y="631.04" width="8.1" height="8.1" fill="#00009e"/>
<rect x="235.85" y="644.65" width="8.1" height="8.1" fill="#00009e"/>
<rect x="243.95" y="662.88" width="8.1" height="8.1" fill="#00009e"/>
<rect x="260.15" y="680.62" width="8.1" height="8.1" fill="#00009e"/>
<rect x="292.55" y="702.34" width="8.1" height="8.1" fill="#00009e"/>
<rect x="357.35" y="716.06" width="8.1" height="8.1" fill="#00009e"/>
<circle cx="233.42" cy="657.18" r="3.6" fill="#fff" stroke="#ff0000" stroke-width="1.8"/>
<circle cx="235.85" cy="649.93" r="3.6" fill="#fff" stroke="#ff0000" stroke-width="1.8"/>
<circle cx="239.90" cy="654.78" r="3.6" fill="#fff" stroke="#ff0000" stroke-width="1.8"/>
<circle cx="248.00" cy="670.29" r="3.6" fill="#fff" stroke="#ff0000" stroke-width="1.8"/>
<circle cx="264.20" cy="693.20" r="3.6" fill="#fff" stroke="#ff0000" stroke-width="1.8"/>
<circle cx="296.60" cy="719.27" r="3.6" fill="#fff" stroke="#ff0000" stroke-width="1.8"/>
<circle cx="361.40" cy="749.93" r="3.6" fill="#fff" stroke="#ff0000" stroke-width="1.8"/>
<path d="M239.90,648.72 L241.44,652.66 L242.98,656.17 L244.51,659.34 L246.05,662.24 L247.59,664.89 L249.13,667.35 L250.67,669.64 L252.20,671.78 L253.74,673.78 L255.28,675.67 L256.82,677.46 L258.36,679.16 L259.89,680.77 L261.43,682.31 L262.97,683.77 L264.51,685.18 L266.05,686.53 L267.58,687.82 L269.12,689.06 L270.66,690.26 L272.20,691.42 L273.74,692.54 L275.27,693.62 L276.81,694.66 L278.35,695.68 L279.89,696.66 L281.43,697.62 L282.96,698.54 L284.50,699.45 L286.04,700.32 L287.58,701.18 L289.12,702.01 L290.65,702.82 L292.19,703.62 L293.73,704.39 L295.27,705.15 L296.81,705.89 L298.34,706.61 L299.88,707.32 L301.42,708.01 L302.96,708.69 L304.49,709.35 L306.03,710.00 L307.57,710.64 L309.11,711.27 L310.65,711.88 L312.18,712.49 L313.72,713.08 L315.26,713.66 L316.80,714.23 L318.34,714.79 L319.87,715.35 L321.41,715.89 L322.95,716.42 L324.49,716.95 L326.03,717.47 L327.56,717.98 L329.10,718.48 L330.64,718.97 L332.18,719.46 L333.72,719.94 L335.25,720.41 L336.79,720.88 L338.33,721.34 L339.87,721.79 L341.41,722.24 L342.94,722.68 L344.48,723.11 L346.02,723.54 L347.56,723.97 L349.10,724.39 L350.63,724.80 L352.17,725.21 L353.71,725.61 L355.25,726.01 L356.79,726.40 L358.32,726.79 L359.86,727.17 L361.40,727.55" fill="none" stroke="#00009e" stroke-width="1.15"/>
<path d="M239.20,654.20 L239.47,654.91 L239.73,655.63 L240.00,656.34 L240.26,657.05 L240.53,657.76 L240.80,658.48 L241.09,659.19 L241.40,659.90 L241.74,660.64 L242.09,661.38 L242.45,662.12 L242.83,662.85 L243.21,663.59 L243.60,664.33 L244.00,665.06 L244.40,665.80 L244.82,666.55 L245.24,667.29 L245.68,668.03 L246.12,668.76 L246.56,669.51 L247.01,670.26 L247.46,671.02 L247.90,671.80 L248.37,672.67 L248.84,673.55 L249.29,674.46 L249.76,675.37 L250.23,676.28 L250.73,677.20 L251.25,678.10 L251.80,679.00 L252.43,679.94 L253.08,680.87 L253.75,681.79 L254.45,682.70 L255.18,683.63 L255.93,684.56 L256.70,685.52 L257.50,686.50 L258.49,687.73 L259.52,689.02 L260.58,690.34 L261.67,691.68 L262.81,693.02 L263.99,694.33 L265.22,695.59 L266.50,696.80 L267.94,698.03 L269.46,699.22 L271.04,700.37 L272.66,701.49 L274.32,702.58 L275.99,703.64 L277.65,704.68 L279.30,705.70 L280.88,706.67 L282.45,707.61 L284.03,708.52 L285.61,709.41 L287.22,710.29 L288.84,711.14 L290.50,711.98 L292.20,712.80 L294.06,713.66 L295.94,714.49 L297.86,715.30 L299.80,716.08 L301.78,716.86 L303.81,717.63 L305.88,718.41 L308.00,719.20 L310.54,720.13 L313.13,721.06 L315.79,721.98 L318.50,722.91 L321.28,723.83 L324.12,724.76 L327.03,725.68 L330.00,726.60 L333.65,727.69 L337.44,728.78 L341.35,729.87 L345.34,730.95 L349.37,732.04 L353.41,733.13 L357.44,734.21 L361.40,735.30" fill="none" stroke="#ff0000" stroke-width="1.15"/>
</g>
<rect x="231.80" y="583.30" width="145.90" height="181.00" fill="none" stroke="#2a2a2a" stroke-width="1.4"/>
<text x="239.40" y="605.50" font-size="20.3" text-anchor="start" fill="#000" >(d)</text>
<text x="278.00" y="797.00" font-size="19.0" text-anchor="start" fill="#000" textLength="49.6" lengthAdjust="spacing" ><tspan class="i">B</tspan><tspan font-size="11.5" dy="5.9">V</tspan><tspan dy="-5.9"> (T)</tspan></text>
<g transform="translate(213.3,684.9) rotate(-90)"><text font-size="19" text-anchor="start"><tspan class="i">T</tspan><tspan font-size="11.5" dy="6.3" dx="-1.8">2</tspan><tspan font-size="11.5" dy="-16" dx="-5.2">*</tspan><tspan dy="9.7" dx="0.5"> (ns)</tspan></text></g>
<text x="273.20" y="675.60" font-size="19.0" text-anchor="start" fill="#00009e" textLength="81.4" lengthAdjust="spacing" >Δ<tspan class="i">g</tspan><tspan font-size="12.6" dy="5.8">e</tspan><tspan dy="-5.8"> = 0.04</tspan></text>
<text x="236.80" y="743.70" font-size="19.0" text-anchor="start" fill="#ff0000" textLength="81.0" lengthAdjust="spacing" >Δ<tspan class="i">g</tspan><tspan font-size="12.6" dy="5.8">h</tspan><tspan dy="-5.8"> = 0.05</tspan></text>
<text x="432.00" y="780.70" font-size="14.9" text-anchor="middle" fill="#000" >0</text>
<line x1="458.54" y1="764.40" x2="458.54" y2="759.60" stroke="#2a2a2a" stroke-width="1.3"/>
<text x="458.54" y="780.70" font-size="14.9" text-anchor="middle" fill="#000" >20</text>
<line x1="485.08" y1="764.40" x2="485.08" y2="759.60" stroke="#2a2a2a" stroke-width="1.3"/>
<text x="485.08" y="780.70" font-size="14.9" text-anchor="middle" fill="#000" >40</text>
<line x1="511.62" y1="764.40" x2="511.62" y2="759.60" stroke="#2a2a2a" stroke-width="1.3"/>
<text x="511.62" y="780.70" font-size="14.9" text-anchor="middle" fill="#000" >60</text>
<line x1="538.16" y1="764.40" x2="538.16" y2="759.60" stroke="#2a2a2a" stroke-width="1.3"/>
<text x="538.16" y="780.70" font-size="14.9" text-anchor="middle" fill="#000" >80</text>
<line x1="564.70" y1="764.40" x2="564.70" y2="759.60" stroke="#2a2a2a" stroke-width="1.3"/>
<text x="564.70" y="780.70" font-size="14.9" text-anchor="middle" fill="#000" >100</text>
<line x1="445.27" y1="764.40" x2="445.27" y2="761.80" stroke="#2a2a2a" stroke-width="1.3"/>
<line x1="471.81" y1="764.40" x2="471.81" y2="761.80" stroke="#2a2a2a" stroke-width="1.3"/>
<line x1="498.35" y1="764.40" x2="498.35" y2="761.80" stroke="#2a2a2a" stroke-width="1.3"/>
<line x1="524.89" y1="764.40" x2="524.89" y2="761.80" stroke="#2a2a2a" stroke-width="1.3"/>
<line x1="551.43" y1="764.40" x2="551.43" y2="761.80" stroke="#2a2a2a" stroke-width="1.3"/>
<line x1="577.97" y1="764.40" x2="577.97" y2="761.80" stroke="#2a2a2a" stroke-width="1.3"/>
<line x1="432.00" y1="596.00" x2="436.80" y2="596.00" stroke="#2a2a2a" stroke-width="1.3"/>
<text x="427.60" y="600.90" font-size="14.9" text-anchor="end" fill="#000" >1</text>
<line x1="432.00" y1="706.30" x2="436.80" y2="706.30" stroke="#2a2a2a" stroke-width="1.3"/>
<text x="427.60" y="711.20" font-size="14.9" text-anchor="end" fill="#000" >0.1</text>
<line x1="432.00" y1="673.10" x2="434.60" y2="673.10" stroke="#2a2a2a" stroke-width="1.3"/>
<line x1="432.00" y1="653.67" x2="434.60" y2="653.67" stroke="#2a2a2a" stroke-width="1.3"/>
<line x1="432.00" y1="639.89" x2="434.60" y2="639.89" stroke="#2a2a2a" stroke-width="1.3"/>
<line x1="432.00" y1="629.20" x2="434.60" y2="629.20" stroke="#2a2a2a" stroke-width="1.3"/>
<line x1="432.00" y1="620.47" x2="434.60" y2="620.47" stroke="#2a2a2a" stroke-width="1.3"/>
<line x1="432.00" y1="613.09" x2="434.60" y2="613.09" stroke="#2a2a2a" stroke-width="1.3"/>
<line x1="432.00" y1="606.69" x2="434.60" y2="606.69" stroke="#2a2a2a" stroke-width="1.3"/>
<line x1="432.00" y1="601.05" x2="434.60" y2="601.05" stroke="#2a2a2a" stroke-width="1.3"/>
<line x1="432.00" y1="750.19" x2="434.60" y2="750.19" stroke="#2a2a2a" stroke-width="1.3"/>
<line x1="432.00" y1="739.50" x2="434.60" y2="739.50" stroke="#2a2a2a" stroke-width="1.3"/>
<line x1="432.00" y1="730.77" x2="434.60" y2="730.77" stroke="#2a2a2a" stroke-width="1.3"/>
<line x1="432.00" y1="723.39" x2="434.60" y2="723.39" stroke="#2a2a2a" stroke-width="1.3"/>
<line x1="432.00" y1="716.99" x2="434.60" y2="716.99" stroke="#2a2a2a" stroke-width="1.3"/>
<line x1="432.00" y1="711.35" x2="434.60" y2="711.35" stroke="#2a2a2a" stroke-width="1.3"/>
<g clip-path="url(#ce)">
<circle cx="438.50" cy="600.70" r="3.6" fill="#fff" stroke="#ff0000" stroke-width="1.8"/>
<circle cx="445.40" cy="602.60" r="3.6" fill="#fff" stroke="#ff0000" stroke-width="1.8"/>
<circle cx="453.20" cy="588.30" r="3.6" fill="#fff" stroke="#ff0000" stroke-width="1.8"/>
<circle cx="453.20" cy="610.60" r="3.6" fill="#fff" stroke="#ff0000" stroke-width="1.8"/>
<circle cx="462.90" cy="601.80" r="3.6" fill="#fff" stroke="#ff0000" stroke-width="1.8"/>
<circle cx="476.90" cy="654.60" r="3.6" fill="#fff" stroke="#ff0000" stroke-width="1.8"/>
<circle cx="494.30" cy="658.90" r="3.6" fill="#fff" stroke="#ff0000" stroke-width="1.8"/>
<circle cx="494.30" cy="691.00" r="3.6" fill="#fff" stroke="#ff0000" stroke-width="1.8"/>
<circle cx="510.40" cy="687.60" r="3.6" fill="#fff" stroke="#ff0000" stroke-width="1.8"/>
<circle cx="527.40" cy="745.00" r="3.6" fill="#fff" stroke="#ff0000" stroke-width="1.8"/>
<circle cx="560.70" cy="739.70" r="3.6" fill="#fff" stroke="#ff0000" stroke-width="1.8"/>
<path d="M435.18,598.97 L436.24,598.97 L437.30,598.97 L438.36,598.97 L439.42,598.97 L440.48,598.97 L441.53,598.97 L442.59,598.97 L443.65,598.97 L444.71,598.97 L445.77,598.97 L446.83,598.98 L447.88,598.98 L448.94,599.00 L450.00,599.03 L451.06,599.08 L452.12,599.16 L453.18,599.30 L454.23,599.49 L455.29,599.77 L456.35,600.16 L457.41,600.67 L458.47,601.33 L459.52,602.15 L460.58,603.16 L461.64,604.36 L462.70,605.77 L463.76,607.38 L464.82,609.20 L465.87,611.22 L466.93,613.43 L467.99,615.81 L469.05,618.35 L470.11,621.02 L471.17,623.81 L472.22,626.69 L473.28,629.65 L474.34,632.66 L475.40,635.71 L476.46,638.78 L477.51,641.85 L478.57,644.92 L479.63,647.97 L480.69,650.99 L481.75,653.98 L482.81,656.93 L483.86,659.83 L484.92,662.68 L485.98,665.48 L487.04,668.23 L488.10,670.92 L489.16,673.55 L490.21,676.12 L491.27,678.63 L492.33,681.08 L493.39,683.48 L494.45,685.82 L495.51,688.10 L496.56,690.32 L497.62,692.49 L498.68,694.61 L499.74,696.68 L500.80,698.69 L501.85,700.66 L502.91,702.58 L503.97,704.45 L505.03,706.27 L506.09,708.06 L507.15,709.79 L508.20,711.49 L509.26,713.15 L510.32,714.77 L511.38,716.34 L512.44,717.89 L513.50,719.39 L514.55,720.87 L515.61,722.31 L516.67,723.71 L517.73,725.09 L518.79,726.43 L519.85,727.74 L520.90,729.03 L521.96,730.29 L523.02,731.52 L524.08,732.72 L525.14,733.90 L526.19,735.06 L527.25,736.19 L528.31,737.29 L529.37,738.38 L530.43,739.44 L531.49,740.48 L532.54,741.50 L533.60,742.50 L534.66,743.48 L535.72,744.45 L536.78,745.39 L537.84,746.32 L538.89,747.22 L539.95,748.11 L541.01,748.99 L542.07,749.85 L543.13,750.69 L544.19,751.52 L545.24,752.33 L546.30,753.13 L547.36,753.91 L548.42,754.68 L549.48,755.44 L550.53,756.18 L551.59,756.91 L552.65,757.63 L553.71,758.34 L554.77,759.03 L555.83,759.71 L556.88,760.39 L557.94,761.05 L559.00,761.70 L560.06,762.34 L561.12,762.97" fill="none" stroke="#ff0000" stroke-width="1.35"/>
<line x1="509.2" y1="764.6" x2="512.2" y2="764.6" stroke="#ff0000" stroke-width="1.2"/>
</g>
<rect x="432.00" y="583.20" width="146.10" height="181.20" fill="none" stroke="#2a2a2a" stroke-width="1.4"/>
<text x="573.80" y="603.60" font-size="19.6" text-anchor="end" fill="#000" >(e)</text>
<text x="505.00" y="797.50" font-size="19.3" text-anchor="middle" fill="#000" textLength="131.2" lengthAdjust="spacing" >Temperature (K)</text>
<g transform="translate(414.2,684.5) rotate(-90)"><text font-size="19" text-anchor="start"><tspan class="i">T</tspan><tspan font-size="11.5" dy="6.3" dx="-1.8">2</tspan><tspan font-size="11.5" dx="4.0">h</tspan><tspan font-size="11.5" dy="-16" dx="-14.8">*</tspan><tspan dy="9.7" dx="7.7"> (ns)</tspan></text></g>
<text x="480.00" y="633.50" font-size="18.0" text-anchor="start" fill="#000" textLength="95.8" lengthAdjust="spacing" ><tspan class="i">B</tspan><tspan font-size="11.5" dy="5.4">V</tspan><tspan dy="-5.4"> = 0.125 T</tspan></text>
</svg></body></html>
